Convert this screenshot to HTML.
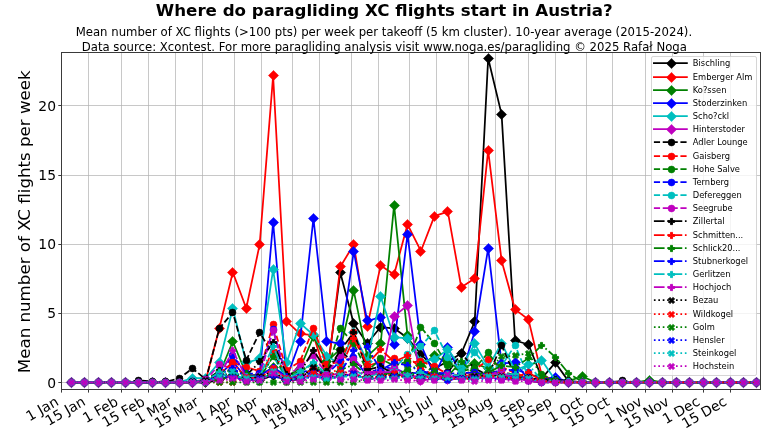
<!DOCTYPE html>
<html lang="en"><head><meta charset="utf-8"><title>Where do paragliding XC flights start in Austria?</title>
<style>html,body{margin:0;padding:0;background:#fff}body{width:768px;height:432px;overflow:hidden}</style>
</head><body>
<svg width="768" height="432" viewBox="0 0 768 432" style="display:block;will-change:transform;font-family:'DejaVu Sans','Liberation Sans',sans-serif">
<rect width="768" height="432" fill="#fff"/>
<clipPath id="axclip"><rect x="62" y="53" width="698" height="336"/></clipPath>
<path d="M88.5 53V389M121.5 53V389M148.5 53V389M175.5 53V389M202.5 53V389M234.5 53V389M261.5 53V389M292.5 53V389M319.5 53V389M351.5 53V389M378.5 53V389M409.5 53V389M436.5 53V389M468.5 53V389M495.5 53V389M528.5 53V389M555.5 53V389M586.5 53V389M612.5 53V389M645.5 53V389M672.5 53V389M703.5 53V389M730.5 53V389" stroke="#b0b0b0" stroke-opacity="0.7" stroke-width="1" fill="none"/>
<path d="M62 382.5H760M62 313.5H760M62 244.5H760M62 175.5H760M62 105.5H760" stroke="#b0b0b0" stroke-opacity="0.7" stroke-width="1" fill="none"/>
<g clip-path="url(#axclip)">
<g stroke="#000000" fill="#000000">
<polyline fill="none" stroke-width="1.75" stroke-linejoin="round" stroke-linecap="square" points="71.52,382.32 84.96,382.32 98.4,382.32 111.84,382.32 125.28,382.32 138.72,382.32 152.16,382.32 165.6,382.32 179.04,382.32 192.48,382.32 205.92,382.32 219.36,379.97 232.8,375.4 246.24,379.69 259.68,380.52 273.12,375.12 286.56,380.52 300,379.27 313.44,374.01 326.88,375.4 340.32,272.66 353.76,323.75 367.2,343.55 380.64,327.07 394.08,328.32 407.52,338.01 420.96,354.21 434.4,368.47 447.84,361.55 461.28,353.52 474.72,321.54 488.16,58.32 501.6,114.4 515.04,340.51 528.48,344.52 541.92,378.17 555.36,362.66 568.8,381.63 582.24,382.32 595.68,382.32 609.12,382.32 622.56,382.32 636,382.32 649.44,382.32 662.88,382.32 676.32,382.32 689.76,382.32 703.2,382.32 716.64,382.32 730.08,382.32 743.52,382.32 756.96,382.32"/>
<g stroke-width="0.56" stroke-linejoin="miter">
<path d="M71.5 377.41L76.59 382.5L71.5 387.59L66.41 382.5Z"/>
<path d="M84.5 377.41L89.59 382.5L84.5 387.59L79.41 382.5Z"/>
<path d="M98.5 377.41L103.59 382.5L98.5 387.59L93.41 382.5Z"/>
<path d="M111.5 377.41L116.59 382.5L111.5 387.59L106.41 382.5Z"/>
<path d="M125.5 377.41L130.59 382.5L125.5 387.59L120.41 382.5Z"/>
<path d="M138.5 377.41L143.59 382.5L138.5 387.59L133.41 382.5Z"/>
<path d="M152.5 377.41L157.59 382.5L152.5 387.59L147.41 382.5Z"/>
<path d="M165.5 377.41L170.59 382.5L165.5 387.59L160.41 382.5Z"/>
<path d="M179.5 377.41L184.59 382.5L179.5 387.59L174.41 382.5Z"/>
<path d="M192.5 377.41L197.59 382.5L192.5 387.59L187.41 382.5Z"/>
<path d="M205.5 377.41L210.59 382.5L205.5 387.59L200.41 382.5Z"/>
<path d="M219.5 374.41L224.59 379.5L219.5 384.59L214.41 379.5Z"/>
<path d="M232.5 370.41L237.59 375.5L232.5 380.59L227.41 375.5Z"/>
<path d="M246.5 374.41L251.59 379.5L246.5 384.59L241.41 379.5Z"/>
<path d="M259.5 375.41L264.59 380.5L259.5 385.59L254.41 380.5Z"/>
<path d="M273.5 370.41L278.59 375.5L273.5 380.59L268.41 375.5Z"/>
<path d="M286.5 375.41L291.59 380.5L286.5 385.59L281.41 380.5Z"/>
<path d="M300.5 374.41L305.59 379.5L300.5 384.59L295.41 379.5Z"/>
<path d="M313.5 369.41L318.59 374.5L313.5 379.59L308.41 374.5Z"/>
<path d="M326.5 370.41L331.59 375.5L326.5 380.59L321.41 375.5Z"/>
<path d="M340.5 267.41L345.59 272.5L340.5 277.59L335.41 272.5Z"/>
<path d="M353.5 318.41L358.59 323.5L353.5 328.59L348.41 323.5Z"/>
<path d="M367.5 338.41L372.59 343.5L367.5 348.59L362.41 343.5Z"/>
<path d="M380.5 322.41L385.59 327.5L380.5 332.59L375.41 327.5Z"/>
<path d="M394.5 323.41L399.59 328.5L394.5 333.59L389.41 328.5Z"/>
<path d="M407.5 333.41L412.59 338.5L407.5 343.59L402.41 338.5Z"/>
<path d="M420.5 349.41L425.59 354.5L420.5 359.59L415.41 354.5Z"/>
<path d="M434.5 363.41L439.59 368.5L434.5 373.59L429.41 368.5Z"/>
<path d="M447.5 356.41L452.59 361.5L447.5 366.59L442.41 361.5Z"/>
<path d="M461.5 348.41L466.59 353.5L461.5 358.59L456.41 353.5Z"/>
<path d="M474.5 316.41L479.59 321.5L474.5 326.59L469.41 321.5Z"/>
<path d="M488.5 53.41L493.59 58.5L488.5 63.59L483.41 58.5Z"/>
<path d="M501.5 109.41L506.59 114.5L501.5 119.59L496.41 114.5Z"/>
<path d="M515.5 335.41L520.59 340.5L515.5 345.59L510.41 340.5Z"/>
<path d="M528.5 339.41L533.59 344.5L528.5 349.59L523.41 344.5Z"/>
<path d="M541.5 373.41L546.59 378.5L541.5 383.59L536.41 378.5Z"/>
<path d="M555.5 357.41L560.59 362.5L555.5 367.59L550.41 362.5Z"/>
<path d="M568.5 376.41L573.59 381.5L568.5 386.59L563.41 381.5Z"/>
<path d="M582.5 377.41L587.59 382.5L582.5 387.59L577.41 382.5Z"/>
<path d="M595.5 377.41L600.59 382.5L595.5 387.59L590.41 382.5Z"/>
<path d="M609.5 377.41L614.59 382.5L609.5 387.59L604.41 382.5Z"/>
<path d="M622.5 377.41L627.59 382.5L622.5 387.59L617.41 382.5Z"/>
<path d="M636.5 377.41L641.59 382.5L636.5 387.59L631.41 382.5Z"/>
<path d="M649.5 377.41L654.59 382.5L649.5 387.59L644.41 382.5Z"/>
<path d="M662.5 377.41L667.59 382.5L662.5 387.59L657.41 382.5Z"/>
<path d="M676.5 377.41L681.59 382.5L676.5 387.59L671.41 382.5Z"/>
<path d="M689.5 377.41L694.59 382.5L689.5 387.59L684.41 382.5Z"/>
<path d="M703.5 377.41L708.59 382.5L703.5 387.59L698.41 382.5Z"/>
<path d="M716.5 377.41L721.59 382.5L716.5 387.59L711.41 382.5Z"/>
<path d="M730.5 377.41L735.59 382.5L730.5 387.59L725.41 382.5Z"/>
<path d="M743.5 377.41L748.59 382.5L743.5 387.59L738.41 382.5Z"/>
<path d="M756.5 377.41L761.59 382.5L756.5 387.59L751.41 382.5Z"/>
</g></g>
<g stroke="#ff0000" fill="#ff0000">
<polyline fill="none" stroke-width="1.75" stroke-linejoin="round" stroke-linecap="square" points="71.52,382.32 84.96,382.32 98.4,382.32 111.84,382.32 125.28,382.32 138.72,382.32 152.16,382.32 165.6,382.32 179.04,382.32 192.48,381.63 205.92,379.55 219.36,328.32 232.8,272.24 246.24,308.24 259.68,244.41 273.12,75.91 286.56,321.12 300,333.86 313.44,335.24 326.88,378.17 340.32,266.71 353.76,244.55 367.2,326.52 380.64,265.6 394.08,274.46 407.52,224.48 420.96,251.06 434.4,216.17 447.84,211.6 461.28,287.34 474.72,278.48 488.16,150.4 501.6,260.75 515.04,309.35 528.48,319.46 541.92,376.09 555.36,379.55 568.8,381.63 582.24,382.32 595.68,382.32 609.12,382.32 622.56,382.32 636,382.32 649.44,382.32 662.88,382.32 676.32,382.32 689.76,382.32 703.2,382.32 716.64,382.32 730.08,382.32 743.52,382.32 756.96,382.32"/>
<g stroke-width="0.56" stroke-linejoin="miter">
<path d="M71.5 377.41L76.59 382.5L71.5 387.59L66.41 382.5Z"/>
<path d="M84.5 377.41L89.59 382.5L84.5 387.59L79.41 382.5Z"/>
<path d="M98.5 377.41L103.59 382.5L98.5 387.59L93.41 382.5Z"/>
<path d="M111.5 377.41L116.59 382.5L111.5 387.59L106.41 382.5Z"/>
<path d="M125.5 377.41L130.59 382.5L125.5 387.59L120.41 382.5Z"/>
<path d="M138.5 377.41L143.59 382.5L138.5 387.59L133.41 382.5Z"/>
<path d="M152.5 377.41L157.59 382.5L152.5 387.59L147.41 382.5Z"/>
<path d="M165.5 377.41L170.59 382.5L165.5 387.59L160.41 382.5Z"/>
<path d="M179.5 377.41L184.59 382.5L179.5 387.59L174.41 382.5Z"/>
<path d="M192.5 376.41L197.59 381.5L192.5 386.59L187.41 381.5Z"/>
<path d="M205.5 374.41L210.59 379.5L205.5 384.59L200.41 379.5Z"/>
<path d="M219.5 323.41L224.59 328.5L219.5 333.59L214.41 328.5Z"/>
<path d="M232.5 267.41L237.59 272.5L232.5 277.59L227.41 272.5Z"/>
<path d="M246.5 303.41L251.59 308.5L246.5 313.59L241.41 308.5Z"/>
<path d="M259.5 239.41L264.59 244.5L259.5 249.59L254.41 244.5Z"/>
<path d="M273.5 70.41L278.59 75.5L273.5 80.59L268.41 75.5Z"/>
<path d="M286.5 316.41L291.59 321.5L286.5 326.59L281.41 321.5Z"/>
<path d="M300.5 328.41L305.59 333.5L300.5 338.59L295.41 333.5Z"/>
<path d="M313.5 330.41L318.59 335.5L313.5 340.59L308.41 335.5Z"/>
<path d="M326.5 373.41L331.59 378.5L326.5 383.59L321.41 378.5Z"/>
<path d="M340.5 261.41L345.59 266.5L340.5 271.59L335.41 266.5Z"/>
<path d="M353.5 239.41L358.59 244.5L353.5 249.59L348.41 244.5Z"/>
<path d="M367.5 321.41L372.59 326.5L367.5 331.59L362.41 326.5Z"/>
<path d="M380.5 260.41L385.59 265.5L380.5 270.59L375.41 265.5Z"/>
<path d="M394.5 269.41L399.59 274.5L394.5 279.59L389.41 274.5Z"/>
<path d="M407.5 219.41L412.59 224.5L407.5 229.59L402.41 224.5Z"/>
<path d="M420.5 246.41L425.59 251.5L420.5 256.59L415.41 251.5Z"/>
<path d="M434.5 211.41L439.59 216.5L434.5 221.59L429.41 216.5Z"/>
<path d="M447.5 206.41L452.59 211.5L447.5 216.59L442.41 211.5Z"/>
<path d="M461.5 282.41L466.59 287.5L461.5 292.59L456.41 287.5Z"/>
<path d="M474.5 273.41L479.59 278.5L474.5 283.59L469.41 278.5Z"/>
<path d="M488.5 145.41L493.59 150.5L488.5 155.59L483.41 150.5Z"/>
<path d="M501.5 255.41L506.59 260.5L501.5 265.59L496.41 260.5Z"/>
<path d="M515.5 304.41L520.59 309.5L515.5 314.59L510.41 309.5Z"/>
<path d="M528.5 314.41L533.59 319.5L528.5 324.59L523.41 319.5Z"/>
<path d="M541.5 371.41L546.59 376.5L541.5 381.59L536.41 376.5Z"/>
<path d="M555.5 374.41L560.59 379.5L555.5 384.59L550.41 379.5Z"/>
<path d="M568.5 376.41L573.59 381.5L568.5 386.59L563.41 381.5Z"/>
<path d="M582.5 377.41L587.59 382.5L582.5 387.59L577.41 382.5Z"/>
<path d="M595.5 377.41L600.59 382.5L595.5 387.59L590.41 382.5Z"/>
<path d="M609.5 377.41L614.59 382.5L609.5 387.59L604.41 382.5Z"/>
<path d="M622.5 377.41L627.59 382.5L622.5 387.59L617.41 382.5Z"/>
<path d="M636.5 377.41L641.59 382.5L636.5 387.59L631.41 382.5Z"/>
<path d="M649.5 377.41L654.59 382.5L649.5 387.59L644.41 382.5Z"/>
<path d="M662.5 377.41L667.59 382.5L662.5 387.59L657.41 382.5Z"/>
<path d="M676.5 377.41L681.59 382.5L676.5 387.59L671.41 382.5Z"/>
<path d="M689.5 377.41L694.59 382.5L689.5 387.59L684.41 382.5Z"/>
<path d="M703.5 377.41L708.59 382.5L703.5 387.59L698.41 382.5Z"/>
<path d="M716.5 377.41L721.59 382.5L716.5 387.59L711.41 382.5Z"/>
<path d="M730.5 377.41L735.59 382.5L730.5 387.59L725.41 382.5Z"/>
<path d="M743.5 377.41L748.59 382.5L743.5 387.59L738.41 382.5Z"/>
<path d="M756.5 377.41L761.59 382.5L756.5 387.59L751.41 382.5Z"/>
</g></g>
<g stroke="#008000" fill="#008000">
<polyline fill="none" stroke-width="1.75" stroke-linejoin="round" stroke-linecap="square" points="71.52,382.32 84.96,382.32 98.4,382.32 111.84,382.32 125.28,382.32 138.72,382.32 152.16,382.32 165.6,382.32 179.04,382.32 192.48,382.32 205.92,380.94 219.36,374.01 232.8,341.47 246.24,374.01 259.68,375.4 273.12,367.5 286.56,376.78 300,368.47 313.44,336.63 326.88,361.55 340.32,349.09 353.76,290.94 367.2,356.43 380.64,343.97 394.08,205.09 407.52,335.66 420.96,365.7 434.4,355.74 447.84,363.35 461.28,368.47 474.72,363.35 488.16,368.47 501.6,375.4 515.04,376.78 528.48,378.17 541.92,379.55 555.36,380.94 568.8,380.94 582.24,376.5 595.68,382.32 609.12,382.32 622.56,382.32 636,382.32 649.44,380.1 662.88,382.32 676.32,382.32 689.76,382.32 703.2,382.32 716.64,382.32 730.08,382.32 743.52,382.32 756.96,382.32"/>
<g stroke-width="0.56" stroke-linejoin="miter">
<path d="M71.5 377.41L76.59 382.5L71.5 387.59L66.41 382.5Z"/>
<path d="M84.5 377.41L89.59 382.5L84.5 387.59L79.41 382.5Z"/>
<path d="M98.5 377.41L103.59 382.5L98.5 387.59L93.41 382.5Z"/>
<path d="M111.5 377.41L116.59 382.5L111.5 387.59L106.41 382.5Z"/>
<path d="M125.5 377.41L130.59 382.5L125.5 387.59L120.41 382.5Z"/>
<path d="M138.5 377.41L143.59 382.5L138.5 387.59L133.41 382.5Z"/>
<path d="M152.5 377.41L157.59 382.5L152.5 387.59L147.41 382.5Z"/>
<path d="M165.5 377.41L170.59 382.5L165.5 387.59L160.41 382.5Z"/>
<path d="M179.5 377.41L184.59 382.5L179.5 387.59L174.41 382.5Z"/>
<path d="M192.5 377.41L197.59 382.5L192.5 387.59L187.41 382.5Z"/>
<path d="M205.5 375.41L210.59 380.5L205.5 385.59L200.41 380.5Z"/>
<path d="M219.5 369.41L224.59 374.5L219.5 379.59L214.41 374.5Z"/>
<path d="M232.5 336.41L237.59 341.5L232.5 346.59L227.41 341.5Z"/>
<path d="M246.5 369.41L251.59 374.5L246.5 379.59L241.41 374.5Z"/>
<path d="M259.5 370.41L264.59 375.5L259.5 380.59L254.41 375.5Z"/>
<path d="M273.5 362.41L278.59 367.5L273.5 372.59L268.41 367.5Z"/>
<path d="M286.5 371.41L291.59 376.5L286.5 381.59L281.41 376.5Z"/>
<path d="M300.5 363.41L305.59 368.5L300.5 373.59L295.41 368.5Z"/>
<path d="M313.5 331.41L318.59 336.5L313.5 341.59L308.41 336.5Z"/>
<path d="M326.5 356.41L331.59 361.5L326.5 366.59L321.41 361.5Z"/>
<path d="M340.5 344.41L345.59 349.5L340.5 354.59L335.41 349.5Z"/>
<path d="M353.5 285.41L358.59 290.5L353.5 295.59L348.41 290.5Z"/>
<path d="M367.5 351.41L372.59 356.5L367.5 361.59L362.41 356.5Z"/>
<path d="M380.5 338.41L385.59 343.5L380.5 348.59L375.41 343.5Z"/>
<path d="M394.5 200.41L399.59 205.5L394.5 210.59L389.41 205.5Z"/>
<path d="M407.5 330.41L412.59 335.5L407.5 340.59L402.41 335.5Z"/>
<path d="M420.5 360.41L425.59 365.5L420.5 370.59L415.41 365.5Z"/>
<path d="M434.5 350.41L439.59 355.5L434.5 360.59L429.41 355.5Z"/>
<path d="M447.5 358.41L452.59 363.5L447.5 368.59L442.41 363.5Z"/>
<path d="M461.5 363.41L466.59 368.5L461.5 373.59L456.41 368.5Z"/>
<path d="M474.5 358.41L479.59 363.5L474.5 368.59L469.41 363.5Z"/>
<path d="M488.5 363.41L493.59 368.5L488.5 373.59L483.41 368.5Z"/>
<path d="M501.5 370.41L506.59 375.5L501.5 380.59L496.41 375.5Z"/>
<path d="M515.5 371.41L520.59 376.5L515.5 381.59L510.41 376.5Z"/>
<path d="M528.5 373.41L533.59 378.5L528.5 383.59L523.41 378.5Z"/>
<path d="M541.5 374.41L546.59 379.5L541.5 384.59L536.41 379.5Z"/>
<path d="M555.5 375.41L560.59 380.5L555.5 385.59L550.41 380.5Z"/>
<path d="M568.5 375.41L573.59 380.5L568.5 385.59L563.41 380.5Z"/>
<path d="M582.5 371.41L587.59 376.5L582.5 381.59L577.41 376.5Z"/>
<path d="M595.5 377.41L600.59 382.5L595.5 387.59L590.41 382.5Z"/>
<path d="M609.5 377.41L614.59 382.5L609.5 387.59L604.41 382.5Z"/>
<path d="M622.5 377.41L627.59 382.5L622.5 387.59L617.41 382.5Z"/>
<path d="M636.5 377.41L641.59 382.5L636.5 387.59L631.41 382.5Z"/>
<path d="M649.5 375.41L654.59 380.5L649.5 385.59L644.41 380.5Z"/>
<path d="M662.5 377.41L667.59 382.5L662.5 387.59L657.41 382.5Z"/>
<path d="M676.5 377.41L681.59 382.5L676.5 387.59L671.41 382.5Z"/>
<path d="M689.5 377.41L694.59 382.5L689.5 387.59L684.41 382.5Z"/>
<path d="M703.5 377.41L708.59 382.5L703.5 387.59L698.41 382.5Z"/>
<path d="M716.5 377.41L721.59 382.5L716.5 387.59L711.41 382.5Z"/>
<path d="M730.5 377.41L735.59 382.5L730.5 387.59L725.41 382.5Z"/>
<path d="M743.5 377.41L748.59 382.5L743.5 387.59L738.41 382.5Z"/>
<path d="M756.5 377.41L761.59 382.5L756.5 387.59L751.41 382.5Z"/>
</g></g>
<g stroke="#0000ff" fill="#0000ff">
<polyline fill="none" stroke-width="1.75" stroke-linejoin="round" stroke-linecap="square" points="71.52,382.32 84.96,382.32 98.4,382.32 111.84,382.32 125.28,382.32 138.72,382.32 152.16,382.32 165.6,382.32 179.04,382.32 192.48,382.32 205.92,380.94 219.36,375.4 232.8,361.55 246.24,378.17 259.68,375.4 273.12,222.26 286.56,378.17 300,341.2 313.44,218.24 326.88,341.2 340.32,343.83 353.76,251.48 367.2,320.98 380.64,317.11 394.08,344.94 407.52,234.03 420.96,344.94 434.4,375.4 447.84,347.43 461.28,375.81 474.72,331.51 488.16,248.29 501.6,363.35 515.04,362.66 528.48,379.55 541.92,379.55 555.36,377.06 568.8,382.32 582.24,382.32 595.68,382.32 609.12,382.32 622.56,382.32 636,382.32 649.44,382.32 662.88,382.32 676.32,382.32 689.76,382.32 703.2,382.32 716.64,382.32 730.08,382.32 743.52,382.32 756.96,382.32"/>
<g stroke-width="0.56" stroke-linejoin="miter">
<path d="M71.5 377.41L76.59 382.5L71.5 387.59L66.41 382.5Z"/>
<path d="M84.5 377.41L89.59 382.5L84.5 387.59L79.41 382.5Z"/>
<path d="M98.5 377.41L103.59 382.5L98.5 387.59L93.41 382.5Z"/>
<path d="M111.5 377.41L116.59 382.5L111.5 387.59L106.41 382.5Z"/>
<path d="M125.5 377.41L130.59 382.5L125.5 387.59L120.41 382.5Z"/>
<path d="M138.5 377.41L143.59 382.5L138.5 387.59L133.41 382.5Z"/>
<path d="M152.5 377.41L157.59 382.5L152.5 387.59L147.41 382.5Z"/>
<path d="M165.5 377.41L170.59 382.5L165.5 387.59L160.41 382.5Z"/>
<path d="M179.5 377.41L184.59 382.5L179.5 387.59L174.41 382.5Z"/>
<path d="M192.5 377.41L197.59 382.5L192.5 387.59L187.41 382.5Z"/>
<path d="M205.5 375.41L210.59 380.5L205.5 385.59L200.41 380.5Z"/>
<path d="M219.5 370.41L224.59 375.5L219.5 380.59L214.41 375.5Z"/>
<path d="M232.5 356.41L237.59 361.5L232.5 366.59L227.41 361.5Z"/>
<path d="M246.5 373.41L251.59 378.5L246.5 383.59L241.41 378.5Z"/>
<path d="M259.5 370.41L264.59 375.5L259.5 380.59L254.41 375.5Z"/>
<path d="M273.5 217.41L278.59 222.5L273.5 227.59L268.41 222.5Z"/>
<path d="M286.5 373.41L291.59 378.5L286.5 383.59L281.41 378.5Z"/>
<path d="M300.5 336.41L305.59 341.5L300.5 346.59L295.41 341.5Z"/>
<path d="M313.5 213.41L318.59 218.5L313.5 223.59L308.41 218.5Z"/>
<path d="M326.5 336.41L331.59 341.5L326.5 346.59L321.41 341.5Z"/>
<path d="M340.5 338.41L345.59 343.5L340.5 348.59L335.41 343.5Z"/>
<path d="M353.5 246.41L358.59 251.5L353.5 256.59L348.41 251.5Z"/>
<path d="M367.5 315.41L372.59 320.5L367.5 325.59L362.41 320.5Z"/>
<path d="M380.5 312.41L385.59 317.5L380.5 322.59L375.41 317.5Z"/>
<path d="M394.5 339.41L399.59 344.5L394.5 349.59L389.41 344.5Z"/>
<path d="M407.5 229.41L412.59 234.5L407.5 239.59L402.41 234.5Z"/>
<path d="M420.5 339.41L425.59 344.5L420.5 349.59L415.41 344.5Z"/>
<path d="M434.5 370.41L439.59 375.5L434.5 380.59L429.41 375.5Z"/>
<path d="M447.5 342.41L452.59 347.5L447.5 352.59L442.41 347.5Z"/>
<path d="M461.5 370.41L466.59 375.5L461.5 380.59L456.41 375.5Z"/>
<path d="M474.5 326.41L479.59 331.5L474.5 336.59L469.41 331.5Z"/>
<path d="M488.5 243.41L493.59 248.5L488.5 253.59L483.41 248.5Z"/>
<path d="M501.5 358.41L506.59 363.5L501.5 368.59L496.41 363.5Z"/>
<path d="M515.5 357.41L520.59 362.5L515.5 367.59L510.41 362.5Z"/>
<path d="M528.5 374.41L533.59 379.5L528.5 384.59L523.41 379.5Z"/>
<path d="M541.5 374.41L546.59 379.5L541.5 384.59L536.41 379.5Z"/>
<path d="M555.5 372.41L560.59 377.5L555.5 382.59L550.41 377.5Z"/>
<path d="M568.5 377.41L573.59 382.5L568.5 387.59L563.41 382.5Z"/>
<path d="M582.5 377.41L587.59 382.5L582.5 387.59L577.41 382.5Z"/>
<path d="M595.5 377.41L600.59 382.5L595.5 387.59L590.41 382.5Z"/>
<path d="M609.5 377.41L614.59 382.5L609.5 387.59L604.41 382.5Z"/>
<path d="M622.5 377.41L627.59 382.5L622.5 387.59L617.41 382.5Z"/>
<path d="M636.5 377.41L641.59 382.5L636.5 387.59L631.41 382.5Z"/>
<path d="M649.5 377.41L654.59 382.5L649.5 387.59L644.41 382.5Z"/>
<path d="M662.5 377.41L667.59 382.5L662.5 387.59L657.41 382.5Z"/>
<path d="M676.5 377.41L681.59 382.5L676.5 387.59L671.41 382.5Z"/>
<path d="M689.5 377.41L694.59 382.5L689.5 387.59L684.41 382.5Z"/>
<path d="M703.5 377.41L708.59 382.5L703.5 387.59L698.41 382.5Z"/>
<path d="M716.5 377.41L721.59 382.5L716.5 387.59L711.41 382.5Z"/>
<path d="M730.5 377.41L735.59 382.5L730.5 387.59L725.41 382.5Z"/>
<path d="M743.5 377.41L748.59 382.5L743.5 387.59L738.41 382.5Z"/>
<path d="M756.5 377.41L761.59 382.5L756.5 387.59L751.41 382.5Z"/>
</g></g>
<g stroke="#00bfbf" fill="#00bfbf">
<polyline fill="none" stroke-width="1.75" stroke-linejoin="round" stroke-linecap="square" points="71.52,382.32 84.96,382.32 98.4,382.32 111.84,382.32 125.28,382.32 138.72,382.32 152.16,382.32 165.6,382.32 179.04,382.32 192.48,378.17 205.92,378.17 219.36,362.24 232.8,308.52 246.24,362.94 259.68,358.78 273.12,269.34 286.56,362.94 300,323.2 313.44,334.97 326.88,356.01 340.32,364.32 353.76,332.47 367.2,361.55 380.64,296.47 394.08,337.04 407.52,338.29 420.96,361.55 434.4,359.2 447.84,349.5 461.28,367.5 474.72,343.83 488.16,367.09 501.6,343.27 515.04,370.27 528.48,364.74 541.92,360.58 555.36,380.24 568.8,382.32 582.24,382.32 595.68,382.32 609.12,382.32 622.56,382.32 636,382.32 649.44,382.32 662.88,382.32 676.32,382.32 689.76,382.32 703.2,382.32 716.64,382.32 730.08,382.32 743.52,382.32 756.96,382.32"/>
<g stroke-width="0.56" stroke-linejoin="miter">
<path d="M71.5 377.41L76.59 382.5L71.5 387.59L66.41 382.5Z"/>
<path d="M84.5 377.41L89.59 382.5L84.5 387.59L79.41 382.5Z"/>
<path d="M98.5 377.41L103.59 382.5L98.5 387.59L93.41 382.5Z"/>
<path d="M111.5 377.41L116.59 382.5L111.5 387.59L106.41 382.5Z"/>
<path d="M125.5 377.41L130.59 382.5L125.5 387.59L120.41 382.5Z"/>
<path d="M138.5 377.41L143.59 382.5L138.5 387.59L133.41 382.5Z"/>
<path d="M152.5 377.41L157.59 382.5L152.5 387.59L147.41 382.5Z"/>
<path d="M165.5 377.41L170.59 382.5L165.5 387.59L160.41 382.5Z"/>
<path d="M179.5 377.41L184.59 382.5L179.5 387.59L174.41 382.5Z"/>
<path d="M192.5 373.41L197.59 378.5L192.5 383.59L187.41 378.5Z"/>
<path d="M205.5 373.41L210.59 378.5L205.5 383.59L200.41 378.5Z"/>
<path d="M219.5 357.41L224.59 362.5L219.5 367.59L214.41 362.5Z"/>
<path d="M232.5 303.41L237.59 308.5L232.5 313.59L227.41 308.5Z"/>
<path d="M246.5 357.41L251.59 362.5L246.5 367.59L241.41 362.5Z"/>
<path d="M259.5 353.41L264.59 358.5L259.5 363.59L254.41 358.5Z"/>
<path d="M273.5 264.41L278.59 269.5L273.5 274.59L268.41 269.5Z"/>
<path d="M286.5 357.41L291.59 362.5L286.5 367.59L281.41 362.5Z"/>
<path d="M300.5 318.41L305.59 323.5L300.5 328.59L295.41 323.5Z"/>
<path d="M313.5 329.41L318.59 334.5L313.5 339.59L308.41 334.5Z"/>
<path d="M326.5 351.41L331.59 356.5L326.5 361.59L321.41 356.5Z"/>
<path d="M340.5 359.41L345.59 364.5L340.5 369.59L335.41 364.5Z"/>
<path d="M353.5 327.41L358.59 332.5L353.5 337.59L348.41 332.5Z"/>
<path d="M367.5 356.41L372.59 361.5L367.5 366.59L362.41 361.5Z"/>
<path d="M380.5 291.41L385.59 296.5L380.5 301.59L375.41 296.5Z"/>
<path d="M394.5 332.41L399.59 337.5L394.5 342.59L389.41 337.5Z"/>
<path d="M407.5 333.41L412.59 338.5L407.5 343.59L402.41 338.5Z"/>
<path d="M420.5 356.41L425.59 361.5L420.5 366.59L415.41 361.5Z"/>
<path d="M434.5 354.41L439.59 359.5L434.5 364.59L429.41 359.5Z"/>
<path d="M447.5 344.41L452.59 349.5L447.5 354.59L442.41 349.5Z"/>
<path d="M461.5 362.41L466.59 367.5L461.5 372.59L456.41 367.5Z"/>
<path d="M474.5 338.41L479.59 343.5L474.5 348.59L469.41 343.5Z"/>
<path d="M488.5 362.41L493.59 367.5L488.5 372.59L483.41 367.5Z"/>
<path d="M501.5 338.41L506.59 343.5L501.5 348.59L496.41 343.5Z"/>
<path d="M515.5 365.41L520.59 370.5L515.5 375.59L510.41 370.5Z"/>
<path d="M528.5 359.41L533.59 364.5L528.5 369.59L523.41 364.5Z"/>
<path d="M541.5 355.41L546.59 360.5L541.5 365.59L536.41 360.5Z"/>
<path d="M555.5 375.41L560.59 380.5L555.5 385.59L550.41 380.5Z"/>
<path d="M568.5 377.41L573.59 382.5L568.5 387.59L563.41 382.5Z"/>
<path d="M582.5 377.41L587.59 382.5L582.5 387.59L577.41 382.5Z"/>
<path d="M595.5 377.41L600.59 382.5L595.5 387.59L590.41 382.5Z"/>
<path d="M609.5 377.41L614.59 382.5L609.5 387.59L604.41 382.5Z"/>
<path d="M622.5 377.41L627.59 382.5L622.5 387.59L617.41 382.5Z"/>
<path d="M636.5 377.41L641.59 382.5L636.5 387.59L631.41 382.5Z"/>
<path d="M649.5 377.41L654.59 382.5L649.5 387.59L644.41 382.5Z"/>
<path d="M662.5 377.41L667.59 382.5L662.5 387.59L657.41 382.5Z"/>
<path d="M676.5 377.41L681.59 382.5L676.5 387.59L671.41 382.5Z"/>
<path d="M689.5 377.41L694.59 382.5L689.5 387.59L684.41 382.5Z"/>
<path d="M703.5 377.41L708.59 382.5L703.5 387.59L698.41 382.5Z"/>
<path d="M716.5 377.41L721.59 382.5L716.5 387.59L711.41 382.5Z"/>
<path d="M730.5 377.41L735.59 382.5L730.5 387.59L725.41 382.5Z"/>
<path d="M743.5 377.41L748.59 382.5L743.5 387.59L738.41 382.5Z"/>
<path d="M756.5 377.41L761.59 382.5L756.5 387.59L751.41 382.5Z"/>
</g></g>
<g stroke="#bf00bf" fill="#bf00bf">
<polyline fill="none" stroke-width="1.75" stroke-linejoin="round" stroke-linecap="square" points="71.52,382.32 84.96,382.32 98.4,382.32 111.84,382.32 125.28,382.32 138.72,382.32 152.16,382.32 165.6,382.32 179.04,382.32 192.48,382.04 205.92,381.35 219.36,378.44 232.8,376.92 246.24,380.66 259.68,379.27 273.12,373.87 286.56,379.55 300,379.27 313.44,375.12 326.88,379.27 340.32,374.98 353.76,374.57 367.2,378.86 380.64,378.17 394.08,316.14 407.52,305.47 420.96,380.66 434.4,378.3 447.84,379.55 461.28,378.72 474.72,378.58 488.16,377.34 501.6,378.86 515.04,379.97 528.48,379 541.92,381.07 555.36,381.77 568.8,382.18 582.24,382.32 595.68,382.32 609.12,382.32 622.56,382.32 636,382.32 649.44,382.32 662.88,382.32 676.32,382.32 689.76,382.32 703.2,382.32 716.64,382.32 730.08,382.32 743.52,382.32 756.96,382.32"/>
<g stroke-width="0.56" stroke-linejoin="miter">
<path d="M71.5 377.41L76.59 382.5L71.5 387.59L66.41 382.5Z"/>
<path d="M84.5 377.41L89.59 382.5L84.5 387.59L79.41 382.5Z"/>
<path d="M98.5 377.41L103.59 382.5L98.5 387.59L93.41 382.5Z"/>
<path d="M111.5 377.41L116.59 382.5L111.5 387.59L106.41 382.5Z"/>
<path d="M125.5 377.41L130.59 382.5L125.5 387.59L120.41 382.5Z"/>
<path d="M138.5 377.41L143.59 382.5L138.5 387.59L133.41 382.5Z"/>
<path d="M152.5 377.41L157.59 382.5L152.5 387.59L147.41 382.5Z"/>
<path d="M165.5 377.41L170.59 382.5L165.5 387.59L160.41 382.5Z"/>
<path d="M179.5 377.41L184.59 382.5L179.5 387.59L174.41 382.5Z"/>
<path d="M192.5 377.41L197.59 382.5L192.5 387.59L187.41 382.5Z"/>
<path d="M205.5 376.41L210.59 381.5L205.5 386.59L200.41 381.5Z"/>
<path d="M219.5 373.41L224.59 378.5L219.5 383.59L214.41 378.5Z"/>
<path d="M232.5 371.41L237.59 376.5L232.5 381.59L227.41 376.5Z"/>
<path d="M246.5 375.41L251.59 380.5L246.5 385.59L241.41 380.5Z"/>
<path d="M259.5 374.41L264.59 379.5L259.5 384.59L254.41 379.5Z"/>
<path d="M273.5 368.41L278.59 373.5L273.5 378.59L268.41 373.5Z"/>
<path d="M286.5 374.41L291.59 379.5L286.5 384.59L281.41 379.5Z"/>
<path d="M300.5 374.41L305.59 379.5L300.5 384.59L295.41 379.5Z"/>
<path d="M313.5 370.41L318.59 375.5L313.5 380.59L308.41 375.5Z"/>
<path d="M326.5 374.41L331.59 379.5L326.5 384.59L321.41 379.5Z"/>
<path d="M340.5 369.41L345.59 374.5L340.5 379.59L335.41 374.5Z"/>
<path d="M353.5 369.41L358.59 374.5L353.5 379.59L348.41 374.5Z"/>
<path d="M367.5 373.41L372.59 378.5L367.5 383.59L362.41 378.5Z"/>
<path d="M380.5 373.41L385.59 378.5L380.5 383.59L375.41 378.5Z"/>
<path d="M394.5 311.41L399.59 316.5L394.5 321.59L389.41 316.5Z"/>
<path d="M407.5 300.41L412.59 305.5L407.5 310.59L402.41 305.5Z"/>
<path d="M420.5 375.41L425.59 380.5L420.5 385.59L415.41 380.5Z"/>
<path d="M434.5 373.41L439.59 378.5L434.5 383.59L429.41 378.5Z"/>
<path d="M447.5 374.41L452.59 379.5L447.5 384.59L442.41 379.5Z"/>
<path d="M461.5 373.41L466.59 378.5L461.5 383.59L456.41 378.5Z"/>
<path d="M474.5 373.41L479.59 378.5L474.5 383.59L469.41 378.5Z"/>
<path d="M488.5 372.41L493.59 377.5L488.5 382.59L483.41 377.5Z"/>
<path d="M501.5 373.41L506.59 378.5L501.5 383.59L496.41 378.5Z"/>
<path d="M515.5 374.41L520.59 379.5L515.5 384.59L510.41 379.5Z"/>
<path d="M528.5 373.41L533.59 378.5L528.5 383.59L523.41 378.5Z"/>
<path d="M541.5 376.41L546.59 381.5L541.5 386.59L536.41 381.5Z"/>
<path d="M555.5 376.41L560.59 381.5L555.5 386.59L550.41 381.5Z"/>
<path d="M568.5 377.41L573.59 382.5L568.5 387.59L563.41 382.5Z"/>
<path d="M582.5 377.41L587.59 382.5L582.5 387.59L577.41 382.5Z"/>
<path d="M595.5 377.41L600.59 382.5L595.5 387.59L590.41 382.5Z"/>
<path d="M609.5 377.41L614.59 382.5L609.5 387.59L604.41 382.5Z"/>
<path d="M622.5 377.41L627.59 382.5L622.5 387.59L617.41 382.5Z"/>
<path d="M636.5 377.41L641.59 382.5L636.5 387.59L631.41 382.5Z"/>
<path d="M649.5 377.41L654.59 382.5L649.5 387.59L644.41 382.5Z"/>
<path d="M662.5 377.41L667.59 382.5L662.5 387.59L657.41 382.5Z"/>
<path d="M676.5 377.41L681.59 382.5L676.5 387.59L671.41 382.5Z"/>
<path d="M689.5 377.41L694.59 382.5L689.5 387.59L684.41 382.5Z"/>
<path d="M703.5 377.41L708.59 382.5L703.5 387.59L698.41 382.5Z"/>
<path d="M716.5 377.41L721.59 382.5L716.5 387.59L711.41 382.5Z"/>
<path d="M730.5 377.41L735.59 382.5L730.5 387.59L725.41 382.5Z"/>
<path d="M743.5 377.41L748.59 382.5L743.5 387.59L738.41 382.5Z"/>
<path d="M756.5 377.41L761.59 382.5L756.5 387.59L751.41 382.5Z"/>
</g></g>
<g stroke="#000000" fill="#000000">
<polyline fill="none" stroke-width="1.75" stroke-linejoin="round" stroke-dasharray="6.17 2.67" points="71.52,382.32 84.96,382.32 98.4,382.32 111.84,382.32 125.28,382.32 138.72,380.24 152.16,381.63 165.6,381.63 179.04,378.72 192.48,368.34 205.92,379.55 219.36,328.32 232.8,312.54 246.24,360.17 259.68,332.47 273.12,354.63 286.56,375.4 300,378.17 313.44,368.47 326.88,375.4 340.32,350.47 353.76,362.94 367.2,368.47 380.64,374.01 394.08,375.4 407.52,374.01 420.96,371.24 434.4,375.4 447.84,372.63 461.28,353.52 474.72,368.47 488.16,375.4 501.6,345.35 515.04,375.81 528.48,380.94 541.92,382.32 555.36,382.32 568.8,382.32 582.24,382.32 595.68,382.32 609.12,382.32 622.56,380.94 636,382.32 649.44,382.32 662.88,382.32 676.32,382.32 689.76,382.32 703.2,382.32 716.64,382.32 730.08,382.32 743.52,382.32 756.96,382.32"/>
<g stroke-width="0.56" stroke-linejoin="miter">
<circle cx="71.5" cy="382.5" r="3.45"/>
<circle cx="84.5" cy="382.5" r="3.45"/>
<circle cx="98.5" cy="382.5" r="3.45"/>
<circle cx="111.5" cy="382.5" r="3.45"/>
<circle cx="125.5" cy="382.5" r="3.45"/>
<circle cx="138.5" cy="380.5" r="3.45"/>
<circle cx="152.5" cy="381.5" r="3.45"/>
<circle cx="165.5" cy="381.5" r="3.45"/>
<circle cx="179.5" cy="378.5" r="3.45"/>
<circle cx="192.5" cy="368.5" r="3.45"/>
<circle cx="205.5" cy="379.5" r="3.45"/>
<circle cx="219.5" cy="328.5" r="3.45"/>
<circle cx="232.5" cy="312.5" r="3.45"/>
<circle cx="246.5" cy="360.5" r="3.45"/>
<circle cx="259.5" cy="332.5" r="3.45"/>
<circle cx="273.5" cy="354.5" r="3.45"/>
<circle cx="286.5" cy="375.5" r="3.45"/>
<circle cx="300.5" cy="378.5" r="3.45"/>
<circle cx="313.5" cy="368.5" r="3.45"/>
<circle cx="326.5" cy="375.5" r="3.45"/>
<circle cx="340.5" cy="350.5" r="3.45"/>
<circle cx="353.5" cy="362.5" r="3.45"/>
<circle cx="367.5" cy="368.5" r="3.45"/>
<circle cx="380.5" cy="374.5" r="3.45"/>
<circle cx="394.5" cy="375.5" r="3.45"/>
<circle cx="407.5" cy="374.5" r="3.45"/>
<circle cx="420.5" cy="371.5" r="3.45"/>
<circle cx="434.5" cy="375.5" r="3.45"/>
<circle cx="447.5" cy="372.5" r="3.45"/>
<circle cx="461.5" cy="353.5" r="3.45"/>
<circle cx="474.5" cy="368.5" r="3.45"/>
<circle cx="488.5" cy="375.5" r="3.45"/>
<circle cx="501.5" cy="345.5" r="3.45"/>
<circle cx="515.5" cy="375.5" r="3.45"/>
<circle cx="528.5" cy="380.5" r="3.45"/>
<circle cx="541.5" cy="382.5" r="3.45"/>
<circle cx="555.5" cy="382.5" r="3.45"/>
<circle cx="568.5" cy="382.5" r="3.45"/>
<circle cx="582.5" cy="382.5" r="3.45"/>
<circle cx="595.5" cy="382.5" r="3.45"/>
<circle cx="609.5" cy="382.5" r="3.45"/>
<circle cx="622.5" cy="380.5" r="3.45"/>
<circle cx="636.5" cy="382.5" r="3.45"/>
<circle cx="649.5" cy="382.5" r="3.45"/>
<circle cx="662.5" cy="382.5" r="3.45"/>
<circle cx="676.5" cy="382.5" r="3.45"/>
<circle cx="689.5" cy="382.5" r="3.45"/>
<circle cx="703.5" cy="382.5" r="3.45"/>
<circle cx="716.5" cy="382.5" r="3.45"/>
<circle cx="730.5" cy="382.5" r="3.45"/>
<circle cx="743.5" cy="382.5" r="3.45"/>
<circle cx="756.5" cy="382.5" r="3.45"/>
</g></g>
<g stroke="#ff0000" fill="#ff0000">
<polyline fill="none" stroke-width="1.75" stroke-linejoin="round" stroke-dasharray="6.17 2.67" points="71.52,382.32 84.96,382.32 98.4,382.32 111.84,382.32 125.28,382.32 138.72,382.32 152.16,382.32 165.6,382.32 179.04,382.32 192.48,382.32 205.92,380.94 219.36,374.01 232.8,362.66 246.24,367.09 259.68,371.24 273.12,324.17 286.56,370.27 300,361.55 313.44,328.32 326.88,364.74 340.32,361.55 353.76,332.47 367.2,366.12 380.64,361.55 394.08,358.78 407.52,362.94 420.96,361.27 434.4,366.81 447.84,374.01 461.28,375.4 474.72,369.86 488.16,359.89 501.6,367.09 515.04,373.04 528.48,378.17 541.92,381.63 555.36,382.32 568.8,382.32 582.24,382.32 595.68,382.32 609.12,382.32 622.56,382.32 636,382.32 649.44,382.32 662.88,382.32 676.32,382.32 689.76,382.32 703.2,382.32 716.64,382.32 730.08,382.32 743.52,382.32 756.96,382.32"/>
<g stroke-width="0.56" stroke-linejoin="miter">
<circle cx="71.5" cy="382.5" r="3.45"/>
<circle cx="84.5" cy="382.5" r="3.45"/>
<circle cx="98.5" cy="382.5" r="3.45"/>
<circle cx="111.5" cy="382.5" r="3.45"/>
<circle cx="125.5" cy="382.5" r="3.45"/>
<circle cx="138.5" cy="382.5" r="3.45"/>
<circle cx="152.5" cy="382.5" r="3.45"/>
<circle cx="165.5" cy="382.5" r="3.45"/>
<circle cx="179.5" cy="382.5" r="3.45"/>
<circle cx="192.5" cy="382.5" r="3.45"/>
<circle cx="205.5" cy="380.5" r="3.45"/>
<circle cx="219.5" cy="374.5" r="3.45"/>
<circle cx="232.5" cy="362.5" r="3.45"/>
<circle cx="246.5" cy="367.5" r="3.45"/>
<circle cx="259.5" cy="371.5" r="3.45"/>
<circle cx="273.5" cy="324.5" r="3.45"/>
<circle cx="286.5" cy="370.5" r="3.45"/>
<circle cx="300.5" cy="361.5" r="3.45"/>
<circle cx="313.5" cy="328.5" r="3.45"/>
<circle cx="326.5" cy="364.5" r="3.45"/>
<circle cx="340.5" cy="361.5" r="3.45"/>
<circle cx="353.5" cy="332.5" r="3.45"/>
<circle cx="367.5" cy="366.5" r="3.45"/>
<circle cx="380.5" cy="361.5" r="3.45"/>
<circle cx="394.5" cy="358.5" r="3.45"/>
<circle cx="407.5" cy="362.5" r="3.45"/>
<circle cx="420.5" cy="361.5" r="3.45"/>
<circle cx="434.5" cy="366.5" r="3.45"/>
<circle cx="447.5" cy="374.5" r="3.45"/>
<circle cx="461.5" cy="375.5" r="3.45"/>
<circle cx="474.5" cy="369.5" r="3.45"/>
<circle cx="488.5" cy="359.5" r="3.45"/>
<circle cx="501.5" cy="367.5" r="3.45"/>
<circle cx="515.5" cy="373.5" r="3.45"/>
<circle cx="528.5" cy="378.5" r="3.45"/>
<circle cx="541.5" cy="381.5" r="3.45"/>
<circle cx="555.5" cy="382.5" r="3.45"/>
<circle cx="568.5" cy="382.5" r="3.45"/>
<circle cx="582.5" cy="382.5" r="3.45"/>
<circle cx="595.5" cy="382.5" r="3.45"/>
<circle cx="609.5" cy="382.5" r="3.45"/>
<circle cx="622.5" cy="382.5" r="3.45"/>
<circle cx="636.5" cy="382.5" r="3.45"/>
<circle cx="649.5" cy="382.5" r="3.45"/>
<circle cx="662.5" cy="382.5" r="3.45"/>
<circle cx="676.5" cy="382.5" r="3.45"/>
<circle cx="689.5" cy="382.5" r="3.45"/>
<circle cx="703.5" cy="382.5" r="3.45"/>
<circle cx="716.5" cy="382.5" r="3.45"/>
<circle cx="730.5" cy="382.5" r="3.45"/>
<circle cx="743.5" cy="382.5" r="3.45"/>
<circle cx="756.5" cy="382.5" r="3.45"/>
</g></g>
<g stroke="#008000" fill="#008000">
<polyline fill="none" stroke-width="1.75" stroke-linejoin="round" stroke-dasharray="6.17 2.67" points="71.52,382.32 84.96,382.32 98.4,382.32 111.84,382.32 125.28,382.32 138.72,382.32 152.16,382.32 165.6,382.32 179.04,382.32 192.48,382.32 205.92,382.32 219.36,379.55 232.8,375.4 246.24,379.55 259.68,378.17 273.12,374.01 286.56,378.17 300,375.4 313.44,368.47 326.88,371.24 340.32,328.32 353.76,343.55 367.2,371.24 380.64,358.78 394.08,365.7 407.52,361.55 420.96,327.21 434.4,343.83 447.84,365.7 461.28,371.24 474.72,368.47 488.16,352.69 501.6,371.24 515.04,375.4 528.48,376.78 541.92,374.43 555.36,380.94 568.8,382.32 582.24,382.32 595.68,382.32 609.12,382.32 622.56,382.32 636,382.32 649.44,382.32 662.88,382.32 676.32,382.32 689.76,382.32 703.2,382.32 716.64,382.32 730.08,382.32 743.52,382.32 756.96,382.32"/>
<g stroke-width="0.56" stroke-linejoin="miter">
<circle cx="71.5" cy="382.5" r="3.45"/>
<circle cx="84.5" cy="382.5" r="3.45"/>
<circle cx="98.5" cy="382.5" r="3.45"/>
<circle cx="111.5" cy="382.5" r="3.45"/>
<circle cx="125.5" cy="382.5" r="3.45"/>
<circle cx="138.5" cy="382.5" r="3.45"/>
<circle cx="152.5" cy="382.5" r="3.45"/>
<circle cx="165.5" cy="382.5" r="3.45"/>
<circle cx="179.5" cy="382.5" r="3.45"/>
<circle cx="192.5" cy="382.5" r="3.45"/>
<circle cx="205.5" cy="382.5" r="3.45"/>
<circle cx="219.5" cy="379.5" r="3.45"/>
<circle cx="232.5" cy="375.5" r="3.45"/>
<circle cx="246.5" cy="379.5" r="3.45"/>
<circle cx="259.5" cy="378.5" r="3.45"/>
<circle cx="273.5" cy="374.5" r="3.45"/>
<circle cx="286.5" cy="378.5" r="3.45"/>
<circle cx="300.5" cy="375.5" r="3.45"/>
<circle cx="313.5" cy="368.5" r="3.45"/>
<circle cx="326.5" cy="371.5" r="3.45"/>
<circle cx="340.5" cy="328.5" r="3.45"/>
<circle cx="353.5" cy="343.5" r="3.45"/>
<circle cx="367.5" cy="371.5" r="3.45"/>
<circle cx="380.5" cy="358.5" r="3.45"/>
<circle cx="394.5" cy="365.5" r="3.45"/>
<circle cx="407.5" cy="361.5" r="3.45"/>
<circle cx="420.5" cy="327.5" r="3.45"/>
<circle cx="434.5" cy="343.5" r="3.45"/>
<circle cx="447.5" cy="365.5" r="3.45"/>
<circle cx="461.5" cy="371.5" r="3.45"/>
<circle cx="474.5" cy="368.5" r="3.45"/>
<circle cx="488.5" cy="352.5" r="3.45"/>
<circle cx="501.5" cy="371.5" r="3.45"/>
<circle cx="515.5" cy="375.5" r="3.45"/>
<circle cx="528.5" cy="376.5" r="3.45"/>
<circle cx="541.5" cy="374.5" r="3.45"/>
<circle cx="555.5" cy="380.5" r="3.45"/>
<circle cx="568.5" cy="382.5" r="3.45"/>
<circle cx="582.5" cy="382.5" r="3.45"/>
<circle cx="595.5" cy="382.5" r="3.45"/>
<circle cx="609.5" cy="382.5" r="3.45"/>
<circle cx="622.5" cy="382.5" r="3.45"/>
<circle cx="636.5" cy="382.5" r="3.45"/>
<circle cx="649.5" cy="382.5" r="3.45"/>
<circle cx="662.5" cy="382.5" r="3.45"/>
<circle cx="676.5" cy="382.5" r="3.45"/>
<circle cx="689.5" cy="382.5" r="3.45"/>
<circle cx="703.5" cy="382.5" r="3.45"/>
<circle cx="716.5" cy="382.5" r="3.45"/>
<circle cx="730.5" cy="382.5" r="3.45"/>
<circle cx="743.5" cy="382.5" r="3.45"/>
<circle cx="756.5" cy="382.5" r="3.45"/>
</g></g>
<g stroke="#0000ff" fill="#0000ff">
<polyline fill="none" stroke-width="1.75" stroke-linejoin="round" stroke-dasharray="6.17 2.67" points="71.52,382.32 84.96,382.32 98.4,382.32 111.84,382.32 125.28,382.32 138.72,382.32 152.16,382.32 165.6,382.32 179.04,382.32 192.48,381.63 205.92,380.38 219.36,371.1 232.8,355.46 246.24,373.6 259.68,373.46 273.12,329.71 286.56,377.75 300,373.32 313.44,368.47 326.88,374.43 340.32,361 353.76,357.95 367.2,375.95 380.64,366.54 394.08,369.03 407.52,372.63 420.96,373.46 434.4,372.35 447.84,373.74 461.28,373.18 474.72,372.35 488.16,374.7 501.6,369.58 515.04,370.27 528.48,372.77 541.92,379.41 555.36,381.35 568.8,382.04 582.24,382.32 595.68,382.32 609.12,382.32 622.56,382.32 636,382.32 649.44,382.32 662.88,382.32 676.32,382.32 689.76,382.32 703.2,382.32 716.64,382.32 730.08,382.32 743.52,382.32 756.96,382.32"/>
<g stroke-width="0.56" stroke-linejoin="miter">
<circle cx="71.5" cy="382.5" r="3.45"/>
<circle cx="84.5" cy="382.5" r="3.45"/>
<circle cx="98.5" cy="382.5" r="3.45"/>
<circle cx="111.5" cy="382.5" r="3.45"/>
<circle cx="125.5" cy="382.5" r="3.45"/>
<circle cx="138.5" cy="382.5" r="3.45"/>
<circle cx="152.5" cy="382.5" r="3.45"/>
<circle cx="165.5" cy="382.5" r="3.45"/>
<circle cx="179.5" cy="382.5" r="3.45"/>
<circle cx="192.5" cy="381.5" r="3.45"/>
<circle cx="205.5" cy="380.5" r="3.45"/>
<circle cx="219.5" cy="371.5" r="3.45"/>
<circle cx="232.5" cy="355.5" r="3.45"/>
<circle cx="246.5" cy="373.5" r="3.45"/>
<circle cx="259.5" cy="373.5" r="3.45"/>
<circle cx="273.5" cy="329.5" r="3.45"/>
<circle cx="286.5" cy="377.5" r="3.45"/>
<circle cx="300.5" cy="373.5" r="3.45"/>
<circle cx="313.5" cy="368.5" r="3.45"/>
<circle cx="326.5" cy="374.5" r="3.45"/>
<circle cx="340.5" cy="360.5" r="3.45"/>
<circle cx="353.5" cy="357.5" r="3.45"/>
<circle cx="367.5" cy="375.5" r="3.45"/>
<circle cx="380.5" cy="366.5" r="3.45"/>
<circle cx="394.5" cy="369.5" r="3.45"/>
<circle cx="407.5" cy="372.5" r="3.45"/>
<circle cx="420.5" cy="373.5" r="3.45"/>
<circle cx="434.5" cy="372.5" r="3.45"/>
<circle cx="447.5" cy="373.5" r="3.45"/>
<circle cx="461.5" cy="373.5" r="3.45"/>
<circle cx="474.5" cy="372.5" r="3.45"/>
<circle cx="488.5" cy="374.5" r="3.45"/>
<circle cx="501.5" cy="369.5" r="3.45"/>
<circle cx="515.5" cy="370.5" r="3.45"/>
<circle cx="528.5" cy="372.5" r="3.45"/>
<circle cx="541.5" cy="379.5" r="3.45"/>
<circle cx="555.5" cy="381.5" r="3.45"/>
<circle cx="568.5" cy="382.5" r="3.45"/>
<circle cx="582.5" cy="382.5" r="3.45"/>
<circle cx="595.5" cy="382.5" r="3.45"/>
<circle cx="609.5" cy="382.5" r="3.45"/>
<circle cx="622.5" cy="382.5" r="3.45"/>
<circle cx="636.5" cy="382.5" r="3.45"/>
<circle cx="649.5" cy="382.5" r="3.45"/>
<circle cx="662.5" cy="382.5" r="3.45"/>
<circle cx="676.5" cy="382.5" r="3.45"/>
<circle cx="689.5" cy="382.5" r="3.45"/>
<circle cx="703.5" cy="382.5" r="3.45"/>
<circle cx="716.5" cy="382.5" r="3.45"/>
<circle cx="730.5" cy="382.5" r="3.45"/>
<circle cx="743.5" cy="382.5" r="3.45"/>
<circle cx="756.5" cy="382.5" r="3.45"/>
</g></g>
<g stroke="#00bfbf" fill="#00bfbf">
<polyline fill="none" stroke-width="1.75" stroke-linejoin="round" stroke-dasharray="6.17 2.67" points="71.52,382.32 84.96,382.32 98.4,382.32 111.84,382.32 125.28,382.32 138.72,382.32 152.16,382.32 165.6,382.32 179.04,382.32 192.48,382.04 205.92,381.35 219.36,376.23 232.8,374.84 246.24,379.27 259.68,379 273.12,355.74 286.56,379.55 300,378.03 313.44,373.87 326.88,379.41 340.32,376.37 353.76,377.06 367.2,377.06 380.64,376.09 394.08,368.47 407.52,354.63 420.96,346.32 434.4,330.81 447.84,357.12 461.28,371.24 474.72,352.27 488.16,368.47 501.6,365.7 515.04,345.35 528.48,376.78 541.92,381.63 555.36,381.77 568.8,382.04 582.24,382.32 595.68,382.32 609.12,382.32 622.56,382.32 636,382.32 649.44,382.32 662.88,382.32 676.32,382.32 689.76,382.32 703.2,382.32 716.64,382.32 730.08,382.32 743.52,382.32 756.96,382.32"/>
<g stroke-width="0.56" stroke-linejoin="miter">
<circle cx="71.5" cy="382.5" r="3.45"/>
<circle cx="84.5" cy="382.5" r="3.45"/>
<circle cx="98.5" cy="382.5" r="3.45"/>
<circle cx="111.5" cy="382.5" r="3.45"/>
<circle cx="125.5" cy="382.5" r="3.45"/>
<circle cx="138.5" cy="382.5" r="3.45"/>
<circle cx="152.5" cy="382.5" r="3.45"/>
<circle cx="165.5" cy="382.5" r="3.45"/>
<circle cx="179.5" cy="382.5" r="3.45"/>
<circle cx="192.5" cy="382.5" r="3.45"/>
<circle cx="205.5" cy="381.5" r="3.45"/>
<circle cx="219.5" cy="376.5" r="3.45"/>
<circle cx="232.5" cy="374.5" r="3.45"/>
<circle cx="246.5" cy="379.5" r="3.45"/>
<circle cx="259.5" cy="378.5" r="3.45"/>
<circle cx="273.5" cy="355.5" r="3.45"/>
<circle cx="286.5" cy="379.5" r="3.45"/>
<circle cx="300.5" cy="378.5" r="3.45"/>
<circle cx="313.5" cy="373.5" r="3.45"/>
<circle cx="326.5" cy="379.5" r="3.45"/>
<circle cx="340.5" cy="376.5" r="3.45"/>
<circle cx="353.5" cy="377.5" r="3.45"/>
<circle cx="367.5" cy="377.5" r="3.45"/>
<circle cx="380.5" cy="376.5" r="3.45"/>
<circle cx="394.5" cy="368.5" r="3.45"/>
<circle cx="407.5" cy="354.5" r="3.45"/>
<circle cx="420.5" cy="346.5" r="3.45"/>
<circle cx="434.5" cy="330.5" r="3.45"/>
<circle cx="447.5" cy="357.5" r="3.45"/>
<circle cx="461.5" cy="371.5" r="3.45"/>
<circle cx="474.5" cy="352.5" r="3.45"/>
<circle cx="488.5" cy="368.5" r="3.45"/>
<circle cx="501.5" cy="365.5" r="3.45"/>
<circle cx="515.5" cy="345.5" r="3.45"/>
<circle cx="528.5" cy="376.5" r="3.45"/>
<circle cx="541.5" cy="381.5" r="3.45"/>
<circle cx="555.5" cy="381.5" r="3.45"/>
<circle cx="568.5" cy="382.5" r="3.45"/>
<circle cx="582.5" cy="382.5" r="3.45"/>
<circle cx="595.5" cy="382.5" r="3.45"/>
<circle cx="609.5" cy="382.5" r="3.45"/>
<circle cx="622.5" cy="382.5" r="3.45"/>
<circle cx="636.5" cy="382.5" r="3.45"/>
<circle cx="649.5" cy="382.5" r="3.45"/>
<circle cx="662.5" cy="382.5" r="3.45"/>
<circle cx="676.5" cy="382.5" r="3.45"/>
<circle cx="689.5" cy="382.5" r="3.45"/>
<circle cx="703.5" cy="382.5" r="3.45"/>
<circle cx="716.5" cy="382.5" r="3.45"/>
<circle cx="730.5" cy="382.5" r="3.45"/>
<circle cx="743.5" cy="382.5" r="3.45"/>
<circle cx="756.5" cy="382.5" r="3.45"/>
</g></g>
<g stroke="#bf00bf" fill="#bf00bf">
<polyline fill="none" stroke-width="1.75" stroke-linejoin="round" stroke-dasharray="6.17 2.67" points="71.52,382.32 84.96,382.32 98.4,382.32 111.84,382.32 125.28,382.32 138.72,382.32 152.16,382.32 165.6,382.32 179.04,382.32 192.48,382.32 205.92,379.55 219.36,364.74 232.8,368.47 246.24,375.4 259.68,375.4 273.12,330.67 286.56,376.78 300,366.12 313.44,355.74 326.88,374.01 340.32,355.74 353.76,359.89 367.2,371.24 380.64,372.63 394.08,367.5 407.52,375.4 420.96,376.78 434.4,378.17 447.84,376.78 461.28,378.17 474.72,376.78 488.16,375.4 501.6,370.27 515.04,378.17 528.48,380.94 541.92,382.32 555.36,382.32 568.8,382.32 582.24,382.32 595.68,382.32 609.12,382.32 622.56,382.32 636,382.32 649.44,382.32 662.88,382.32 676.32,382.32 689.76,382.32 703.2,382.32 716.64,382.32 730.08,382.32 743.52,382.32 756.96,382.32"/>
<g stroke-width="0.56" stroke-linejoin="miter">
<circle cx="71.5" cy="382.5" r="3.45"/>
<circle cx="84.5" cy="382.5" r="3.45"/>
<circle cx="98.5" cy="382.5" r="3.45"/>
<circle cx="111.5" cy="382.5" r="3.45"/>
<circle cx="125.5" cy="382.5" r="3.45"/>
<circle cx="138.5" cy="382.5" r="3.45"/>
<circle cx="152.5" cy="382.5" r="3.45"/>
<circle cx="165.5" cy="382.5" r="3.45"/>
<circle cx="179.5" cy="382.5" r="3.45"/>
<circle cx="192.5" cy="382.5" r="3.45"/>
<circle cx="205.5" cy="379.5" r="3.45"/>
<circle cx="219.5" cy="364.5" r="3.45"/>
<circle cx="232.5" cy="368.5" r="3.45"/>
<circle cx="246.5" cy="375.5" r="3.45"/>
<circle cx="259.5" cy="375.5" r="3.45"/>
<circle cx="273.5" cy="330.5" r="3.45"/>
<circle cx="286.5" cy="376.5" r="3.45"/>
<circle cx="300.5" cy="366.5" r="3.45"/>
<circle cx="313.5" cy="355.5" r="3.45"/>
<circle cx="326.5" cy="374.5" r="3.45"/>
<circle cx="340.5" cy="355.5" r="3.45"/>
<circle cx="353.5" cy="359.5" r="3.45"/>
<circle cx="367.5" cy="371.5" r="3.45"/>
<circle cx="380.5" cy="372.5" r="3.45"/>
<circle cx="394.5" cy="367.5" r="3.45"/>
<circle cx="407.5" cy="375.5" r="3.45"/>
<circle cx="420.5" cy="376.5" r="3.45"/>
<circle cx="434.5" cy="378.5" r="3.45"/>
<circle cx="447.5" cy="376.5" r="3.45"/>
<circle cx="461.5" cy="378.5" r="3.45"/>
<circle cx="474.5" cy="376.5" r="3.45"/>
<circle cx="488.5" cy="375.5" r="3.45"/>
<circle cx="501.5" cy="370.5" r="3.45"/>
<circle cx="515.5" cy="378.5" r="3.45"/>
<circle cx="528.5" cy="380.5" r="3.45"/>
<circle cx="541.5" cy="382.5" r="3.45"/>
<circle cx="555.5" cy="382.5" r="3.45"/>
<circle cx="568.5" cy="382.5" r="3.45"/>
<circle cx="582.5" cy="382.5" r="3.45"/>
<circle cx="595.5" cy="382.5" r="3.45"/>
<circle cx="609.5" cy="382.5" r="3.45"/>
<circle cx="622.5" cy="382.5" r="3.45"/>
<circle cx="636.5" cy="382.5" r="3.45"/>
<circle cx="649.5" cy="382.5" r="3.45"/>
<circle cx="662.5" cy="382.5" r="3.45"/>
<circle cx="676.5" cy="382.5" r="3.45"/>
<circle cx="689.5" cy="382.5" r="3.45"/>
<circle cx="703.5" cy="382.5" r="3.45"/>
<circle cx="716.5" cy="382.5" r="3.45"/>
<circle cx="730.5" cy="382.5" r="3.45"/>
<circle cx="743.5" cy="382.5" r="3.45"/>
<circle cx="756.5" cy="382.5" r="3.45"/>
</g></g>
<g stroke="#000000" fill="#000000">
<polyline fill="none" stroke-width="1.75" stroke-linejoin="round" stroke-dasharray="10.67 2.67 1.67 2.67" points="71.52,382.32 84.96,382.32 98.4,382.32 111.84,382.32 125.28,382.32 138.72,382.32 152.16,382.32 165.6,382.32 179.04,382.32 192.48,382.32 205.92,380.24 219.36,370.97 232.8,369.86 246.24,375.4 259.68,361.97 273.12,342.17 286.56,374.01 300,372.63 313.44,350.2 326.88,371.24 340.32,350.47 353.76,332.47 367.2,369.86 380.64,366.4 394.08,374.01 407.52,375.4 420.96,374.01 434.4,376.78 447.84,378.17 461.28,375.4 474.72,374.01 488.16,373.32 501.6,376.78 515.04,378.17 528.48,378.17 541.92,379.55 555.36,379.55 568.8,380.94 582.24,382.32 595.68,382.32 609.12,382.32 622.56,382.32 636,382.32 649.44,382.32 662.88,382.32 676.32,382.32 689.76,382.32 703.2,382.32 716.64,382.32 730.08,382.32 743.52,382.32 756.96,382.32"/>
<g stroke-width="0.9" stroke-linejoin="miter">
<path d="M70.47 379.4L72.53 379.4L72.53 381.47L74.6 381.47L74.6 383.53L72.53 383.53L72.53 385.6L70.47 385.6L70.47 383.53L68.4 383.53L68.4 381.47L70.47 381.47Z"/>
<path d="M83.47 379.4L85.53 379.4L85.53 381.47L87.6 381.47L87.6 383.53L85.53 383.53L85.53 385.6L83.47 385.6L83.47 383.53L81.4 383.53L81.4 381.47L83.47 381.47Z"/>
<path d="M97.47 379.4L99.53 379.4L99.53 381.47L101.6 381.47L101.6 383.53L99.53 383.53L99.53 385.6L97.47 385.6L97.47 383.53L95.4 383.53L95.4 381.47L97.47 381.47Z"/>
<path d="M110.47 379.4L112.53 379.4L112.53 381.47L114.6 381.47L114.6 383.53L112.53 383.53L112.53 385.6L110.47 385.6L110.47 383.53L108.4 383.53L108.4 381.47L110.47 381.47Z"/>
<path d="M124.47 379.4L126.53 379.4L126.53 381.47L128.6 381.47L128.6 383.53L126.53 383.53L126.53 385.6L124.47 385.6L124.47 383.53L122.4 383.53L122.4 381.47L124.47 381.47Z"/>
<path d="M137.47 379.4L139.53 379.4L139.53 381.47L141.6 381.47L141.6 383.53L139.53 383.53L139.53 385.6L137.47 385.6L137.47 383.53L135.4 383.53L135.4 381.47L137.47 381.47Z"/>
<path d="M151.47 379.4L153.53 379.4L153.53 381.47L155.6 381.47L155.6 383.53L153.53 383.53L153.53 385.6L151.47 385.6L151.47 383.53L149.4 383.53L149.4 381.47L151.47 381.47Z"/>
<path d="M164.47 379.4L166.53 379.4L166.53 381.47L168.6 381.47L168.6 383.53L166.53 383.53L166.53 385.6L164.47 385.6L164.47 383.53L162.4 383.53L162.4 381.47L164.47 381.47Z"/>
<path d="M178.47 379.4L180.53 379.4L180.53 381.47L182.6 381.47L182.6 383.53L180.53 383.53L180.53 385.6L178.47 385.6L178.47 383.53L176.4 383.53L176.4 381.47L178.47 381.47Z"/>
<path d="M191.47 379.4L193.53 379.4L193.53 381.47L195.6 381.47L195.6 383.53L193.53 383.53L193.53 385.6L191.47 385.6L191.47 383.53L189.4 383.53L189.4 381.47L191.47 381.47Z"/>
<path d="M204.47 377.4L206.53 377.4L206.53 379.47L208.6 379.47L208.6 381.53L206.53 381.53L206.53 383.6L204.47 383.6L204.47 381.53L202.4 381.53L202.4 379.47L204.47 379.47Z"/>
<path d="M218.47 367.4L220.53 367.4L220.53 369.47L222.6 369.47L222.6 371.53L220.53 371.53L220.53 373.6L218.47 373.6L218.47 371.53L216.4 371.53L216.4 369.47L218.47 369.47Z"/>
<path d="M231.47 366.4L233.53 366.4L233.53 368.47L235.6 368.47L235.6 370.53L233.53 370.53L233.53 372.6L231.47 372.6L231.47 370.53L229.4 370.53L229.4 368.47L231.47 368.47Z"/>
<path d="M245.47 372.4L247.53 372.4L247.53 374.47L249.6 374.47L249.6 376.53L247.53 376.53L247.53 378.6L245.47 378.6L245.47 376.53L243.4 376.53L243.4 374.47L245.47 374.47Z"/>
<path d="M258.47 358.4L260.53 358.4L260.53 360.47L262.6 360.47L262.6 362.53L260.53 362.53L260.53 364.6L258.47 364.6L258.47 362.53L256.4 362.53L256.4 360.47L258.47 360.47Z"/>
<path d="M272.47 339.4L274.53 339.4L274.53 341.47L276.6 341.47L276.6 343.53L274.53 343.53L274.53 345.6L272.47 345.6L272.47 343.53L270.4 343.53L270.4 341.47L272.47 341.47Z"/>
<path d="M285.47 371.4L287.53 371.4L287.53 373.47L289.6 373.47L289.6 375.53L287.53 375.53L287.53 377.6L285.47 377.6L285.47 375.53L283.4 375.53L283.4 373.47L285.47 373.47Z"/>
<path d="M299.47 369.4L301.53 369.4L301.53 371.47L303.6 371.47L303.6 373.53L301.53 373.53L301.53 375.6L299.47 375.6L299.47 373.53L297.4 373.53L297.4 371.47L299.47 371.47Z"/>
<path d="M312.47 347.4L314.53 347.4L314.53 349.47L316.6 349.47L316.6 351.53L314.53 351.53L314.53 353.6L312.47 353.6L312.47 351.53L310.4 351.53L310.4 349.47L312.47 349.47Z"/>
<path d="M325.47 368.4L327.53 368.4L327.53 370.47L329.6 370.47L329.6 372.53L327.53 372.53L327.53 374.6L325.47 374.6L325.47 372.53L323.4 372.53L323.4 370.47L325.47 370.47Z"/>
<path d="M339.47 347.4L341.53 347.4L341.53 349.47L343.6 349.47L343.6 351.53L341.53 351.53L341.53 353.6L339.47 353.6L339.47 351.53L337.4 351.53L337.4 349.47L339.47 349.47Z"/>
<path d="M352.47 329.4L354.53 329.4L354.53 331.47L356.6 331.47L356.6 333.53L354.53 333.53L354.53 335.6L352.47 335.6L352.47 333.53L350.4 333.53L350.4 331.47L352.47 331.47Z"/>
<path d="M366.47 366.4L368.53 366.4L368.53 368.47L370.6 368.47L370.6 370.53L368.53 370.53L368.53 372.6L366.47 372.6L366.47 370.53L364.4 370.53L364.4 368.47L366.47 368.47Z"/>
<path d="M379.47 363.4L381.53 363.4L381.53 365.47L383.6 365.47L383.6 367.53L381.53 367.53L381.53 369.6L379.47 369.6L379.47 367.53L377.4 367.53L377.4 365.47L379.47 365.47Z"/>
<path d="M393.47 371.4L395.53 371.4L395.53 373.47L397.6 373.47L397.6 375.53L395.53 375.53L395.53 377.6L393.47 377.6L393.47 375.53L391.4 375.53L391.4 373.47L393.47 373.47Z"/>
<path d="M406.47 372.4L408.53 372.4L408.53 374.47L410.6 374.47L410.6 376.53L408.53 376.53L408.53 378.6L406.47 378.6L406.47 376.53L404.4 376.53L404.4 374.47L406.47 374.47Z"/>
<path d="M419.47 371.4L421.53 371.4L421.53 373.47L423.6 373.47L423.6 375.53L421.53 375.53L421.53 377.6L419.47 377.6L419.47 375.53L417.4 375.53L417.4 373.47L419.47 373.47Z"/>
<path d="M433.47 373.4L435.53 373.4L435.53 375.47L437.6 375.47L437.6 377.53L435.53 377.53L435.53 379.6L433.47 379.6L433.47 377.53L431.4 377.53L431.4 375.47L433.47 375.47Z"/>
<path d="M446.47 375.4L448.53 375.4L448.53 377.47L450.6 377.47L450.6 379.53L448.53 379.53L448.53 381.6L446.47 381.6L446.47 379.53L444.4 379.53L444.4 377.47L446.47 377.47Z"/>
<path d="M460.47 372.4L462.53 372.4L462.53 374.47L464.6 374.47L464.6 376.53L462.53 376.53L462.53 378.6L460.47 378.6L460.47 376.53L458.4 376.53L458.4 374.47L460.47 374.47Z"/>
<path d="M473.47 371.4L475.53 371.4L475.53 373.47L477.6 373.47L477.6 375.53L475.53 375.53L475.53 377.6L473.47 377.6L473.47 375.53L471.4 375.53L471.4 373.47L473.47 373.47Z"/>
<path d="M487.47 370.4L489.53 370.4L489.53 372.47L491.6 372.47L491.6 374.53L489.53 374.53L489.53 376.6L487.47 376.6L487.47 374.53L485.4 374.53L485.4 372.47L487.47 372.47Z"/>
<path d="M500.47 373.4L502.53 373.4L502.53 375.47L504.6 375.47L504.6 377.53L502.53 377.53L502.53 379.6L500.47 379.6L500.47 377.53L498.4 377.53L498.4 375.47L500.47 375.47Z"/>
<path d="M514.47 375.4L516.53 375.4L516.53 377.47L518.6 377.47L518.6 379.53L516.53 379.53L516.53 381.6L514.47 381.6L514.47 379.53L512.4 379.53L512.4 377.47L514.47 377.47Z"/>
<path d="M527.47 375.4L529.53 375.4L529.53 377.47L531.6 377.47L531.6 379.53L529.53 379.53L529.53 381.6L527.47 381.6L527.47 379.53L525.4 379.53L525.4 377.47L527.47 377.47Z"/>
<path d="M540.47 376.4L542.53 376.4L542.53 378.47L544.6 378.47L544.6 380.53L542.53 380.53L542.53 382.6L540.47 382.6L540.47 380.53L538.4 380.53L538.4 378.47L540.47 378.47Z"/>
<path d="M554.47 376.4L556.53 376.4L556.53 378.47L558.6 378.47L558.6 380.53L556.53 380.53L556.53 382.6L554.47 382.6L554.47 380.53L552.4 380.53L552.4 378.47L554.47 378.47Z"/>
<path d="M567.47 377.4L569.53 377.4L569.53 379.47L571.6 379.47L571.6 381.53L569.53 381.53L569.53 383.6L567.47 383.6L567.47 381.53L565.4 381.53L565.4 379.47L567.47 379.47Z"/>
<path d="M581.47 379.4L583.53 379.4L583.53 381.47L585.6 381.47L585.6 383.53L583.53 383.53L583.53 385.6L581.47 385.6L581.47 383.53L579.4 383.53L579.4 381.47L581.47 381.47Z"/>
<path d="M594.47 379.4L596.53 379.4L596.53 381.47L598.6 381.47L598.6 383.53L596.53 383.53L596.53 385.6L594.47 385.6L594.47 383.53L592.4 383.53L592.4 381.47L594.47 381.47Z"/>
<path d="M608.47 379.4L610.53 379.4L610.53 381.47L612.6 381.47L612.6 383.53L610.53 383.53L610.53 385.6L608.47 385.6L608.47 383.53L606.4 383.53L606.4 381.47L608.47 381.47Z"/>
<path d="M621.47 379.4L623.53 379.4L623.53 381.47L625.6 381.47L625.6 383.53L623.53 383.53L623.53 385.6L621.47 385.6L621.47 383.53L619.4 383.53L619.4 381.47L621.47 381.47Z"/>
<path d="M635.47 379.4L637.53 379.4L637.53 381.47L639.6 381.47L639.6 383.53L637.53 383.53L637.53 385.6L635.47 385.6L635.47 383.53L633.4 383.53L633.4 381.47L635.47 381.47Z"/>
<path d="M648.47 379.4L650.53 379.4L650.53 381.47L652.6 381.47L652.6 383.53L650.53 383.53L650.53 385.6L648.47 385.6L648.47 383.53L646.4 383.53L646.4 381.47L648.47 381.47Z"/>
<path d="M661.47 379.4L663.53 379.4L663.53 381.47L665.6 381.47L665.6 383.53L663.53 383.53L663.53 385.6L661.47 385.6L661.47 383.53L659.4 383.53L659.4 381.47L661.47 381.47Z"/>
<path d="M675.47 379.4L677.53 379.4L677.53 381.47L679.6 381.47L679.6 383.53L677.53 383.53L677.53 385.6L675.47 385.6L675.47 383.53L673.4 383.53L673.4 381.47L675.47 381.47Z"/>
<path d="M688.47 379.4L690.53 379.4L690.53 381.47L692.6 381.47L692.6 383.53L690.53 383.53L690.53 385.6L688.47 385.6L688.47 383.53L686.4 383.53L686.4 381.47L688.47 381.47Z"/>
<path d="M702.47 379.4L704.53 379.4L704.53 381.47L706.6 381.47L706.6 383.53L704.53 383.53L704.53 385.6L702.47 385.6L702.47 383.53L700.4 383.53L700.4 381.47L702.47 381.47Z"/>
<path d="M715.47 379.4L717.53 379.4L717.53 381.47L719.6 381.47L719.6 383.53L717.53 383.53L717.53 385.6L715.47 385.6L715.47 383.53L713.4 383.53L713.4 381.47L715.47 381.47Z"/>
<path d="M729.47 379.4L731.53 379.4L731.53 381.47L733.6 381.47L733.6 383.53L731.53 383.53L731.53 385.6L729.47 385.6L729.47 383.53L727.4 383.53L727.4 381.47L729.47 381.47Z"/>
<path d="M742.47 379.4L744.53 379.4L744.53 381.47L746.6 381.47L746.6 383.53L744.53 383.53L744.53 385.6L742.47 385.6L742.47 383.53L740.4 383.53L740.4 381.47L742.47 381.47Z"/>
<path d="M755.47 379.4L757.53 379.4L757.53 381.47L759.6 381.47L759.6 383.53L757.53 383.53L757.53 385.6L755.47 385.6L755.47 383.53L753.4 383.53L753.4 381.47L755.47 381.47Z"/>
</g></g>
<g stroke="#ff0000" fill="#ff0000">
<polyline fill="none" stroke-width="1.75" stroke-linejoin="round" stroke-dasharray="10.67 2.67 1.67 2.67" points="71.52,382.32 84.96,382.32 98.4,382.32 111.84,382.32 125.28,382.32 138.72,382.32 152.16,382.32 165.6,382.32 179.04,382.32 192.48,381.9 205.92,380.52 219.36,373.46 232.8,362.94 246.24,377.89 259.68,378.03 273.12,350.06 286.56,377.06 300,376.64 313.44,368.75 326.88,375.54 340.32,367.92 353.76,338.98 367.2,364.32 380.64,349.5 394.08,361.55 407.52,355.74 420.96,368.47 434.4,374.98 447.84,377.47 461.28,376.09 474.72,374.84 488.16,376.37 501.6,373.46 515.04,377.61 528.48,372.35 541.92,380.94 555.36,381.49 568.8,381.77 582.24,382.32 595.68,382.32 609.12,382.32 622.56,382.32 636,382.32 649.44,382.32 662.88,382.32 676.32,382.32 689.76,382.32 703.2,382.32 716.64,382.32 730.08,382.32 743.52,382.32 756.96,382.32"/>
<g stroke-width="0.9" stroke-linejoin="miter">
<path d="M70.47 379.4L72.53 379.4L72.53 381.47L74.6 381.47L74.6 383.53L72.53 383.53L72.53 385.6L70.47 385.6L70.47 383.53L68.4 383.53L68.4 381.47L70.47 381.47Z"/>
<path d="M83.47 379.4L85.53 379.4L85.53 381.47L87.6 381.47L87.6 383.53L85.53 383.53L85.53 385.6L83.47 385.6L83.47 383.53L81.4 383.53L81.4 381.47L83.47 381.47Z"/>
<path d="M97.47 379.4L99.53 379.4L99.53 381.47L101.6 381.47L101.6 383.53L99.53 383.53L99.53 385.6L97.47 385.6L97.47 383.53L95.4 383.53L95.4 381.47L97.47 381.47Z"/>
<path d="M110.47 379.4L112.53 379.4L112.53 381.47L114.6 381.47L114.6 383.53L112.53 383.53L112.53 385.6L110.47 385.6L110.47 383.53L108.4 383.53L108.4 381.47L110.47 381.47Z"/>
<path d="M124.47 379.4L126.53 379.4L126.53 381.47L128.6 381.47L128.6 383.53L126.53 383.53L126.53 385.6L124.47 385.6L124.47 383.53L122.4 383.53L122.4 381.47L124.47 381.47Z"/>
<path d="M137.47 379.4L139.53 379.4L139.53 381.47L141.6 381.47L141.6 383.53L139.53 383.53L139.53 385.6L137.47 385.6L137.47 383.53L135.4 383.53L135.4 381.47L137.47 381.47Z"/>
<path d="M151.47 379.4L153.53 379.4L153.53 381.47L155.6 381.47L155.6 383.53L153.53 383.53L153.53 385.6L151.47 385.6L151.47 383.53L149.4 383.53L149.4 381.47L151.47 381.47Z"/>
<path d="M164.47 379.4L166.53 379.4L166.53 381.47L168.6 381.47L168.6 383.53L166.53 383.53L166.53 385.6L164.47 385.6L164.47 383.53L162.4 383.53L162.4 381.47L164.47 381.47Z"/>
<path d="M178.47 379.4L180.53 379.4L180.53 381.47L182.6 381.47L182.6 383.53L180.53 383.53L180.53 385.6L178.47 385.6L178.47 383.53L176.4 383.53L176.4 381.47L178.47 381.47Z"/>
<path d="M191.47 378.4L193.53 378.4L193.53 380.47L195.6 380.47L195.6 382.53L193.53 382.53L193.53 384.6L191.47 384.6L191.47 382.53L189.4 382.53L189.4 380.47L191.47 380.47Z"/>
<path d="M204.47 377.4L206.53 377.4L206.53 379.47L208.6 379.47L208.6 381.53L206.53 381.53L206.53 383.6L204.47 383.6L204.47 381.53L202.4 381.53L202.4 379.47L204.47 379.47Z"/>
<path d="M218.47 370.4L220.53 370.4L220.53 372.47L222.6 372.47L222.6 374.53L220.53 374.53L220.53 376.6L218.47 376.6L218.47 374.53L216.4 374.53L216.4 372.47L218.47 372.47Z"/>
<path d="M231.47 359.4L233.53 359.4L233.53 361.47L235.6 361.47L235.6 363.53L233.53 363.53L233.53 365.6L231.47 365.6L231.47 363.53L229.4 363.53L229.4 361.47L231.47 361.47Z"/>
<path d="M245.47 374.4L247.53 374.4L247.53 376.47L249.6 376.47L249.6 378.53L247.53 378.53L247.53 380.6L245.47 380.6L245.47 378.53L243.4 378.53L243.4 376.47L245.47 376.47Z"/>
<path d="M258.47 375.4L260.53 375.4L260.53 377.47L262.6 377.47L262.6 379.53L260.53 379.53L260.53 381.6L258.47 381.6L258.47 379.53L256.4 379.53L256.4 377.47L258.47 377.47Z"/>
<path d="M272.47 347.4L274.53 347.4L274.53 349.47L276.6 349.47L276.6 351.53L274.53 351.53L274.53 353.6L272.47 353.6L272.47 351.53L270.4 351.53L270.4 349.47L272.47 349.47Z"/>
<path d="M285.47 374.4L287.53 374.4L287.53 376.47L289.6 376.47L289.6 378.53L287.53 378.53L287.53 380.6L285.47 380.6L285.47 378.53L283.4 378.53L283.4 376.47L285.47 376.47Z"/>
<path d="M299.47 373.4L301.53 373.4L301.53 375.47L303.6 375.47L303.6 377.53L301.53 377.53L301.53 379.6L299.47 379.6L299.47 377.53L297.4 377.53L297.4 375.47L299.47 375.47Z"/>
<path d="M312.47 365.4L314.53 365.4L314.53 367.47L316.6 367.47L316.6 369.53L314.53 369.53L314.53 371.6L312.47 371.6L312.47 369.53L310.4 369.53L310.4 367.47L312.47 367.47Z"/>
<path d="M325.47 372.4L327.53 372.4L327.53 374.47L329.6 374.47L329.6 376.53L327.53 376.53L327.53 378.6L325.47 378.6L325.47 376.53L323.4 376.53L323.4 374.47L325.47 374.47Z"/>
<path d="M339.47 364.4L341.53 364.4L341.53 366.47L343.6 366.47L343.6 368.53L341.53 368.53L341.53 370.6L339.47 370.6L339.47 368.53L337.4 368.53L337.4 366.47L339.47 366.47Z"/>
<path d="M352.47 335.4L354.53 335.4L354.53 337.47L356.6 337.47L356.6 339.53L354.53 339.53L354.53 341.6L352.47 341.6L352.47 339.53L350.4 339.53L350.4 337.47L352.47 337.47Z"/>
<path d="M366.47 361.4L368.53 361.4L368.53 363.47L370.6 363.47L370.6 365.53L368.53 365.53L368.53 367.6L366.47 367.6L366.47 365.53L364.4 365.53L364.4 363.47L366.47 363.47Z"/>
<path d="M379.47 346.4L381.53 346.4L381.53 348.47L383.6 348.47L383.6 350.53L381.53 350.53L381.53 352.6L379.47 352.6L379.47 350.53L377.4 350.53L377.4 348.47L379.47 348.47Z"/>
<path d="M393.47 358.4L395.53 358.4L395.53 360.47L397.6 360.47L397.6 362.53L395.53 362.53L395.53 364.6L393.47 364.6L393.47 362.53L391.4 362.53L391.4 360.47L393.47 360.47Z"/>
<path d="M406.47 352.4L408.53 352.4L408.53 354.47L410.6 354.47L410.6 356.53L408.53 356.53L408.53 358.6L406.47 358.6L406.47 356.53L404.4 356.53L404.4 354.47L406.47 354.47Z"/>
<path d="M419.47 365.4L421.53 365.4L421.53 367.47L423.6 367.47L423.6 369.53L421.53 369.53L421.53 371.6L419.47 371.6L419.47 369.53L417.4 369.53L417.4 367.47L419.47 367.47Z"/>
<path d="M433.47 371.4L435.53 371.4L435.53 373.47L437.6 373.47L437.6 375.53L435.53 375.53L435.53 377.6L433.47 377.6L433.47 375.53L431.4 375.53L431.4 373.47L433.47 373.47Z"/>
<path d="M446.47 374.4L448.53 374.4L448.53 376.47L450.6 376.47L450.6 378.53L448.53 378.53L448.53 380.6L446.47 380.6L446.47 378.53L444.4 378.53L444.4 376.47L446.47 376.47Z"/>
<path d="M460.47 373.4L462.53 373.4L462.53 375.47L464.6 375.47L464.6 377.53L462.53 377.53L462.53 379.6L460.47 379.6L460.47 377.53L458.4 377.53L458.4 375.47L460.47 375.47Z"/>
<path d="M473.47 371.4L475.53 371.4L475.53 373.47L477.6 373.47L477.6 375.53L475.53 375.53L475.53 377.6L473.47 377.6L473.47 375.53L471.4 375.53L471.4 373.47L473.47 373.47Z"/>
<path d="M487.47 373.4L489.53 373.4L489.53 375.47L491.6 375.47L491.6 377.53L489.53 377.53L489.53 379.6L487.47 379.6L487.47 377.53L485.4 377.53L485.4 375.47L487.47 375.47Z"/>
<path d="M500.47 370.4L502.53 370.4L502.53 372.47L504.6 372.47L504.6 374.53L502.53 374.53L502.53 376.6L500.47 376.6L500.47 374.53L498.4 374.53L498.4 372.47L500.47 372.47Z"/>
<path d="M514.47 374.4L516.53 374.4L516.53 376.47L518.6 376.47L518.6 378.53L516.53 378.53L516.53 380.6L514.47 380.6L514.47 378.53L512.4 378.53L512.4 376.47L514.47 376.47Z"/>
<path d="M527.47 369.4L529.53 369.4L529.53 371.47L531.6 371.47L531.6 373.53L529.53 373.53L529.53 375.6L527.47 375.6L527.47 373.53L525.4 373.53L525.4 371.47L527.47 371.47Z"/>
<path d="M540.47 377.4L542.53 377.4L542.53 379.47L544.6 379.47L544.6 381.53L542.53 381.53L542.53 383.6L540.47 383.6L540.47 381.53L538.4 381.53L538.4 379.47L540.47 379.47Z"/>
<path d="M554.47 378.4L556.53 378.4L556.53 380.47L558.6 380.47L558.6 382.53L556.53 382.53L556.53 384.6L554.47 384.6L554.47 382.53L552.4 382.53L552.4 380.47L554.47 380.47Z"/>
<path d="M567.47 378.4L569.53 378.4L569.53 380.47L571.6 380.47L571.6 382.53L569.53 382.53L569.53 384.6L567.47 384.6L567.47 382.53L565.4 382.53L565.4 380.47L567.47 380.47Z"/>
<path d="M581.47 379.4L583.53 379.4L583.53 381.47L585.6 381.47L585.6 383.53L583.53 383.53L583.53 385.6L581.47 385.6L581.47 383.53L579.4 383.53L579.4 381.47L581.47 381.47Z"/>
<path d="M594.47 379.4L596.53 379.4L596.53 381.47L598.6 381.47L598.6 383.53L596.53 383.53L596.53 385.6L594.47 385.6L594.47 383.53L592.4 383.53L592.4 381.47L594.47 381.47Z"/>
<path d="M608.47 379.4L610.53 379.4L610.53 381.47L612.6 381.47L612.6 383.53L610.53 383.53L610.53 385.6L608.47 385.6L608.47 383.53L606.4 383.53L606.4 381.47L608.47 381.47Z"/>
<path d="M621.47 379.4L623.53 379.4L623.53 381.47L625.6 381.47L625.6 383.53L623.53 383.53L623.53 385.6L621.47 385.6L621.47 383.53L619.4 383.53L619.4 381.47L621.47 381.47Z"/>
<path d="M635.47 379.4L637.53 379.4L637.53 381.47L639.6 381.47L639.6 383.53L637.53 383.53L637.53 385.6L635.47 385.6L635.47 383.53L633.4 383.53L633.4 381.47L635.47 381.47Z"/>
<path d="M648.47 379.4L650.53 379.4L650.53 381.47L652.6 381.47L652.6 383.53L650.53 383.53L650.53 385.6L648.47 385.6L648.47 383.53L646.4 383.53L646.4 381.47L648.47 381.47Z"/>
<path d="M661.47 379.4L663.53 379.4L663.53 381.47L665.6 381.47L665.6 383.53L663.53 383.53L663.53 385.6L661.47 385.6L661.47 383.53L659.4 383.53L659.4 381.47L661.47 381.47Z"/>
<path d="M675.47 379.4L677.53 379.4L677.53 381.47L679.6 381.47L679.6 383.53L677.53 383.53L677.53 385.6L675.47 385.6L675.47 383.53L673.4 383.53L673.4 381.47L675.47 381.47Z"/>
<path d="M688.47 379.4L690.53 379.4L690.53 381.47L692.6 381.47L692.6 383.53L690.53 383.53L690.53 385.6L688.47 385.6L688.47 383.53L686.4 383.53L686.4 381.47L688.47 381.47Z"/>
<path d="M702.47 379.4L704.53 379.4L704.53 381.47L706.6 381.47L706.6 383.53L704.53 383.53L704.53 385.6L702.47 385.6L702.47 383.53L700.4 383.53L700.4 381.47L702.47 381.47Z"/>
<path d="M715.47 379.4L717.53 379.4L717.53 381.47L719.6 381.47L719.6 383.53L717.53 383.53L717.53 385.6L715.47 385.6L715.47 383.53L713.4 383.53L713.4 381.47L715.47 381.47Z"/>
<path d="M729.47 379.4L731.53 379.4L731.53 381.47L733.6 381.47L733.6 383.53L731.53 383.53L731.53 385.6L729.47 385.6L729.47 383.53L727.4 383.53L727.4 381.47L729.47 381.47Z"/>
<path d="M742.47 379.4L744.53 379.4L744.53 381.47L746.6 381.47L746.6 383.53L744.53 383.53L744.53 385.6L742.47 385.6L742.47 383.53L740.4 383.53L740.4 381.47L742.47 381.47Z"/>
<path d="M755.47 379.4L757.53 379.4L757.53 381.47L759.6 381.47L759.6 383.53L757.53 383.53L757.53 385.6L755.47 385.6L755.47 383.53L753.4 383.53L753.4 381.47L755.47 381.47Z"/>
</g></g>
<g stroke="#008000" fill="#008000">
<polyline fill="none" stroke-width="1.75" stroke-linejoin="round" stroke-dasharray="10.67 2.67 1.67 2.67" points="71.52,382.32 84.96,382.32 98.4,382.32 111.84,382.32 125.28,382.32 138.72,382.32 152.16,382.32 165.6,382.32 179.04,382.32 192.48,381.49 205.92,381.21 219.36,371.38 232.8,370.83 246.24,373.87 259.68,378.44 273.12,356.43 286.56,376.23 300,372.49 313.44,363.07 326.88,375.54 340.32,370.14 353.76,364.46 367.2,375.26 380.64,373.46 394.08,373.74 407.52,370.55 420.96,364.04 434.4,372.9 447.84,376.23 461.28,361.27 474.72,374.57 488.16,372.63 501.6,365.7 515.04,367.09 528.48,358.23 541.92,345.21 555.36,357.12 568.8,373.74 582.24,381.63 595.68,382.32 609.12,382.32 622.56,382.32 636,382.32 649.44,382.32 662.88,382.32 676.32,382.32 689.76,382.32 703.2,382.32 716.64,382.32 730.08,382.32 743.52,382.32 756.96,382.32"/>
<g stroke-width="0.9" stroke-linejoin="miter">
<path d="M70.47 379.4L72.53 379.4L72.53 381.47L74.6 381.47L74.6 383.53L72.53 383.53L72.53 385.6L70.47 385.6L70.47 383.53L68.4 383.53L68.4 381.47L70.47 381.47Z"/>
<path d="M83.47 379.4L85.53 379.4L85.53 381.47L87.6 381.47L87.6 383.53L85.53 383.53L85.53 385.6L83.47 385.6L83.47 383.53L81.4 383.53L81.4 381.47L83.47 381.47Z"/>
<path d="M97.47 379.4L99.53 379.4L99.53 381.47L101.6 381.47L101.6 383.53L99.53 383.53L99.53 385.6L97.47 385.6L97.47 383.53L95.4 383.53L95.4 381.47L97.47 381.47Z"/>
<path d="M110.47 379.4L112.53 379.4L112.53 381.47L114.6 381.47L114.6 383.53L112.53 383.53L112.53 385.6L110.47 385.6L110.47 383.53L108.4 383.53L108.4 381.47L110.47 381.47Z"/>
<path d="M124.47 379.4L126.53 379.4L126.53 381.47L128.6 381.47L128.6 383.53L126.53 383.53L126.53 385.6L124.47 385.6L124.47 383.53L122.4 383.53L122.4 381.47L124.47 381.47Z"/>
<path d="M137.47 379.4L139.53 379.4L139.53 381.47L141.6 381.47L141.6 383.53L139.53 383.53L139.53 385.6L137.47 385.6L137.47 383.53L135.4 383.53L135.4 381.47L137.47 381.47Z"/>
<path d="M151.47 379.4L153.53 379.4L153.53 381.47L155.6 381.47L155.6 383.53L153.53 383.53L153.53 385.6L151.47 385.6L151.47 383.53L149.4 383.53L149.4 381.47L151.47 381.47Z"/>
<path d="M164.47 379.4L166.53 379.4L166.53 381.47L168.6 381.47L168.6 383.53L166.53 383.53L166.53 385.6L164.47 385.6L164.47 383.53L162.4 383.53L162.4 381.47L164.47 381.47Z"/>
<path d="M178.47 379.4L180.53 379.4L180.53 381.47L182.6 381.47L182.6 383.53L180.53 383.53L180.53 385.6L178.47 385.6L178.47 383.53L176.4 383.53L176.4 381.47L178.47 381.47Z"/>
<path d="M191.47 378.4L193.53 378.4L193.53 380.47L195.6 380.47L195.6 382.53L193.53 382.53L193.53 384.6L191.47 384.6L191.47 382.53L189.4 382.53L189.4 380.47L191.47 380.47Z"/>
<path d="M204.47 378.4L206.53 378.4L206.53 380.47L208.6 380.47L208.6 382.53L206.53 382.53L206.53 384.6L204.47 384.6L204.47 382.53L202.4 382.53L202.4 380.47L204.47 380.47Z"/>
<path d="M218.47 368.4L220.53 368.4L220.53 370.47L222.6 370.47L222.6 372.53L220.53 372.53L220.53 374.6L218.47 374.6L218.47 372.53L216.4 372.53L216.4 370.47L218.47 370.47Z"/>
<path d="M231.47 367.4L233.53 367.4L233.53 369.47L235.6 369.47L235.6 371.53L233.53 371.53L233.53 373.6L231.47 373.6L231.47 371.53L229.4 371.53L229.4 369.47L231.47 369.47Z"/>
<path d="M245.47 370.4L247.53 370.4L247.53 372.47L249.6 372.47L249.6 374.53L247.53 374.53L247.53 376.6L245.47 376.6L245.47 374.53L243.4 374.53L243.4 372.47L245.47 372.47Z"/>
<path d="M258.47 375.4L260.53 375.4L260.53 377.47L262.6 377.47L262.6 379.53L260.53 379.53L260.53 381.6L258.47 381.6L258.47 379.53L256.4 379.53L256.4 377.47L258.47 377.47Z"/>
<path d="M272.47 353.4L274.53 353.4L274.53 355.47L276.6 355.47L276.6 357.53L274.53 357.53L274.53 359.6L272.47 359.6L272.47 357.53L270.4 357.53L270.4 355.47L272.47 355.47Z"/>
<path d="M285.47 373.4L287.53 373.4L287.53 375.47L289.6 375.47L289.6 377.53L287.53 377.53L287.53 379.6L285.47 379.6L285.47 377.53L283.4 377.53L283.4 375.47L285.47 375.47Z"/>
<path d="M299.47 369.4L301.53 369.4L301.53 371.47L303.6 371.47L303.6 373.53L301.53 373.53L301.53 375.6L299.47 375.6L299.47 373.53L297.4 373.53L297.4 371.47L299.47 371.47Z"/>
<path d="M312.47 360.4L314.53 360.4L314.53 362.47L316.6 362.47L316.6 364.53L314.53 364.53L314.53 366.6L312.47 366.6L312.47 364.53L310.4 364.53L310.4 362.47L312.47 362.47Z"/>
<path d="M325.47 372.4L327.53 372.4L327.53 374.47L329.6 374.47L329.6 376.53L327.53 376.53L327.53 378.6L325.47 378.6L325.47 376.53L323.4 376.53L323.4 374.47L325.47 374.47Z"/>
<path d="M339.47 367.4L341.53 367.4L341.53 369.47L343.6 369.47L343.6 371.53L341.53 371.53L341.53 373.6L339.47 373.6L339.47 371.53L337.4 371.53L337.4 369.47L339.47 369.47Z"/>
<path d="M352.47 361.4L354.53 361.4L354.53 363.47L356.6 363.47L356.6 365.53L354.53 365.53L354.53 367.6L352.47 367.6L352.47 365.53L350.4 365.53L350.4 363.47L352.47 363.47Z"/>
<path d="M366.47 372.4L368.53 372.4L368.53 374.47L370.6 374.47L370.6 376.53L368.53 376.53L368.53 378.6L366.47 378.6L366.47 376.53L364.4 376.53L364.4 374.47L366.47 374.47Z"/>
<path d="M379.47 370.4L381.53 370.4L381.53 372.47L383.6 372.47L383.6 374.53L381.53 374.53L381.53 376.6L379.47 376.6L379.47 374.53L377.4 374.53L377.4 372.47L379.47 372.47Z"/>
<path d="M393.47 370.4L395.53 370.4L395.53 372.47L397.6 372.47L397.6 374.53L395.53 374.53L395.53 376.6L393.47 376.6L393.47 374.53L391.4 374.53L391.4 372.47L393.47 372.47Z"/>
<path d="M406.47 367.4L408.53 367.4L408.53 369.47L410.6 369.47L410.6 371.53L408.53 371.53L408.53 373.6L406.47 373.6L406.47 371.53L404.4 371.53L404.4 369.47L406.47 369.47Z"/>
<path d="M419.47 361.4L421.53 361.4L421.53 363.47L423.6 363.47L423.6 365.53L421.53 365.53L421.53 367.6L419.47 367.6L419.47 365.53L417.4 365.53L417.4 363.47L419.47 363.47Z"/>
<path d="M433.47 369.4L435.53 369.4L435.53 371.47L437.6 371.47L437.6 373.53L435.53 373.53L435.53 375.6L433.47 375.6L433.47 373.53L431.4 373.53L431.4 371.47L433.47 371.47Z"/>
<path d="M446.47 373.4L448.53 373.4L448.53 375.47L450.6 375.47L450.6 377.53L448.53 377.53L448.53 379.6L446.47 379.6L446.47 377.53L444.4 377.53L444.4 375.47L446.47 375.47Z"/>
<path d="M460.47 358.4L462.53 358.4L462.53 360.47L464.6 360.47L464.6 362.53L462.53 362.53L462.53 364.6L460.47 364.6L460.47 362.53L458.4 362.53L458.4 360.47L460.47 360.47Z"/>
<path d="M473.47 371.4L475.53 371.4L475.53 373.47L477.6 373.47L477.6 375.53L475.53 375.53L475.53 377.6L473.47 377.6L473.47 375.53L471.4 375.53L471.4 373.47L473.47 373.47Z"/>
<path d="M487.47 369.4L489.53 369.4L489.53 371.47L491.6 371.47L491.6 373.53L489.53 373.53L489.53 375.6L487.47 375.6L487.47 373.53L485.4 373.53L485.4 371.47L487.47 371.47Z"/>
<path d="M500.47 362.4L502.53 362.4L502.53 364.47L504.6 364.47L504.6 366.53L502.53 366.53L502.53 368.6L500.47 368.6L500.47 366.53L498.4 366.53L498.4 364.47L500.47 364.47Z"/>
<path d="M514.47 364.4L516.53 364.4L516.53 366.47L518.6 366.47L518.6 368.53L516.53 368.53L516.53 370.6L514.47 370.6L514.47 368.53L512.4 368.53L512.4 366.47L514.47 366.47Z"/>
<path d="M527.47 355.4L529.53 355.4L529.53 357.47L531.6 357.47L531.6 359.53L529.53 359.53L529.53 361.6L527.47 361.6L527.47 359.53L525.4 359.53L525.4 357.47L527.47 357.47Z"/>
<path d="M540.47 342.4L542.53 342.4L542.53 344.47L544.6 344.47L544.6 346.53L542.53 346.53L542.53 348.6L540.47 348.6L540.47 346.53L538.4 346.53L538.4 344.47L540.47 344.47Z"/>
<path d="M554.47 354.4L556.53 354.4L556.53 356.47L558.6 356.47L558.6 358.53L556.53 358.53L556.53 360.6L554.47 360.6L554.47 358.53L552.4 358.53L552.4 356.47L554.47 356.47Z"/>
<path d="M567.47 370.4L569.53 370.4L569.53 372.47L571.6 372.47L571.6 374.53L569.53 374.53L569.53 376.6L567.47 376.6L567.47 374.53L565.4 374.53L565.4 372.47L567.47 372.47Z"/>
<path d="M581.47 378.4L583.53 378.4L583.53 380.47L585.6 380.47L585.6 382.53L583.53 382.53L583.53 384.6L581.47 384.6L581.47 382.53L579.4 382.53L579.4 380.47L581.47 380.47Z"/>
<path d="M594.47 379.4L596.53 379.4L596.53 381.47L598.6 381.47L598.6 383.53L596.53 383.53L596.53 385.6L594.47 385.6L594.47 383.53L592.4 383.53L592.4 381.47L594.47 381.47Z"/>
<path d="M608.47 379.4L610.53 379.4L610.53 381.47L612.6 381.47L612.6 383.53L610.53 383.53L610.53 385.6L608.47 385.6L608.47 383.53L606.4 383.53L606.4 381.47L608.47 381.47Z"/>
<path d="M621.47 379.4L623.53 379.4L623.53 381.47L625.6 381.47L625.6 383.53L623.53 383.53L623.53 385.6L621.47 385.6L621.47 383.53L619.4 383.53L619.4 381.47L621.47 381.47Z"/>
<path d="M635.47 379.4L637.53 379.4L637.53 381.47L639.6 381.47L639.6 383.53L637.53 383.53L637.53 385.6L635.47 385.6L635.47 383.53L633.4 383.53L633.4 381.47L635.47 381.47Z"/>
<path d="M648.47 379.4L650.53 379.4L650.53 381.47L652.6 381.47L652.6 383.53L650.53 383.53L650.53 385.6L648.47 385.6L648.47 383.53L646.4 383.53L646.4 381.47L648.47 381.47Z"/>
<path d="M661.47 379.4L663.53 379.4L663.53 381.47L665.6 381.47L665.6 383.53L663.53 383.53L663.53 385.6L661.47 385.6L661.47 383.53L659.4 383.53L659.4 381.47L661.47 381.47Z"/>
<path d="M675.47 379.4L677.53 379.4L677.53 381.47L679.6 381.47L679.6 383.53L677.53 383.53L677.53 385.6L675.47 385.6L675.47 383.53L673.4 383.53L673.4 381.47L675.47 381.47Z"/>
<path d="M688.47 379.4L690.53 379.4L690.53 381.47L692.6 381.47L692.6 383.53L690.53 383.53L690.53 385.6L688.47 385.6L688.47 383.53L686.4 383.53L686.4 381.47L688.47 381.47Z"/>
<path d="M702.47 379.4L704.53 379.4L704.53 381.47L706.6 381.47L706.6 383.53L704.53 383.53L704.53 385.6L702.47 385.6L702.47 383.53L700.4 383.53L700.4 381.47L702.47 381.47Z"/>
<path d="M715.47 379.4L717.53 379.4L717.53 381.47L719.6 381.47L719.6 383.53L717.53 383.53L717.53 385.6L715.47 385.6L715.47 383.53L713.4 383.53L713.4 381.47L715.47 381.47Z"/>
<path d="M729.47 379.4L731.53 379.4L731.53 381.47L733.6 381.47L733.6 383.53L731.53 383.53L731.53 385.6L729.47 385.6L729.47 383.53L727.4 383.53L727.4 381.47L729.47 381.47Z"/>
<path d="M742.47 379.4L744.53 379.4L744.53 381.47L746.6 381.47L746.6 383.53L744.53 383.53L744.53 385.6L742.47 385.6L742.47 383.53L740.4 383.53L740.4 381.47L742.47 381.47Z"/>
<path d="M755.47 379.4L757.53 379.4L757.53 381.47L759.6 381.47L759.6 383.53L757.53 383.53L757.53 385.6L755.47 385.6L755.47 383.53L753.4 383.53L753.4 381.47L755.47 381.47Z"/>
</g></g>
<g stroke="#0000ff" fill="#0000ff">
<polyline fill="none" stroke-width="1.75" stroke-linejoin="round" stroke-dasharray="10.67 2.67 1.67 2.67" points="71.52,382.32 84.96,382.32 98.4,382.32 111.84,382.32 125.28,382.32 138.72,382.32 152.16,382.32 165.6,382.32 179.04,382.32 192.48,381.77 205.92,380.66 219.36,374.29 232.8,368.61 246.24,376.92 259.68,375.95 273.12,367.09 286.56,376.78 300,377.75 313.44,371.38 326.88,375.4 340.32,372.9 353.76,350.89 367.2,346.74 380.64,370.14 394.08,362.66 407.52,365.43 420.96,371.1 434.4,373.46 447.84,374.29 461.28,378.17 474.72,375.4 488.16,372.9 501.6,374.98 515.04,376.64 528.48,377.47 541.92,380.52 555.36,380.94 568.8,381.9 582.24,382.32 595.68,382.32 609.12,382.32 622.56,382.32 636,382.32 649.44,382.32 662.88,382.32 676.32,382.32 689.76,382.32 703.2,382.32 716.64,382.32 730.08,382.32 743.52,382.32 756.96,382.32"/>
<g stroke-width="0.9" stroke-linejoin="miter">
<path d="M70.47 379.4L72.53 379.4L72.53 381.47L74.6 381.47L74.6 383.53L72.53 383.53L72.53 385.6L70.47 385.6L70.47 383.53L68.4 383.53L68.4 381.47L70.47 381.47Z"/>
<path d="M83.47 379.4L85.53 379.4L85.53 381.47L87.6 381.47L87.6 383.53L85.53 383.53L85.53 385.6L83.47 385.6L83.47 383.53L81.4 383.53L81.4 381.47L83.47 381.47Z"/>
<path d="M97.47 379.4L99.53 379.4L99.53 381.47L101.6 381.47L101.6 383.53L99.53 383.53L99.53 385.6L97.47 385.6L97.47 383.53L95.4 383.53L95.4 381.47L97.47 381.47Z"/>
<path d="M110.47 379.4L112.53 379.4L112.53 381.47L114.6 381.47L114.6 383.53L112.53 383.53L112.53 385.6L110.47 385.6L110.47 383.53L108.4 383.53L108.4 381.47L110.47 381.47Z"/>
<path d="M124.47 379.4L126.53 379.4L126.53 381.47L128.6 381.47L128.6 383.53L126.53 383.53L126.53 385.6L124.47 385.6L124.47 383.53L122.4 383.53L122.4 381.47L124.47 381.47Z"/>
<path d="M137.47 379.4L139.53 379.4L139.53 381.47L141.6 381.47L141.6 383.53L139.53 383.53L139.53 385.6L137.47 385.6L137.47 383.53L135.4 383.53L135.4 381.47L137.47 381.47Z"/>
<path d="M151.47 379.4L153.53 379.4L153.53 381.47L155.6 381.47L155.6 383.53L153.53 383.53L153.53 385.6L151.47 385.6L151.47 383.53L149.4 383.53L149.4 381.47L151.47 381.47Z"/>
<path d="M164.47 379.4L166.53 379.4L166.53 381.47L168.6 381.47L168.6 383.53L166.53 383.53L166.53 385.6L164.47 385.6L164.47 383.53L162.4 383.53L162.4 381.47L164.47 381.47Z"/>
<path d="M178.47 379.4L180.53 379.4L180.53 381.47L182.6 381.47L182.6 383.53L180.53 383.53L180.53 385.6L178.47 385.6L178.47 383.53L176.4 383.53L176.4 381.47L178.47 381.47Z"/>
<path d="M191.47 378.4L193.53 378.4L193.53 380.47L195.6 380.47L195.6 382.53L193.53 382.53L193.53 384.6L191.47 384.6L191.47 382.53L189.4 382.53L189.4 380.47L191.47 380.47Z"/>
<path d="M204.47 377.4L206.53 377.4L206.53 379.47L208.6 379.47L208.6 381.53L206.53 381.53L206.53 383.6L204.47 383.6L204.47 381.53L202.4 381.53L202.4 379.47L204.47 379.47Z"/>
<path d="M218.47 371.4L220.53 371.4L220.53 373.47L222.6 373.47L222.6 375.53L220.53 375.53L220.53 377.6L218.47 377.6L218.47 375.53L216.4 375.53L216.4 373.47L218.47 373.47Z"/>
<path d="M231.47 365.4L233.53 365.4L233.53 367.47L235.6 367.47L235.6 369.53L233.53 369.53L233.53 371.6L231.47 371.6L231.47 369.53L229.4 369.53L229.4 367.47L231.47 367.47Z"/>
<path d="M245.47 373.4L247.53 373.4L247.53 375.47L249.6 375.47L249.6 377.53L247.53 377.53L247.53 379.6L245.47 379.6L245.47 377.53L243.4 377.53L243.4 375.47L245.47 375.47Z"/>
<path d="M258.47 372.4L260.53 372.4L260.53 374.47L262.6 374.47L262.6 376.53L260.53 376.53L260.53 378.6L258.47 378.6L258.47 376.53L256.4 376.53L256.4 374.47L258.47 374.47Z"/>
<path d="M272.47 364.4L274.53 364.4L274.53 366.47L276.6 366.47L276.6 368.53L274.53 368.53L274.53 370.6L272.47 370.6L272.47 368.53L270.4 368.53L270.4 366.47L272.47 366.47Z"/>
<path d="M285.47 373.4L287.53 373.4L287.53 375.47L289.6 375.47L289.6 377.53L287.53 377.53L287.53 379.6L285.47 379.6L285.47 377.53L283.4 377.53L283.4 375.47L285.47 375.47Z"/>
<path d="M299.47 374.4L301.53 374.4L301.53 376.47L303.6 376.47L303.6 378.53L301.53 378.53L301.53 380.6L299.47 380.6L299.47 378.53L297.4 378.53L297.4 376.47L299.47 376.47Z"/>
<path d="M312.47 368.4L314.53 368.4L314.53 370.47L316.6 370.47L316.6 372.53L314.53 372.53L314.53 374.6L312.47 374.6L312.47 372.53L310.4 372.53L310.4 370.47L312.47 370.47Z"/>
<path d="M325.47 372.4L327.53 372.4L327.53 374.47L329.6 374.47L329.6 376.53L327.53 376.53L327.53 378.6L325.47 378.6L325.47 376.53L323.4 376.53L323.4 374.47L325.47 374.47Z"/>
<path d="M339.47 369.4L341.53 369.4L341.53 371.47L343.6 371.47L343.6 373.53L341.53 373.53L341.53 375.6L339.47 375.6L339.47 373.53L337.4 373.53L337.4 371.47L339.47 371.47Z"/>
<path d="M352.47 347.4L354.53 347.4L354.53 349.47L356.6 349.47L356.6 351.53L354.53 351.53L354.53 353.6L352.47 353.6L352.47 351.53L350.4 351.53L350.4 349.47L352.47 349.47Z"/>
<path d="M366.47 343.4L368.53 343.4L368.53 345.47L370.6 345.47L370.6 347.53L368.53 347.53L368.53 349.6L366.47 349.6L366.47 347.53L364.4 347.53L364.4 345.47L366.47 345.47Z"/>
<path d="M379.47 367.4L381.53 367.4L381.53 369.47L383.6 369.47L383.6 371.53L381.53 371.53L381.53 373.6L379.47 373.6L379.47 371.53L377.4 371.53L377.4 369.47L379.47 369.47Z"/>
<path d="M393.47 359.4L395.53 359.4L395.53 361.47L397.6 361.47L397.6 363.53L395.53 363.53L395.53 365.6L393.47 365.6L393.47 363.53L391.4 363.53L391.4 361.47L393.47 361.47Z"/>
<path d="M406.47 362.4L408.53 362.4L408.53 364.47L410.6 364.47L410.6 366.53L408.53 366.53L408.53 368.6L406.47 368.6L406.47 366.53L404.4 366.53L404.4 364.47L406.47 364.47Z"/>
<path d="M419.47 368.4L421.53 368.4L421.53 370.47L423.6 370.47L423.6 372.53L421.53 372.53L421.53 374.6L419.47 374.6L419.47 372.53L417.4 372.53L417.4 370.47L419.47 370.47Z"/>
<path d="M433.47 370.4L435.53 370.4L435.53 372.47L437.6 372.47L437.6 374.53L435.53 374.53L435.53 376.6L433.47 376.6L433.47 374.53L431.4 374.53L431.4 372.47L433.47 372.47Z"/>
<path d="M446.47 371.4L448.53 371.4L448.53 373.47L450.6 373.47L450.6 375.53L448.53 375.53L448.53 377.6L446.47 377.6L446.47 375.53L444.4 375.53L444.4 373.47L446.47 373.47Z"/>
<path d="M460.47 375.4L462.53 375.4L462.53 377.47L464.6 377.47L464.6 379.53L462.53 379.53L462.53 381.6L460.47 381.6L460.47 379.53L458.4 379.53L458.4 377.47L460.47 377.47Z"/>
<path d="M473.47 372.4L475.53 372.4L475.53 374.47L477.6 374.47L477.6 376.53L475.53 376.53L475.53 378.6L473.47 378.6L473.47 376.53L471.4 376.53L471.4 374.47L473.47 374.47Z"/>
<path d="M487.47 369.4L489.53 369.4L489.53 371.47L491.6 371.47L491.6 373.53L489.53 373.53L489.53 375.6L487.47 375.6L487.47 373.53L485.4 373.53L485.4 371.47L487.47 371.47Z"/>
<path d="M500.47 371.4L502.53 371.4L502.53 373.47L504.6 373.47L504.6 375.53L502.53 375.53L502.53 377.6L500.47 377.6L500.47 375.53L498.4 375.53L498.4 373.47L500.47 373.47Z"/>
<path d="M514.47 373.4L516.53 373.4L516.53 375.47L518.6 375.47L518.6 377.53L516.53 377.53L516.53 379.6L514.47 379.6L514.47 377.53L512.4 377.53L512.4 375.47L514.47 375.47Z"/>
<path d="M527.47 374.4L529.53 374.4L529.53 376.47L531.6 376.47L531.6 378.53L529.53 378.53L529.53 380.6L527.47 380.6L527.47 378.53L525.4 378.53L525.4 376.47L527.47 376.47Z"/>
<path d="M540.47 377.4L542.53 377.4L542.53 379.47L544.6 379.47L544.6 381.53L542.53 381.53L542.53 383.6L540.47 383.6L540.47 381.53L538.4 381.53L538.4 379.47L540.47 379.47Z"/>
<path d="M554.47 377.4L556.53 377.4L556.53 379.47L558.6 379.47L558.6 381.53L556.53 381.53L556.53 383.6L554.47 383.6L554.47 381.53L552.4 381.53L552.4 379.47L554.47 379.47Z"/>
<path d="M567.47 378.4L569.53 378.4L569.53 380.47L571.6 380.47L571.6 382.53L569.53 382.53L569.53 384.6L567.47 384.6L567.47 382.53L565.4 382.53L565.4 380.47L567.47 380.47Z"/>
<path d="M581.47 379.4L583.53 379.4L583.53 381.47L585.6 381.47L585.6 383.53L583.53 383.53L583.53 385.6L581.47 385.6L581.47 383.53L579.4 383.53L579.4 381.47L581.47 381.47Z"/>
<path d="M594.47 379.4L596.53 379.4L596.53 381.47L598.6 381.47L598.6 383.53L596.53 383.53L596.53 385.6L594.47 385.6L594.47 383.53L592.4 383.53L592.4 381.47L594.47 381.47Z"/>
<path d="M608.47 379.4L610.53 379.4L610.53 381.47L612.6 381.47L612.6 383.53L610.53 383.53L610.53 385.6L608.47 385.6L608.47 383.53L606.4 383.53L606.4 381.47L608.47 381.47Z"/>
<path d="M621.47 379.4L623.53 379.4L623.53 381.47L625.6 381.47L625.6 383.53L623.53 383.53L623.53 385.6L621.47 385.6L621.47 383.53L619.4 383.53L619.4 381.47L621.47 381.47Z"/>
<path d="M635.47 379.4L637.53 379.4L637.53 381.47L639.6 381.47L639.6 383.53L637.53 383.53L637.53 385.6L635.47 385.6L635.47 383.53L633.4 383.53L633.4 381.47L635.47 381.47Z"/>
<path d="M648.47 379.4L650.53 379.4L650.53 381.47L652.6 381.47L652.6 383.53L650.53 383.53L650.53 385.6L648.47 385.6L648.47 383.53L646.4 383.53L646.4 381.47L648.47 381.47Z"/>
<path d="M661.47 379.4L663.53 379.4L663.53 381.47L665.6 381.47L665.6 383.53L663.53 383.53L663.53 385.6L661.47 385.6L661.47 383.53L659.4 383.53L659.4 381.47L661.47 381.47Z"/>
<path d="M675.47 379.4L677.53 379.4L677.53 381.47L679.6 381.47L679.6 383.53L677.53 383.53L677.53 385.6L675.47 385.6L675.47 383.53L673.4 383.53L673.4 381.47L675.47 381.47Z"/>
<path d="M688.47 379.4L690.53 379.4L690.53 381.47L692.6 381.47L692.6 383.53L690.53 383.53L690.53 385.6L688.47 385.6L688.47 383.53L686.4 383.53L686.4 381.47L688.47 381.47Z"/>
<path d="M702.47 379.4L704.53 379.4L704.53 381.47L706.6 381.47L706.6 383.53L704.53 383.53L704.53 385.6L702.47 385.6L702.47 383.53L700.4 383.53L700.4 381.47L702.47 381.47Z"/>
<path d="M715.47 379.4L717.53 379.4L717.53 381.47L719.6 381.47L719.6 383.53L717.53 383.53L717.53 385.6L715.47 385.6L715.47 383.53L713.4 383.53L713.4 381.47L715.47 381.47Z"/>
<path d="M729.47 379.4L731.53 379.4L731.53 381.47L733.6 381.47L733.6 383.53L731.53 383.53L731.53 385.6L729.47 385.6L729.47 383.53L727.4 383.53L727.4 381.47L729.47 381.47Z"/>
<path d="M742.47 379.4L744.53 379.4L744.53 381.47L746.6 381.47L746.6 383.53L744.53 383.53L744.53 385.6L742.47 385.6L742.47 383.53L740.4 383.53L740.4 381.47L742.47 381.47Z"/>
<path d="M755.47 379.4L757.53 379.4L757.53 381.47L759.6 381.47L759.6 383.53L757.53 383.53L757.53 385.6L755.47 385.6L755.47 383.53L753.4 383.53L753.4 381.47L755.47 381.47Z"/>
</g></g>
<g stroke="#00bfbf" fill="#00bfbf">
<polyline fill="none" stroke-width="1.75" stroke-linejoin="round" stroke-dasharray="10.67 2.67 1.67 2.67" points="71.52,382.32 84.96,382.32 98.4,382.32 111.84,382.32 125.28,382.32 138.72,382.32 152.16,382.32 165.6,382.32 179.04,382.32 192.48,381.77 205.92,380.52 219.36,372.49 232.8,372.07 246.24,376.5 259.68,376.64 273.12,346.04 286.56,379.27 300,371.66 313.44,362.66 326.88,374.43 340.32,373.46 353.76,370.14 367.2,376.5 380.64,373.04 394.08,370.97 407.52,375.54 420.96,372.21 434.4,378.3 447.84,374.84 461.28,375.26 474.72,377.89 488.16,373.87 501.6,374.7 515.04,374.15 528.48,364.74 541.92,380.38 555.36,381.07 568.8,381.9 582.24,382.32 595.68,382.32 609.12,382.32 622.56,382.32 636,382.32 649.44,382.32 662.88,382.32 676.32,382.32 689.76,382.32 703.2,382.32 716.64,382.32 730.08,382.32 743.52,382.32 756.96,382.32"/>
<g stroke-width="0.9" stroke-linejoin="miter">
<path d="M70.47 379.4L72.53 379.4L72.53 381.47L74.6 381.47L74.6 383.53L72.53 383.53L72.53 385.6L70.47 385.6L70.47 383.53L68.4 383.53L68.4 381.47L70.47 381.47Z"/>
<path d="M83.47 379.4L85.53 379.4L85.53 381.47L87.6 381.47L87.6 383.53L85.53 383.53L85.53 385.6L83.47 385.6L83.47 383.53L81.4 383.53L81.4 381.47L83.47 381.47Z"/>
<path d="M97.47 379.4L99.53 379.4L99.53 381.47L101.6 381.47L101.6 383.53L99.53 383.53L99.53 385.6L97.47 385.6L97.47 383.53L95.4 383.53L95.4 381.47L97.47 381.47Z"/>
<path d="M110.47 379.4L112.53 379.4L112.53 381.47L114.6 381.47L114.6 383.53L112.53 383.53L112.53 385.6L110.47 385.6L110.47 383.53L108.4 383.53L108.4 381.47L110.47 381.47Z"/>
<path d="M124.47 379.4L126.53 379.4L126.53 381.47L128.6 381.47L128.6 383.53L126.53 383.53L126.53 385.6L124.47 385.6L124.47 383.53L122.4 383.53L122.4 381.47L124.47 381.47Z"/>
<path d="M137.47 379.4L139.53 379.4L139.53 381.47L141.6 381.47L141.6 383.53L139.53 383.53L139.53 385.6L137.47 385.6L137.47 383.53L135.4 383.53L135.4 381.47L137.47 381.47Z"/>
<path d="M151.47 379.4L153.53 379.4L153.53 381.47L155.6 381.47L155.6 383.53L153.53 383.53L153.53 385.6L151.47 385.6L151.47 383.53L149.4 383.53L149.4 381.47L151.47 381.47Z"/>
<path d="M164.47 379.4L166.53 379.4L166.53 381.47L168.6 381.47L168.6 383.53L166.53 383.53L166.53 385.6L164.47 385.6L164.47 383.53L162.4 383.53L162.4 381.47L164.47 381.47Z"/>
<path d="M178.47 379.4L180.53 379.4L180.53 381.47L182.6 381.47L182.6 383.53L180.53 383.53L180.53 385.6L178.47 385.6L178.47 383.53L176.4 383.53L176.4 381.47L178.47 381.47Z"/>
<path d="M191.47 378.4L193.53 378.4L193.53 380.47L195.6 380.47L195.6 382.53L193.53 382.53L193.53 384.6L191.47 384.6L191.47 382.53L189.4 382.53L189.4 380.47L191.47 380.47Z"/>
<path d="M204.47 377.4L206.53 377.4L206.53 379.47L208.6 379.47L208.6 381.53L206.53 381.53L206.53 383.6L204.47 383.6L204.47 381.53L202.4 381.53L202.4 379.47L204.47 379.47Z"/>
<path d="M218.47 369.4L220.53 369.4L220.53 371.47L222.6 371.47L222.6 373.53L220.53 373.53L220.53 375.6L218.47 375.6L218.47 373.53L216.4 373.53L216.4 371.47L218.47 371.47Z"/>
<path d="M231.47 369.4L233.53 369.4L233.53 371.47L235.6 371.47L235.6 373.53L233.53 373.53L233.53 375.6L231.47 375.6L231.47 373.53L229.4 373.53L229.4 371.47L231.47 371.47Z"/>
<path d="M245.47 373.4L247.53 373.4L247.53 375.47L249.6 375.47L249.6 377.53L247.53 377.53L247.53 379.6L245.47 379.6L245.47 377.53L243.4 377.53L243.4 375.47L245.47 375.47Z"/>
<path d="M258.47 373.4L260.53 373.4L260.53 375.47L262.6 375.47L262.6 377.53L260.53 377.53L260.53 379.6L258.47 379.6L258.47 377.53L256.4 377.53L256.4 375.47L258.47 375.47Z"/>
<path d="M272.47 343.4L274.53 343.4L274.53 345.47L276.6 345.47L276.6 347.53L274.53 347.53L274.53 349.6L272.47 349.6L272.47 347.53L270.4 347.53L270.4 345.47L272.47 345.47Z"/>
<path d="M285.47 376.4L287.53 376.4L287.53 378.47L289.6 378.47L289.6 380.53L287.53 380.53L287.53 382.6L285.47 382.6L285.47 380.53L283.4 380.53L283.4 378.47L285.47 378.47Z"/>
<path d="M299.47 368.4L301.53 368.4L301.53 370.47L303.6 370.47L303.6 372.53L301.53 372.53L301.53 374.6L299.47 374.6L299.47 372.53L297.4 372.53L297.4 370.47L299.47 370.47Z"/>
<path d="M312.47 359.4L314.53 359.4L314.53 361.47L316.6 361.47L316.6 363.53L314.53 363.53L314.53 365.6L312.47 365.6L312.47 363.53L310.4 363.53L310.4 361.47L312.47 361.47Z"/>
<path d="M325.47 371.4L327.53 371.4L327.53 373.47L329.6 373.47L329.6 375.53L327.53 375.53L327.53 377.6L325.47 377.6L325.47 375.53L323.4 375.53L323.4 373.47L325.47 373.47Z"/>
<path d="M339.47 370.4L341.53 370.4L341.53 372.47L343.6 372.47L343.6 374.53L341.53 374.53L341.53 376.6L339.47 376.6L339.47 374.53L337.4 374.53L337.4 372.47L339.47 372.47Z"/>
<path d="M352.47 367.4L354.53 367.4L354.53 369.47L356.6 369.47L356.6 371.53L354.53 371.53L354.53 373.6L352.47 373.6L352.47 371.53L350.4 371.53L350.4 369.47L352.47 369.47Z"/>
<path d="M366.47 373.4L368.53 373.4L368.53 375.47L370.6 375.47L370.6 377.53L368.53 377.53L368.53 379.6L366.47 379.6L366.47 377.53L364.4 377.53L364.4 375.47L366.47 375.47Z"/>
<path d="M379.47 370.4L381.53 370.4L381.53 372.47L383.6 372.47L383.6 374.53L381.53 374.53L381.53 376.6L379.47 376.6L379.47 374.53L377.4 374.53L377.4 372.47L379.47 372.47Z"/>
<path d="M393.47 367.4L395.53 367.4L395.53 369.47L397.6 369.47L397.6 371.53L395.53 371.53L395.53 373.6L393.47 373.6L393.47 371.53L391.4 371.53L391.4 369.47L393.47 369.47Z"/>
<path d="M406.47 372.4L408.53 372.4L408.53 374.47L410.6 374.47L410.6 376.53L408.53 376.53L408.53 378.6L406.47 378.6L406.47 376.53L404.4 376.53L404.4 374.47L406.47 374.47Z"/>
<path d="M419.47 369.4L421.53 369.4L421.53 371.47L423.6 371.47L423.6 373.53L421.53 373.53L421.53 375.6L419.47 375.6L419.47 373.53L417.4 373.53L417.4 371.47L419.47 371.47Z"/>
<path d="M433.47 375.4L435.53 375.4L435.53 377.47L437.6 377.47L437.6 379.53L435.53 379.53L435.53 381.6L433.47 381.6L433.47 379.53L431.4 379.53L431.4 377.47L433.47 377.47Z"/>
<path d="M446.47 371.4L448.53 371.4L448.53 373.47L450.6 373.47L450.6 375.53L448.53 375.53L448.53 377.6L446.47 377.6L446.47 375.53L444.4 375.53L444.4 373.47L446.47 373.47Z"/>
<path d="M460.47 372.4L462.53 372.4L462.53 374.47L464.6 374.47L464.6 376.53L462.53 376.53L462.53 378.6L460.47 378.6L460.47 376.53L458.4 376.53L458.4 374.47L460.47 374.47Z"/>
<path d="M473.47 374.4L475.53 374.4L475.53 376.47L477.6 376.47L477.6 378.53L475.53 378.53L475.53 380.6L473.47 380.6L473.47 378.53L471.4 378.53L471.4 376.47L473.47 376.47Z"/>
<path d="M487.47 370.4L489.53 370.4L489.53 372.47L491.6 372.47L491.6 374.53L489.53 374.53L489.53 376.6L487.47 376.6L487.47 374.53L485.4 374.53L485.4 372.47L487.47 372.47Z"/>
<path d="M500.47 371.4L502.53 371.4L502.53 373.47L504.6 373.47L504.6 375.53L502.53 375.53L502.53 377.6L500.47 377.6L500.47 375.53L498.4 375.53L498.4 373.47L500.47 373.47Z"/>
<path d="M514.47 371.4L516.53 371.4L516.53 373.47L518.6 373.47L518.6 375.53L516.53 375.53L516.53 377.6L514.47 377.6L514.47 375.53L512.4 375.53L512.4 373.47L514.47 373.47Z"/>
<path d="M527.47 361.4L529.53 361.4L529.53 363.47L531.6 363.47L531.6 365.53L529.53 365.53L529.53 367.6L527.47 367.6L527.47 365.53L525.4 365.53L525.4 363.47L527.47 363.47Z"/>
<path d="M540.47 377.4L542.53 377.4L542.53 379.47L544.6 379.47L544.6 381.53L542.53 381.53L542.53 383.6L540.47 383.6L540.47 381.53L538.4 381.53L538.4 379.47L540.47 379.47Z"/>
<path d="M554.47 378.4L556.53 378.4L556.53 380.47L558.6 380.47L558.6 382.53L556.53 382.53L556.53 384.6L554.47 384.6L554.47 382.53L552.4 382.53L552.4 380.47L554.47 380.47Z"/>
<path d="M567.47 378.4L569.53 378.4L569.53 380.47L571.6 380.47L571.6 382.53L569.53 382.53L569.53 384.6L567.47 384.6L567.47 382.53L565.4 382.53L565.4 380.47L567.47 380.47Z"/>
<path d="M581.47 379.4L583.53 379.4L583.53 381.47L585.6 381.47L585.6 383.53L583.53 383.53L583.53 385.6L581.47 385.6L581.47 383.53L579.4 383.53L579.4 381.47L581.47 381.47Z"/>
<path d="M594.47 379.4L596.53 379.4L596.53 381.47L598.6 381.47L598.6 383.53L596.53 383.53L596.53 385.6L594.47 385.6L594.47 383.53L592.4 383.53L592.4 381.47L594.47 381.47Z"/>
<path d="M608.47 379.4L610.53 379.4L610.53 381.47L612.6 381.47L612.6 383.53L610.53 383.53L610.53 385.6L608.47 385.6L608.47 383.53L606.4 383.53L606.4 381.47L608.47 381.47Z"/>
<path d="M621.47 379.4L623.53 379.4L623.53 381.47L625.6 381.47L625.6 383.53L623.53 383.53L623.53 385.6L621.47 385.6L621.47 383.53L619.4 383.53L619.4 381.47L621.47 381.47Z"/>
<path d="M635.47 379.4L637.53 379.4L637.53 381.47L639.6 381.47L639.6 383.53L637.53 383.53L637.53 385.6L635.47 385.6L635.47 383.53L633.4 383.53L633.4 381.47L635.47 381.47Z"/>
<path d="M648.47 379.4L650.53 379.4L650.53 381.47L652.6 381.47L652.6 383.53L650.53 383.53L650.53 385.6L648.47 385.6L648.47 383.53L646.4 383.53L646.4 381.47L648.47 381.47Z"/>
<path d="M661.47 379.4L663.53 379.4L663.53 381.47L665.6 381.47L665.6 383.53L663.53 383.53L663.53 385.6L661.47 385.6L661.47 383.53L659.4 383.53L659.4 381.47L661.47 381.47Z"/>
<path d="M675.47 379.4L677.53 379.4L677.53 381.47L679.6 381.47L679.6 383.53L677.53 383.53L677.53 385.6L675.47 385.6L675.47 383.53L673.4 383.53L673.4 381.47L675.47 381.47Z"/>
<path d="M688.47 379.4L690.53 379.4L690.53 381.47L692.6 381.47L692.6 383.53L690.53 383.53L690.53 385.6L688.47 385.6L688.47 383.53L686.4 383.53L686.4 381.47L688.47 381.47Z"/>
<path d="M702.47 379.4L704.53 379.4L704.53 381.47L706.6 381.47L706.6 383.53L704.53 383.53L704.53 385.6L702.47 385.6L702.47 383.53L700.4 383.53L700.4 381.47L702.47 381.47Z"/>
<path d="M715.47 379.4L717.53 379.4L717.53 381.47L719.6 381.47L719.6 383.53L717.53 383.53L717.53 385.6L715.47 385.6L715.47 383.53L713.4 383.53L713.4 381.47L715.47 381.47Z"/>
<path d="M729.47 379.4L731.53 379.4L731.53 381.47L733.6 381.47L733.6 383.53L731.53 383.53L731.53 385.6L729.47 385.6L729.47 383.53L727.4 383.53L727.4 381.47L729.47 381.47Z"/>
<path d="M742.47 379.4L744.53 379.4L744.53 381.47L746.6 381.47L746.6 383.53L744.53 383.53L744.53 385.6L742.47 385.6L742.47 383.53L740.4 383.53L740.4 381.47L742.47 381.47Z"/>
<path d="M755.47 379.4L757.53 379.4L757.53 381.47L759.6 381.47L759.6 383.53L757.53 383.53L757.53 385.6L755.47 385.6L755.47 383.53L753.4 383.53L753.4 381.47L755.47 381.47Z"/>
</g></g>
<g stroke="#bf00bf" fill="#bf00bf">
<polyline fill="none" stroke-width="1.75" stroke-linejoin="round" stroke-dasharray="10.67 2.67 1.67 2.67" points="71.52,382.32 84.96,382.32 98.4,382.32 111.84,382.32 125.28,382.32 138.72,382.32 152.16,382.32 165.6,382.32 179.04,382.32 192.48,382.04 205.92,380.8 219.36,376.5 232.8,350.47 246.24,377.89 259.68,377.89 273.12,368.2 286.56,378.58 300,377.75 313.44,374.29 326.88,375.4 340.32,373.74 353.76,369.86 367.2,374.98 380.64,372.49 394.08,371.94 407.52,377.06 420.96,377.06 434.4,375.81 447.84,376.5 461.28,378.44 474.72,376.09 488.16,373.87 501.6,374.01 515.04,378.03 528.48,378.58 541.92,381.35 555.36,381.07 568.8,382.04 582.24,382.32 595.68,382.32 609.12,382.32 622.56,382.32 636,382.32 649.44,382.32 662.88,382.32 676.32,382.32 689.76,382.32 703.2,382.32 716.64,382.32 730.08,382.32 743.52,382.32 756.96,382.32"/>
<g stroke-width="0.9" stroke-linejoin="miter">
<path d="M70.47 379.4L72.53 379.4L72.53 381.47L74.6 381.47L74.6 383.53L72.53 383.53L72.53 385.6L70.47 385.6L70.47 383.53L68.4 383.53L68.4 381.47L70.47 381.47Z"/>
<path d="M83.47 379.4L85.53 379.4L85.53 381.47L87.6 381.47L87.6 383.53L85.53 383.53L85.53 385.6L83.47 385.6L83.47 383.53L81.4 383.53L81.4 381.47L83.47 381.47Z"/>
<path d="M97.47 379.4L99.53 379.4L99.53 381.47L101.6 381.47L101.6 383.53L99.53 383.53L99.53 385.6L97.47 385.6L97.47 383.53L95.4 383.53L95.4 381.47L97.47 381.47Z"/>
<path d="M110.47 379.4L112.53 379.4L112.53 381.47L114.6 381.47L114.6 383.53L112.53 383.53L112.53 385.6L110.47 385.6L110.47 383.53L108.4 383.53L108.4 381.47L110.47 381.47Z"/>
<path d="M124.47 379.4L126.53 379.4L126.53 381.47L128.6 381.47L128.6 383.53L126.53 383.53L126.53 385.6L124.47 385.6L124.47 383.53L122.4 383.53L122.4 381.47L124.47 381.47Z"/>
<path d="M137.47 379.4L139.53 379.4L139.53 381.47L141.6 381.47L141.6 383.53L139.53 383.53L139.53 385.6L137.47 385.6L137.47 383.53L135.4 383.53L135.4 381.47L137.47 381.47Z"/>
<path d="M151.47 379.4L153.53 379.4L153.53 381.47L155.6 381.47L155.6 383.53L153.53 383.53L153.53 385.6L151.47 385.6L151.47 383.53L149.4 383.53L149.4 381.47L151.47 381.47Z"/>
<path d="M164.47 379.4L166.53 379.4L166.53 381.47L168.6 381.47L168.6 383.53L166.53 383.53L166.53 385.6L164.47 385.6L164.47 383.53L162.4 383.53L162.4 381.47L164.47 381.47Z"/>
<path d="M178.47 379.4L180.53 379.4L180.53 381.47L182.6 381.47L182.6 383.53L180.53 383.53L180.53 385.6L178.47 385.6L178.47 383.53L176.4 383.53L176.4 381.47L178.47 381.47Z"/>
<path d="M191.47 379.4L193.53 379.4L193.53 381.47L195.6 381.47L195.6 383.53L193.53 383.53L193.53 385.6L191.47 385.6L191.47 383.53L189.4 383.53L189.4 381.47L191.47 381.47Z"/>
<path d="M204.47 377.4L206.53 377.4L206.53 379.47L208.6 379.47L208.6 381.53L206.53 381.53L206.53 383.6L204.47 383.6L204.47 381.53L202.4 381.53L202.4 379.47L204.47 379.47Z"/>
<path d="M218.47 373.4L220.53 373.4L220.53 375.47L222.6 375.47L222.6 377.53L220.53 377.53L220.53 379.6L218.47 379.6L218.47 377.53L216.4 377.53L216.4 375.47L218.47 375.47Z"/>
<path d="M231.47 347.4L233.53 347.4L233.53 349.47L235.6 349.47L235.6 351.53L233.53 351.53L233.53 353.6L231.47 353.6L231.47 351.53L229.4 351.53L229.4 349.47L231.47 349.47Z"/>
<path d="M245.47 374.4L247.53 374.4L247.53 376.47L249.6 376.47L249.6 378.53L247.53 378.53L247.53 380.6L245.47 380.6L245.47 378.53L243.4 378.53L243.4 376.47L245.47 376.47Z"/>
<path d="M258.47 374.4L260.53 374.4L260.53 376.47L262.6 376.47L262.6 378.53L260.53 378.53L260.53 380.6L258.47 380.6L258.47 378.53L256.4 378.53L256.4 376.47L258.47 376.47Z"/>
<path d="M272.47 365.4L274.53 365.4L274.53 367.47L276.6 367.47L276.6 369.53L274.53 369.53L274.53 371.6L272.47 371.6L272.47 369.53L270.4 369.53L270.4 367.47L272.47 367.47Z"/>
<path d="M285.47 375.4L287.53 375.4L287.53 377.47L289.6 377.47L289.6 379.53L287.53 379.53L287.53 381.6L285.47 381.6L285.47 379.53L283.4 379.53L283.4 377.47L285.47 377.47Z"/>
<path d="M299.47 374.4L301.53 374.4L301.53 376.47L303.6 376.47L303.6 378.53L301.53 378.53L301.53 380.6L299.47 380.6L299.47 378.53L297.4 378.53L297.4 376.47L299.47 376.47Z"/>
<path d="M312.47 371.4L314.53 371.4L314.53 373.47L316.6 373.47L316.6 375.53L314.53 375.53L314.53 377.6L312.47 377.6L312.47 375.53L310.4 375.53L310.4 373.47L312.47 373.47Z"/>
<path d="M325.47 372.4L327.53 372.4L327.53 374.47L329.6 374.47L329.6 376.53L327.53 376.53L327.53 378.6L325.47 378.6L325.47 376.53L323.4 376.53L323.4 374.47L325.47 374.47Z"/>
<path d="M339.47 370.4L341.53 370.4L341.53 372.47L343.6 372.47L343.6 374.53L341.53 374.53L341.53 376.6L339.47 376.6L339.47 374.53L337.4 374.53L337.4 372.47L339.47 372.47Z"/>
<path d="M352.47 366.4L354.53 366.4L354.53 368.47L356.6 368.47L356.6 370.53L354.53 370.53L354.53 372.6L352.47 372.6L352.47 370.53L350.4 370.53L350.4 368.47L352.47 368.47Z"/>
<path d="M366.47 371.4L368.53 371.4L368.53 373.47L370.6 373.47L370.6 375.53L368.53 375.53L368.53 377.6L366.47 377.6L366.47 375.53L364.4 375.53L364.4 373.47L366.47 373.47Z"/>
<path d="M379.47 369.4L381.53 369.4L381.53 371.47L383.6 371.47L383.6 373.53L381.53 373.53L381.53 375.6L379.47 375.6L379.47 373.53L377.4 373.53L377.4 371.47L379.47 371.47Z"/>
<path d="M393.47 368.4L395.53 368.4L395.53 370.47L397.6 370.47L397.6 372.53L395.53 372.53L395.53 374.6L393.47 374.6L393.47 372.53L391.4 372.53L391.4 370.47L393.47 370.47Z"/>
<path d="M406.47 374.4L408.53 374.4L408.53 376.47L410.6 376.47L410.6 378.53L408.53 378.53L408.53 380.6L406.47 380.6L406.47 378.53L404.4 378.53L404.4 376.47L406.47 376.47Z"/>
<path d="M419.47 374.4L421.53 374.4L421.53 376.47L423.6 376.47L423.6 378.53L421.53 378.53L421.53 380.6L419.47 380.6L419.47 378.53L417.4 378.53L417.4 376.47L419.47 376.47Z"/>
<path d="M433.47 372.4L435.53 372.4L435.53 374.47L437.6 374.47L437.6 376.53L435.53 376.53L435.53 378.6L433.47 378.6L433.47 376.53L431.4 376.53L431.4 374.47L433.47 374.47Z"/>
<path d="M446.47 373.4L448.53 373.4L448.53 375.47L450.6 375.47L450.6 377.53L448.53 377.53L448.53 379.6L446.47 379.6L446.47 377.53L444.4 377.53L444.4 375.47L446.47 375.47Z"/>
<path d="M460.47 375.4L462.53 375.4L462.53 377.47L464.6 377.47L464.6 379.53L462.53 379.53L462.53 381.6L460.47 381.6L460.47 379.53L458.4 379.53L458.4 377.47L460.47 377.47Z"/>
<path d="M473.47 373.4L475.53 373.4L475.53 375.47L477.6 375.47L477.6 377.53L475.53 377.53L475.53 379.6L473.47 379.6L473.47 377.53L471.4 377.53L471.4 375.47L473.47 375.47Z"/>
<path d="M487.47 370.4L489.53 370.4L489.53 372.47L491.6 372.47L491.6 374.53L489.53 374.53L489.53 376.6L487.47 376.6L487.47 374.53L485.4 374.53L485.4 372.47L487.47 372.47Z"/>
<path d="M500.47 371.4L502.53 371.4L502.53 373.47L504.6 373.47L504.6 375.53L502.53 375.53L502.53 377.6L500.47 377.6L500.47 375.53L498.4 375.53L498.4 373.47L500.47 373.47Z"/>
<path d="M514.47 375.4L516.53 375.4L516.53 377.47L518.6 377.47L518.6 379.53L516.53 379.53L516.53 381.6L514.47 381.6L514.47 379.53L512.4 379.53L512.4 377.47L514.47 377.47Z"/>
<path d="M527.47 375.4L529.53 375.4L529.53 377.47L531.6 377.47L531.6 379.53L529.53 379.53L529.53 381.6L527.47 381.6L527.47 379.53L525.4 379.53L525.4 377.47L527.47 377.47Z"/>
<path d="M540.47 378.4L542.53 378.4L542.53 380.47L544.6 380.47L544.6 382.53L542.53 382.53L542.53 384.6L540.47 384.6L540.47 382.53L538.4 382.53L538.4 380.47L540.47 380.47Z"/>
<path d="M554.47 378.4L556.53 378.4L556.53 380.47L558.6 380.47L558.6 382.53L556.53 382.53L556.53 384.6L554.47 384.6L554.47 382.53L552.4 382.53L552.4 380.47L554.47 380.47Z"/>
<path d="M567.47 379.4L569.53 379.4L569.53 381.47L571.6 381.47L571.6 383.53L569.53 383.53L569.53 385.6L567.47 385.6L567.47 383.53L565.4 383.53L565.4 381.47L567.47 381.47Z"/>
<path d="M581.47 379.4L583.53 379.4L583.53 381.47L585.6 381.47L585.6 383.53L583.53 383.53L583.53 385.6L581.47 385.6L581.47 383.53L579.4 383.53L579.4 381.47L581.47 381.47Z"/>
<path d="M594.47 379.4L596.53 379.4L596.53 381.47L598.6 381.47L598.6 383.53L596.53 383.53L596.53 385.6L594.47 385.6L594.47 383.53L592.4 383.53L592.4 381.47L594.47 381.47Z"/>
<path d="M608.47 379.4L610.53 379.4L610.53 381.47L612.6 381.47L612.6 383.53L610.53 383.53L610.53 385.6L608.47 385.6L608.47 383.53L606.4 383.53L606.4 381.47L608.47 381.47Z"/>
<path d="M621.47 379.4L623.53 379.4L623.53 381.47L625.6 381.47L625.6 383.53L623.53 383.53L623.53 385.6L621.47 385.6L621.47 383.53L619.4 383.53L619.4 381.47L621.47 381.47Z"/>
<path d="M635.47 379.4L637.53 379.4L637.53 381.47L639.6 381.47L639.6 383.53L637.53 383.53L637.53 385.6L635.47 385.6L635.47 383.53L633.4 383.53L633.4 381.47L635.47 381.47Z"/>
<path d="M648.47 379.4L650.53 379.4L650.53 381.47L652.6 381.47L652.6 383.53L650.53 383.53L650.53 385.6L648.47 385.6L648.47 383.53L646.4 383.53L646.4 381.47L648.47 381.47Z"/>
<path d="M661.47 379.4L663.53 379.4L663.53 381.47L665.6 381.47L665.6 383.53L663.53 383.53L663.53 385.6L661.47 385.6L661.47 383.53L659.4 383.53L659.4 381.47L661.47 381.47Z"/>
<path d="M675.47 379.4L677.53 379.4L677.53 381.47L679.6 381.47L679.6 383.53L677.53 383.53L677.53 385.6L675.47 385.6L675.47 383.53L673.4 383.53L673.4 381.47L675.47 381.47Z"/>
<path d="M688.47 379.4L690.53 379.4L690.53 381.47L692.6 381.47L692.6 383.53L690.53 383.53L690.53 385.6L688.47 385.6L688.47 383.53L686.4 383.53L686.4 381.47L688.47 381.47Z"/>
<path d="M702.47 379.4L704.53 379.4L704.53 381.47L706.6 381.47L706.6 383.53L704.53 383.53L704.53 385.6L702.47 385.6L702.47 383.53L700.4 383.53L700.4 381.47L702.47 381.47Z"/>
<path d="M715.47 379.4L717.53 379.4L717.53 381.47L719.6 381.47L719.6 383.53L717.53 383.53L717.53 385.6L715.47 385.6L715.47 383.53L713.4 383.53L713.4 381.47L715.47 381.47Z"/>
<path d="M729.47 379.4L731.53 379.4L731.53 381.47L733.6 381.47L733.6 383.53L731.53 383.53L731.53 385.6L729.47 385.6L729.47 383.53L727.4 383.53L727.4 381.47L729.47 381.47Z"/>
<path d="M742.47 379.4L744.53 379.4L744.53 381.47L746.6 381.47L746.6 383.53L744.53 383.53L744.53 385.6L742.47 385.6L742.47 383.53L740.4 383.53L740.4 381.47L742.47 381.47Z"/>
<path d="M755.47 379.4L757.53 379.4L757.53 381.47L759.6 381.47L759.6 383.53L757.53 383.53L757.53 385.6L755.47 385.6L755.47 383.53L753.4 383.53L753.4 381.47L755.47 381.47Z"/>
</g></g>
<g stroke="#000000" fill="#000000">
<polyline fill="none" stroke-width="1.75" stroke-linejoin="round" stroke-dasharray="1.67 2.75" points="71.52,382.32 84.96,382.32 98.4,382.32 111.84,382.32 125.28,382.32 138.72,382.32 152.16,382.32 165.6,382.32 179.04,382.32 192.48,381.9 205.92,380.94 219.36,376.23 232.8,372.35 246.24,378.72 259.68,376.78 273.12,371.52 286.56,379.83 300,378.3 313.44,367.5 326.88,377.61 340.32,374.98 353.76,375.4 367.2,377.61 380.64,376.37 394.08,374.98 407.52,377.75 420.96,378.3 434.4,378.44 447.84,377.2 461.28,378.17 474.72,376.5 488.16,374.98 501.6,376.78 515.04,378.86 528.48,377.61 541.92,380.52 555.36,381.63 568.8,382.04 582.24,382.32 595.68,382.32 609.12,382.32 622.56,382.32 636,382.32 649.44,382.32 662.88,382.32 676.32,382.32 689.76,382.32 703.2,382.32 716.64,382.32 730.08,382.32 743.52,382.32 756.96,382.32"/>
<g stroke-width="0.9" stroke-linejoin="miter">
<path d="M69.95 379.4L71.5 380.95L73.05 379.4L74.6 380.95L73.05 382.5L74.6 384.05L73.05 385.6L71.5 384.05L69.95 385.6L68.4 384.05L69.95 382.5L68.4 380.95Z"/>
<path d="M82.95 379.4L84.5 380.95L86.05 379.4L87.6 380.95L86.05 382.5L87.6 384.05L86.05 385.6L84.5 384.05L82.95 385.6L81.4 384.05L82.95 382.5L81.4 380.95Z"/>
<path d="M96.95 379.4L98.5 380.95L100.05 379.4L101.6 380.95L100.05 382.5L101.6 384.05L100.05 385.6L98.5 384.05L96.95 385.6L95.4 384.05L96.95 382.5L95.4 380.95Z"/>
<path d="M109.95 379.4L111.5 380.95L113.05 379.4L114.6 380.95L113.05 382.5L114.6 384.05L113.05 385.6L111.5 384.05L109.95 385.6L108.4 384.05L109.95 382.5L108.4 380.95Z"/>
<path d="M123.95 379.4L125.5 380.95L127.05 379.4L128.6 380.95L127.05 382.5L128.6 384.05L127.05 385.6L125.5 384.05L123.95 385.6L122.4 384.05L123.95 382.5L122.4 380.95Z"/>
<path d="M136.95 379.4L138.5 380.95L140.05 379.4L141.6 380.95L140.05 382.5L141.6 384.05L140.05 385.6L138.5 384.05L136.95 385.6L135.4 384.05L136.95 382.5L135.4 380.95Z"/>
<path d="M150.95 379.4L152.5 380.95L154.05 379.4L155.6 380.95L154.05 382.5L155.6 384.05L154.05 385.6L152.5 384.05L150.95 385.6L149.4 384.05L150.95 382.5L149.4 380.95Z"/>
<path d="M163.95 379.4L165.5 380.95L167.05 379.4L168.6 380.95L167.05 382.5L168.6 384.05L167.05 385.6L165.5 384.05L163.95 385.6L162.4 384.05L163.95 382.5L162.4 380.95Z"/>
<path d="M177.95 379.4L179.5 380.95L181.05 379.4L182.6 380.95L181.05 382.5L182.6 384.05L181.05 385.6L179.5 384.05L177.95 385.6L176.4 384.05L177.95 382.5L176.4 380.95Z"/>
<path d="M190.95 378.4L192.5 379.95L194.05 378.4L195.6 379.95L194.05 381.5L195.6 383.05L194.05 384.6L192.5 383.05L190.95 384.6L189.4 383.05L190.95 381.5L189.4 379.95Z"/>
<path d="M203.95 377.4L205.5 378.95L207.05 377.4L208.6 378.95L207.05 380.5L208.6 382.05L207.05 383.6L205.5 382.05L203.95 383.6L202.4 382.05L203.95 380.5L202.4 378.95Z"/>
<path d="M217.95 373.4L219.5 374.95L221.05 373.4L222.6 374.95L221.05 376.5L222.6 378.05L221.05 379.6L219.5 378.05L217.95 379.6L216.4 378.05L217.95 376.5L216.4 374.95Z"/>
<path d="M230.95 369.4L232.5 370.95L234.05 369.4L235.6 370.95L234.05 372.5L235.6 374.05L234.05 375.6L232.5 374.05L230.95 375.6L229.4 374.05L230.95 372.5L229.4 370.95Z"/>
<path d="M244.95 375.4L246.5 376.95L248.05 375.4L249.6 376.95L248.05 378.5L249.6 380.05L248.05 381.6L246.5 380.05L244.95 381.6L243.4 380.05L244.95 378.5L243.4 376.95Z"/>
<path d="M257.95 373.4L259.5 374.95L261.05 373.4L262.6 374.95L261.05 376.5L262.6 378.05L261.05 379.6L259.5 378.05L257.95 379.6L256.4 378.05L257.95 376.5L256.4 374.95Z"/>
<path d="M271.95 368.4L273.5 369.95L275.05 368.4L276.6 369.95L275.05 371.5L276.6 373.05L275.05 374.6L273.5 373.05L271.95 374.6L270.4 373.05L271.95 371.5L270.4 369.95Z"/>
<path d="M284.95 376.4L286.5 377.95L288.05 376.4L289.6 377.95L288.05 379.5L289.6 381.05L288.05 382.6L286.5 381.05L284.95 382.6L283.4 381.05L284.95 379.5L283.4 377.95Z"/>
<path d="M298.95 375.4L300.5 376.95L302.05 375.4L303.6 376.95L302.05 378.5L303.6 380.05L302.05 381.6L300.5 380.05L298.95 381.6L297.4 380.05L298.95 378.5L297.4 376.95Z"/>
<path d="M311.95 364.4L313.5 365.95L315.05 364.4L316.6 365.95L315.05 367.5L316.6 369.05L315.05 370.6L313.5 369.05L311.95 370.6L310.4 369.05L311.95 367.5L310.4 365.95Z"/>
<path d="M324.95 374.4L326.5 375.95L328.05 374.4L329.6 375.95L328.05 377.5L329.6 379.05L328.05 380.6L326.5 379.05L324.95 380.6L323.4 379.05L324.95 377.5L323.4 375.95Z"/>
<path d="M338.95 371.4L340.5 372.95L342.05 371.4L343.6 372.95L342.05 374.5L343.6 376.05L342.05 377.6L340.5 376.05L338.95 377.6L337.4 376.05L338.95 374.5L337.4 372.95Z"/>
<path d="M351.95 372.4L353.5 373.95L355.05 372.4L356.6 373.95L355.05 375.5L356.6 377.05L355.05 378.6L353.5 377.05L351.95 378.6L350.4 377.05L351.95 375.5L350.4 373.95Z"/>
<path d="M365.95 374.4L367.5 375.95L369.05 374.4L370.6 375.95L369.05 377.5L370.6 379.05L369.05 380.6L367.5 379.05L365.95 380.6L364.4 379.05L365.95 377.5L364.4 375.95Z"/>
<path d="M378.95 373.4L380.5 374.95L382.05 373.4L383.6 374.95L382.05 376.5L383.6 378.05L382.05 379.6L380.5 378.05L378.95 379.6L377.4 378.05L378.95 376.5L377.4 374.95Z"/>
<path d="M392.95 371.4L394.5 372.95L396.05 371.4L397.6 372.95L396.05 374.5L397.6 376.05L396.05 377.6L394.5 376.05L392.95 377.6L391.4 376.05L392.95 374.5L391.4 372.95Z"/>
<path d="M405.95 374.4L407.5 375.95L409.05 374.4L410.6 375.95L409.05 377.5L410.6 379.05L409.05 380.6L407.5 379.05L405.95 380.6L404.4 379.05L405.95 377.5L404.4 375.95Z"/>
<path d="M418.95 375.4L420.5 376.95L422.05 375.4L423.6 376.95L422.05 378.5L423.6 380.05L422.05 381.6L420.5 380.05L418.95 381.6L417.4 380.05L418.95 378.5L417.4 376.95Z"/>
<path d="M432.95 375.4L434.5 376.95L436.05 375.4L437.6 376.95L436.05 378.5L437.6 380.05L436.05 381.6L434.5 380.05L432.95 381.6L431.4 380.05L432.95 378.5L431.4 376.95Z"/>
<path d="M445.95 374.4L447.5 375.95L449.05 374.4L450.6 375.95L449.05 377.5L450.6 379.05L449.05 380.6L447.5 379.05L445.95 380.6L444.4 379.05L445.95 377.5L444.4 375.95Z"/>
<path d="M459.95 375.4L461.5 376.95L463.05 375.4L464.6 376.95L463.05 378.5L464.6 380.05L463.05 381.6L461.5 380.05L459.95 381.6L458.4 380.05L459.95 378.5L458.4 376.95Z"/>
<path d="M472.95 373.4L474.5 374.95L476.05 373.4L477.6 374.95L476.05 376.5L477.6 378.05L476.05 379.6L474.5 378.05L472.95 379.6L471.4 378.05L472.95 376.5L471.4 374.95Z"/>
<path d="M486.95 371.4L488.5 372.95L490.05 371.4L491.6 372.95L490.05 374.5L491.6 376.05L490.05 377.6L488.5 376.05L486.95 377.6L485.4 376.05L486.95 374.5L485.4 372.95Z"/>
<path d="M499.95 373.4L501.5 374.95L503.05 373.4L504.6 374.95L503.05 376.5L504.6 378.05L503.05 379.6L501.5 378.05L499.95 379.6L498.4 378.05L499.95 376.5L498.4 374.95Z"/>
<path d="M513.95 375.4L515.5 376.95L517.05 375.4L518.6 376.95L517.05 378.5L518.6 380.05L517.05 381.6L515.5 380.05L513.95 381.6L512.4 380.05L513.95 378.5L512.4 376.95Z"/>
<path d="M526.95 374.4L528.5 375.95L530.05 374.4L531.6 375.95L530.05 377.5L531.6 379.05L530.05 380.6L528.5 379.05L526.95 380.6L525.4 379.05L526.95 377.5L525.4 375.95Z"/>
<path d="M539.95 377.4L541.5 378.95L543.05 377.4L544.6 378.95L543.05 380.5L544.6 382.05L543.05 383.6L541.5 382.05L539.95 383.6L538.4 382.05L539.95 380.5L538.4 378.95Z"/>
<path d="M553.95 378.4L555.5 379.95L557.05 378.4L558.6 379.95L557.05 381.5L558.6 383.05L557.05 384.6L555.5 383.05L553.95 384.6L552.4 383.05L553.95 381.5L552.4 379.95Z"/>
<path d="M566.95 379.4L568.5 380.95L570.05 379.4L571.6 380.95L570.05 382.5L571.6 384.05L570.05 385.6L568.5 384.05L566.95 385.6L565.4 384.05L566.95 382.5L565.4 380.95Z"/>
<path d="M580.95 379.4L582.5 380.95L584.05 379.4L585.6 380.95L584.05 382.5L585.6 384.05L584.05 385.6L582.5 384.05L580.95 385.6L579.4 384.05L580.95 382.5L579.4 380.95Z"/>
<path d="M593.95 379.4L595.5 380.95L597.05 379.4L598.6 380.95L597.05 382.5L598.6 384.05L597.05 385.6L595.5 384.05L593.95 385.6L592.4 384.05L593.95 382.5L592.4 380.95Z"/>
<path d="M607.95 379.4L609.5 380.95L611.05 379.4L612.6 380.95L611.05 382.5L612.6 384.05L611.05 385.6L609.5 384.05L607.95 385.6L606.4 384.05L607.95 382.5L606.4 380.95Z"/>
<path d="M620.95 379.4L622.5 380.95L624.05 379.4L625.6 380.95L624.05 382.5L625.6 384.05L624.05 385.6L622.5 384.05L620.95 385.6L619.4 384.05L620.95 382.5L619.4 380.95Z"/>
<path d="M634.95 379.4L636.5 380.95L638.05 379.4L639.6 380.95L638.05 382.5L639.6 384.05L638.05 385.6L636.5 384.05L634.95 385.6L633.4 384.05L634.95 382.5L633.4 380.95Z"/>
<path d="M647.95 379.4L649.5 380.95L651.05 379.4L652.6 380.95L651.05 382.5L652.6 384.05L651.05 385.6L649.5 384.05L647.95 385.6L646.4 384.05L647.95 382.5L646.4 380.95Z"/>
<path d="M660.95 379.4L662.5 380.95L664.05 379.4L665.6 380.95L664.05 382.5L665.6 384.05L664.05 385.6L662.5 384.05L660.95 385.6L659.4 384.05L660.95 382.5L659.4 380.95Z"/>
<path d="M674.95 379.4L676.5 380.95L678.05 379.4L679.6 380.95L678.05 382.5L679.6 384.05L678.05 385.6L676.5 384.05L674.95 385.6L673.4 384.05L674.95 382.5L673.4 380.95Z"/>
<path d="M687.95 379.4L689.5 380.95L691.05 379.4L692.6 380.95L691.05 382.5L692.6 384.05L691.05 385.6L689.5 384.05L687.95 385.6L686.4 384.05L687.95 382.5L686.4 380.95Z"/>
<path d="M701.95 379.4L703.5 380.95L705.05 379.4L706.6 380.95L705.05 382.5L706.6 384.05L705.05 385.6L703.5 384.05L701.95 385.6L700.4 384.05L701.95 382.5L700.4 380.95Z"/>
<path d="M714.95 379.4L716.5 380.95L718.05 379.4L719.6 380.95L718.05 382.5L719.6 384.05L718.05 385.6L716.5 384.05L714.95 385.6L713.4 384.05L714.95 382.5L713.4 380.95Z"/>
<path d="M728.95 379.4L730.5 380.95L732.05 379.4L733.6 380.95L732.05 382.5L733.6 384.05L732.05 385.6L730.5 384.05L728.95 385.6L727.4 384.05L728.95 382.5L727.4 380.95Z"/>
<path d="M741.95 379.4L743.5 380.95L745.05 379.4L746.6 380.95L745.05 382.5L746.6 384.05L745.05 385.6L743.5 384.05L741.95 385.6L740.4 384.05L741.95 382.5L740.4 380.95Z"/>
<path d="M754.95 379.4L756.5 380.95L758.05 379.4L759.6 380.95L758.05 382.5L759.6 384.05L758.05 385.6L756.5 384.05L754.95 385.6L753.4 384.05L754.95 382.5L753.4 380.95Z"/>
</g></g>
<g stroke="#ff0000" fill="#ff0000">
<polyline fill="none" stroke-width="1.75" stroke-linejoin="round" stroke-dasharray="1.67 2.75" points="71.52,382.32 84.96,382.32 98.4,382.32 111.84,382.32 125.28,382.32 138.72,382.32 152.16,382.32 165.6,382.32 179.04,382.32 192.48,382.32 205.92,382.32 219.36,382.32 232.8,382.32 246.24,377.75 259.68,378.3 273.12,368.47 286.56,378.3 300,378.72 313.44,373.6 326.88,375.95 340.32,372.07 353.76,373.04 367.2,378.72 380.64,376.5 394.08,373.87 407.52,378.58 420.96,377.75 434.4,376.37 447.84,378.03 461.28,379.27 474.72,378.58 488.16,375.4 501.6,377.61 515.04,378.17 528.48,378.44 541.92,380.66 555.36,382.32 568.8,382.32 582.24,382.32 595.68,382.32 609.12,382.32 622.56,382.32 636,382.32 649.44,382.32 662.88,382.32 676.32,382.32 689.76,382.32 703.2,382.32 716.64,382.32 730.08,382.32 743.52,382.32 756.96,382.32"/>
<g stroke-width="0.9" stroke-linejoin="miter">
<path d="M69.95 379.4L71.5 380.95L73.05 379.4L74.6 380.95L73.05 382.5L74.6 384.05L73.05 385.6L71.5 384.05L69.95 385.6L68.4 384.05L69.95 382.5L68.4 380.95Z"/>
<path d="M82.95 379.4L84.5 380.95L86.05 379.4L87.6 380.95L86.05 382.5L87.6 384.05L86.05 385.6L84.5 384.05L82.95 385.6L81.4 384.05L82.95 382.5L81.4 380.95Z"/>
<path d="M96.95 379.4L98.5 380.95L100.05 379.4L101.6 380.95L100.05 382.5L101.6 384.05L100.05 385.6L98.5 384.05L96.95 385.6L95.4 384.05L96.95 382.5L95.4 380.95Z"/>
<path d="M109.95 379.4L111.5 380.95L113.05 379.4L114.6 380.95L113.05 382.5L114.6 384.05L113.05 385.6L111.5 384.05L109.95 385.6L108.4 384.05L109.95 382.5L108.4 380.95Z"/>
<path d="M123.95 379.4L125.5 380.95L127.05 379.4L128.6 380.95L127.05 382.5L128.6 384.05L127.05 385.6L125.5 384.05L123.95 385.6L122.4 384.05L123.95 382.5L122.4 380.95Z"/>
<path d="M136.95 379.4L138.5 380.95L140.05 379.4L141.6 380.95L140.05 382.5L141.6 384.05L140.05 385.6L138.5 384.05L136.95 385.6L135.4 384.05L136.95 382.5L135.4 380.95Z"/>
<path d="M150.95 379.4L152.5 380.95L154.05 379.4L155.6 380.95L154.05 382.5L155.6 384.05L154.05 385.6L152.5 384.05L150.95 385.6L149.4 384.05L150.95 382.5L149.4 380.95Z"/>
<path d="M163.95 379.4L165.5 380.95L167.05 379.4L168.6 380.95L167.05 382.5L168.6 384.05L167.05 385.6L165.5 384.05L163.95 385.6L162.4 384.05L163.95 382.5L162.4 380.95Z"/>
<path d="M177.95 379.4L179.5 380.95L181.05 379.4L182.6 380.95L181.05 382.5L182.6 384.05L181.05 385.6L179.5 384.05L177.95 385.6L176.4 384.05L177.95 382.5L176.4 380.95Z"/>
<path d="M190.95 379.4L192.5 380.95L194.05 379.4L195.6 380.95L194.05 382.5L195.6 384.05L194.05 385.6L192.5 384.05L190.95 385.6L189.4 384.05L190.95 382.5L189.4 380.95Z"/>
<path d="M203.95 379.4L205.5 380.95L207.05 379.4L208.6 380.95L207.05 382.5L208.6 384.05L207.05 385.6L205.5 384.05L203.95 385.6L202.4 384.05L203.95 382.5L202.4 380.95Z"/>
<path d="M217.95 379.4L219.5 380.95L221.05 379.4L222.6 380.95L221.05 382.5L222.6 384.05L221.05 385.6L219.5 384.05L217.95 385.6L216.4 384.05L217.95 382.5L216.4 380.95Z"/>
<path d="M230.95 379.4L232.5 380.95L234.05 379.4L235.6 380.95L234.05 382.5L235.6 384.05L234.05 385.6L232.5 384.05L230.95 385.6L229.4 384.05L230.95 382.5L229.4 380.95Z"/>
<path d="M244.95 374.4L246.5 375.95L248.05 374.4L249.6 375.95L248.05 377.5L249.6 379.05L248.05 380.6L246.5 379.05L244.95 380.6L243.4 379.05L244.95 377.5L243.4 375.95Z"/>
<path d="M257.95 375.4L259.5 376.95L261.05 375.4L262.6 376.95L261.05 378.5L262.6 380.05L261.05 381.6L259.5 380.05L257.95 381.6L256.4 380.05L257.95 378.5L256.4 376.95Z"/>
<path d="M271.95 365.4L273.5 366.95L275.05 365.4L276.6 366.95L275.05 368.5L276.6 370.05L275.05 371.6L273.5 370.05L271.95 371.6L270.4 370.05L271.95 368.5L270.4 366.95Z"/>
<path d="M284.95 375.4L286.5 376.95L288.05 375.4L289.6 376.95L288.05 378.5L289.6 380.05L288.05 381.6L286.5 380.05L284.95 381.6L283.4 380.05L284.95 378.5L283.4 376.95Z"/>
<path d="M298.95 375.4L300.5 376.95L302.05 375.4L303.6 376.95L302.05 378.5L303.6 380.05L302.05 381.6L300.5 380.05L298.95 381.6L297.4 380.05L298.95 378.5L297.4 376.95Z"/>
<path d="M311.95 370.4L313.5 371.95L315.05 370.4L316.6 371.95L315.05 373.5L316.6 375.05L315.05 376.6L313.5 375.05L311.95 376.6L310.4 375.05L311.95 373.5L310.4 371.95Z"/>
<path d="M324.95 372.4L326.5 373.95L328.05 372.4L329.6 373.95L328.05 375.5L329.6 377.05L328.05 378.6L326.5 377.05L324.95 378.6L323.4 377.05L324.95 375.5L323.4 373.95Z"/>
<path d="M338.95 369.4L340.5 370.95L342.05 369.4L343.6 370.95L342.05 372.5L343.6 374.05L342.05 375.6L340.5 374.05L338.95 375.6L337.4 374.05L338.95 372.5L337.4 370.95Z"/>
<path d="M351.95 370.4L353.5 371.95L355.05 370.4L356.6 371.95L355.05 373.5L356.6 375.05L355.05 376.6L353.5 375.05L351.95 376.6L350.4 375.05L351.95 373.5L350.4 371.95Z"/>
<path d="M365.95 375.4L367.5 376.95L369.05 375.4L370.6 376.95L369.05 378.5L370.6 380.05L369.05 381.6L367.5 380.05L365.95 381.6L364.4 380.05L365.95 378.5L364.4 376.95Z"/>
<path d="M378.95 373.4L380.5 374.95L382.05 373.4L383.6 374.95L382.05 376.5L383.6 378.05L382.05 379.6L380.5 378.05L378.95 379.6L377.4 378.05L378.95 376.5L377.4 374.95Z"/>
<path d="M392.95 370.4L394.5 371.95L396.05 370.4L397.6 371.95L396.05 373.5L397.6 375.05L396.05 376.6L394.5 375.05L392.95 376.6L391.4 375.05L392.95 373.5L391.4 371.95Z"/>
<path d="M405.95 375.4L407.5 376.95L409.05 375.4L410.6 376.95L409.05 378.5L410.6 380.05L409.05 381.6L407.5 380.05L405.95 381.6L404.4 380.05L405.95 378.5L404.4 376.95Z"/>
<path d="M418.95 374.4L420.5 375.95L422.05 374.4L423.6 375.95L422.05 377.5L423.6 379.05L422.05 380.6L420.5 379.05L418.95 380.6L417.4 379.05L418.95 377.5L417.4 375.95Z"/>
<path d="M432.95 373.4L434.5 374.95L436.05 373.4L437.6 374.95L436.05 376.5L437.6 378.05L436.05 379.6L434.5 378.05L432.95 379.6L431.4 378.05L432.95 376.5L431.4 374.95Z"/>
<path d="M445.95 375.4L447.5 376.95L449.05 375.4L450.6 376.95L449.05 378.5L450.6 380.05L449.05 381.6L447.5 380.05L445.95 381.6L444.4 380.05L445.95 378.5L444.4 376.95Z"/>
<path d="M459.95 376.4L461.5 377.95L463.05 376.4L464.6 377.95L463.05 379.5L464.6 381.05L463.05 382.6L461.5 381.05L459.95 382.6L458.4 381.05L459.95 379.5L458.4 377.95Z"/>
<path d="M472.95 375.4L474.5 376.95L476.05 375.4L477.6 376.95L476.05 378.5L477.6 380.05L476.05 381.6L474.5 380.05L472.95 381.6L471.4 380.05L472.95 378.5L471.4 376.95Z"/>
<path d="M486.95 372.4L488.5 373.95L490.05 372.4L491.6 373.95L490.05 375.5L491.6 377.05L490.05 378.6L488.5 377.05L486.95 378.6L485.4 377.05L486.95 375.5L485.4 373.95Z"/>
<path d="M499.95 374.4L501.5 375.95L503.05 374.4L504.6 375.95L503.05 377.5L504.6 379.05L503.05 380.6L501.5 379.05L499.95 380.6L498.4 379.05L499.95 377.5L498.4 375.95Z"/>
<path d="M513.95 375.4L515.5 376.95L517.05 375.4L518.6 376.95L517.05 378.5L518.6 380.05L517.05 381.6L515.5 380.05L513.95 381.6L512.4 380.05L513.95 378.5L512.4 376.95Z"/>
<path d="M526.95 375.4L528.5 376.95L530.05 375.4L531.6 376.95L530.05 378.5L531.6 380.05L530.05 381.6L528.5 380.05L526.95 381.6L525.4 380.05L526.95 378.5L525.4 376.95Z"/>
<path d="M539.95 377.4L541.5 378.95L543.05 377.4L544.6 378.95L543.05 380.5L544.6 382.05L543.05 383.6L541.5 382.05L539.95 383.6L538.4 382.05L539.95 380.5L538.4 378.95Z"/>
<path d="M553.95 379.4L555.5 380.95L557.05 379.4L558.6 380.95L557.05 382.5L558.6 384.05L557.05 385.6L555.5 384.05L553.95 385.6L552.4 384.05L553.95 382.5L552.4 380.95Z"/>
<path d="M566.95 379.4L568.5 380.95L570.05 379.4L571.6 380.95L570.05 382.5L571.6 384.05L570.05 385.6L568.5 384.05L566.95 385.6L565.4 384.05L566.95 382.5L565.4 380.95Z"/>
<path d="M580.95 379.4L582.5 380.95L584.05 379.4L585.6 380.95L584.05 382.5L585.6 384.05L584.05 385.6L582.5 384.05L580.95 385.6L579.4 384.05L580.95 382.5L579.4 380.95Z"/>
<path d="M593.95 379.4L595.5 380.95L597.05 379.4L598.6 380.95L597.05 382.5L598.6 384.05L597.05 385.6L595.5 384.05L593.95 385.6L592.4 384.05L593.95 382.5L592.4 380.95Z"/>
<path d="M607.95 379.4L609.5 380.95L611.05 379.4L612.6 380.95L611.05 382.5L612.6 384.05L611.05 385.6L609.5 384.05L607.95 385.6L606.4 384.05L607.95 382.5L606.4 380.95Z"/>
<path d="M620.95 379.4L622.5 380.95L624.05 379.4L625.6 380.95L624.05 382.5L625.6 384.05L624.05 385.6L622.5 384.05L620.95 385.6L619.4 384.05L620.95 382.5L619.4 380.95Z"/>
<path d="M634.95 379.4L636.5 380.95L638.05 379.4L639.6 380.95L638.05 382.5L639.6 384.05L638.05 385.6L636.5 384.05L634.95 385.6L633.4 384.05L634.95 382.5L633.4 380.95Z"/>
<path d="M647.95 379.4L649.5 380.95L651.05 379.4L652.6 380.95L651.05 382.5L652.6 384.05L651.05 385.6L649.5 384.05L647.95 385.6L646.4 384.05L647.95 382.5L646.4 380.95Z"/>
<path d="M660.95 379.4L662.5 380.95L664.05 379.4L665.6 380.95L664.05 382.5L665.6 384.05L664.05 385.6L662.5 384.05L660.95 385.6L659.4 384.05L660.95 382.5L659.4 380.95Z"/>
<path d="M674.95 379.4L676.5 380.95L678.05 379.4L679.6 380.95L678.05 382.5L679.6 384.05L678.05 385.6L676.5 384.05L674.95 385.6L673.4 384.05L674.95 382.5L673.4 380.95Z"/>
<path d="M687.95 379.4L689.5 380.95L691.05 379.4L692.6 380.95L691.05 382.5L692.6 384.05L691.05 385.6L689.5 384.05L687.95 385.6L686.4 384.05L687.95 382.5L686.4 380.95Z"/>
<path d="M701.95 379.4L703.5 380.95L705.05 379.4L706.6 380.95L705.05 382.5L706.6 384.05L705.05 385.6L703.5 384.05L701.95 385.6L700.4 384.05L701.95 382.5L700.4 380.95Z"/>
<path d="M714.95 379.4L716.5 380.95L718.05 379.4L719.6 380.95L718.05 382.5L719.6 384.05L718.05 385.6L716.5 384.05L714.95 385.6L713.4 384.05L714.95 382.5L713.4 380.95Z"/>
<path d="M728.95 379.4L730.5 380.95L732.05 379.4L733.6 380.95L732.05 382.5L733.6 384.05L732.05 385.6L730.5 384.05L728.95 385.6L727.4 384.05L728.95 382.5L727.4 380.95Z"/>
<path d="M741.95 379.4L743.5 380.95L745.05 379.4L746.6 380.95L745.05 382.5L746.6 384.05L745.05 385.6L743.5 384.05L741.95 385.6L740.4 384.05L741.95 382.5L740.4 380.95Z"/>
<path d="M754.95 379.4L756.5 380.95L758.05 379.4L759.6 380.95L758.05 382.5L759.6 384.05L758.05 385.6L756.5 384.05L754.95 385.6L753.4 384.05L754.95 382.5L753.4 380.95Z"/>
</g></g>
<g stroke="#008000" fill="#008000">
<polyline fill="none" stroke-width="1.75" stroke-linejoin="round" stroke-dasharray="1.67 2.75" points="71.52,382.32 84.96,382.32 98.4,382.32 111.84,382.32 125.28,382.32 138.72,382.32 152.16,382.32 165.6,382.32 179.04,382.32 192.48,382.32 205.92,382.32 219.36,382.32 232.8,382.32 246.24,382.32 259.68,382.32 273.12,382.32 286.56,382.32 300,382.32 313.44,382.32 326.88,382.32 340.32,382.32 353.76,382.32 367.2,379.55 380.64,377.06 394.08,377.2 407.52,369.86 420.96,379.14 434.4,370.27 447.84,378.17 461.28,379.27 474.72,379 488.16,369.86 501.6,356.84 515.04,355.6 528.48,353.24 541.92,376.78 555.36,380.94 568.8,382.32 582.24,382.32 595.68,382.32 609.12,382.32 622.56,382.32 636,382.32 649.44,382.32 662.88,382.32 676.32,382.32 689.76,382.32 703.2,382.32 716.64,382.32 730.08,382.32 743.52,382.32 756.96,382.32"/>
<g stroke-width="0.9" stroke-linejoin="miter">
<path d="M69.95 379.4L71.5 380.95L73.05 379.4L74.6 380.95L73.05 382.5L74.6 384.05L73.05 385.6L71.5 384.05L69.95 385.6L68.4 384.05L69.95 382.5L68.4 380.95Z"/>
<path d="M82.95 379.4L84.5 380.95L86.05 379.4L87.6 380.95L86.05 382.5L87.6 384.05L86.05 385.6L84.5 384.05L82.95 385.6L81.4 384.05L82.95 382.5L81.4 380.95Z"/>
<path d="M96.95 379.4L98.5 380.95L100.05 379.4L101.6 380.95L100.05 382.5L101.6 384.05L100.05 385.6L98.5 384.05L96.95 385.6L95.4 384.05L96.95 382.5L95.4 380.95Z"/>
<path d="M109.95 379.4L111.5 380.95L113.05 379.4L114.6 380.95L113.05 382.5L114.6 384.05L113.05 385.6L111.5 384.05L109.95 385.6L108.4 384.05L109.95 382.5L108.4 380.95Z"/>
<path d="M123.95 379.4L125.5 380.95L127.05 379.4L128.6 380.95L127.05 382.5L128.6 384.05L127.05 385.6L125.5 384.05L123.95 385.6L122.4 384.05L123.95 382.5L122.4 380.95Z"/>
<path d="M136.95 379.4L138.5 380.95L140.05 379.4L141.6 380.95L140.05 382.5L141.6 384.05L140.05 385.6L138.5 384.05L136.95 385.6L135.4 384.05L136.95 382.5L135.4 380.95Z"/>
<path d="M150.95 379.4L152.5 380.95L154.05 379.4L155.6 380.95L154.05 382.5L155.6 384.05L154.05 385.6L152.5 384.05L150.95 385.6L149.4 384.05L150.95 382.5L149.4 380.95Z"/>
<path d="M163.95 379.4L165.5 380.95L167.05 379.4L168.6 380.95L167.05 382.5L168.6 384.05L167.05 385.6L165.5 384.05L163.95 385.6L162.4 384.05L163.95 382.5L162.4 380.95Z"/>
<path d="M177.95 379.4L179.5 380.95L181.05 379.4L182.6 380.95L181.05 382.5L182.6 384.05L181.05 385.6L179.5 384.05L177.95 385.6L176.4 384.05L177.95 382.5L176.4 380.95Z"/>
<path d="M190.95 379.4L192.5 380.95L194.05 379.4L195.6 380.95L194.05 382.5L195.6 384.05L194.05 385.6L192.5 384.05L190.95 385.6L189.4 384.05L190.95 382.5L189.4 380.95Z"/>
<path d="M203.95 379.4L205.5 380.95L207.05 379.4L208.6 380.95L207.05 382.5L208.6 384.05L207.05 385.6L205.5 384.05L203.95 385.6L202.4 384.05L203.95 382.5L202.4 380.95Z"/>
<path d="M217.95 379.4L219.5 380.95L221.05 379.4L222.6 380.95L221.05 382.5L222.6 384.05L221.05 385.6L219.5 384.05L217.95 385.6L216.4 384.05L217.95 382.5L216.4 380.95Z"/>
<path d="M230.95 379.4L232.5 380.95L234.05 379.4L235.6 380.95L234.05 382.5L235.6 384.05L234.05 385.6L232.5 384.05L230.95 385.6L229.4 384.05L230.95 382.5L229.4 380.95Z"/>
<path d="M244.95 379.4L246.5 380.95L248.05 379.4L249.6 380.95L248.05 382.5L249.6 384.05L248.05 385.6L246.5 384.05L244.95 385.6L243.4 384.05L244.95 382.5L243.4 380.95Z"/>
<path d="M257.95 379.4L259.5 380.95L261.05 379.4L262.6 380.95L261.05 382.5L262.6 384.05L261.05 385.6L259.5 384.05L257.95 385.6L256.4 384.05L257.95 382.5L256.4 380.95Z"/>
<path d="M271.95 379.4L273.5 380.95L275.05 379.4L276.6 380.95L275.05 382.5L276.6 384.05L275.05 385.6L273.5 384.05L271.95 385.6L270.4 384.05L271.95 382.5L270.4 380.95Z"/>
<path d="M284.95 379.4L286.5 380.95L288.05 379.4L289.6 380.95L288.05 382.5L289.6 384.05L288.05 385.6L286.5 384.05L284.95 385.6L283.4 384.05L284.95 382.5L283.4 380.95Z"/>
<path d="M298.95 379.4L300.5 380.95L302.05 379.4L303.6 380.95L302.05 382.5L303.6 384.05L302.05 385.6L300.5 384.05L298.95 385.6L297.4 384.05L298.95 382.5L297.4 380.95Z"/>
<path d="M311.95 379.4L313.5 380.95L315.05 379.4L316.6 380.95L315.05 382.5L316.6 384.05L315.05 385.6L313.5 384.05L311.95 385.6L310.4 384.05L311.95 382.5L310.4 380.95Z"/>
<path d="M324.95 379.4L326.5 380.95L328.05 379.4L329.6 380.95L328.05 382.5L329.6 384.05L328.05 385.6L326.5 384.05L324.95 385.6L323.4 384.05L324.95 382.5L323.4 380.95Z"/>
<path d="M338.95 379.4L340.5 380.95L342.05 379.4L343.6 380.95L342.05 382.5L343.6 384.05L342.05 385.6L340.5 384.05L338.95 385.6L337.4 384.05L338.95 382.5L337.4 380.95Z"/>
<path d="M351.95 379.4L353.5 380.95L355.05 379.4L356.6 380.95L355.05 382.5L356.6 384.05L355.05 385.6L353.5 384.05L351.95 385.6L350.4 384.05L351.95 382.5L350.4 380.95Z"/>
<path d="M365.95 376.4L367.5 377.95L369.05 376.4L370.6 377.95L369.05 379.5L370.6 381.05L369.05 382.6L367.5 381.05L365.95 382.6L364.4 381.05L365.95 379.5L364.4 377.95Z"/>
<path d="M378.95 374.4L380.5 375.95L382.05 374.4L383.6 375.95L382.05 377.5L383.6 379.05L382.05 380.6L380.5 379.05L378.95 380.6L377.4 379.05L378.95 377.5L377.4 375.95Z"/>
<path d="M392.95 374.4L394.5 375.95L396.05 374.4L397.6 375.95L396.05 377.5L397.6 379.05L396.05 380.6L394.5 379.05L392.95 380.6L391.4 379.05L392.95 377.5L391.4 375.95Z"/>
<path d="M405.95 366.4L407.5 367.95L409.05 366.4L410.6 367.95L409.05 369.5L410.6 371.05L409.05 372.6L407.5 371.05L405.95 372.6L404.4 371.05L405.95 369.5L404.4 367.95Z"/>
<path d="M418.95 376.4L420.5 377.95L422.05 376.4L423.6 377.95L422.05 379.5L423.6 381.05L422.05 382.6L420.5 381.05L418.95 382.6L417.4 381.05L418.95 379.5L417.4 377.95Z"/>
<path d="M432.95 367.4L434.5 368.95L436.05 367.4L437.6 368.95L436.05 370.5L437.6 372.05L436.05 373.6L434.5 372.05L432.95 373.6L431.4 372.05L432.95 370.5L431.4 368.95Z"/>
<path d="M445.95 375.4L447.5 376.95L449.05 375.4L450.6 376.95L449.05 378.5L450.6 380.05L449.05 381.6L447.5 380.05L445.95 381.6L444.4 380.05L445.95 378.5L444.4 376.95Z"/>
<path d="M459.95 376.4L461.5 377.95L463.05 376.4L464.6 377.95L463.05 379.5L464.6 381.05L463.05 382.6L461.5 381.05L459.95 382.6L458.4 381.05L459.95 379.5L458.4 377.95Z"/>
<path d="M472.95 375.4L474.5 376.95L476.05 375.4L477.6 376.95L476.05 378.5L477.6 380.05L476.05 381.6L474.5 380.05L472.95 381.6L471.4 380.05L472.95 378.5L471.4 376.95Z"/>
<path d="M486.95 366.4L488.5 367.95L490.05 366.4L491.6 367.95L490.05 369.5L491.6 371.05L490.05 372.6L488.5 371.05L486.95 372.6L485.4 371.05L486.95 369.5L485.4 367.95Z"/>
<path d="M499.95 353.4L501.5 354.95L503.05 353.4L504.6 354.95L503.05 356.5L504.6 358.05L503.05 359.6L501.5 358.05L499.95 359.6L498.4 358.05L499.95 356.5L498.4 354.95Z"/>
<path d="M513.95 352.4L515.5 353.95L517.05 352.4L518.6 353.95L517.05 355.5L518.6 357.05L517.05 358.6L515.5 357.05L513.95 358.6L512.4 357.05L513.95 355.5L512.4 353.95Z"/>
<path d="M526.95 350.4L528.5 351.95L530.05 350.4L531.6 351.95L530.05 353.5L531.6 355.05L530.05 356.6L528.5 355.05L526.95 356.6L525.4 355.05L526.95 353.5L525.4 351.95Z"/>
<path d="M539.95 373.4L541.5 374.95L543.05 373.4L544.6 374.95L543.05 376.5L544.6 378.05L543.05 379.6L541.5 378.05L539.95 379.6L538.4 378.05L539.95 376.5L538.4 374.95Z"/>
<path d="M553.95 377.4L555.5 378.95L557.05 377.4L558.6 378.95L557.05 380.5L558.6 382.05L557.05 383.6L555.5 382.05L553.95 383.6L552.4 382.05L553.95 380.5L552.4 378.95Z"/>
<path d="M566.95 379.4L568.5 380.95L570.05 379.4L571.6 380.95L570.05 382.5L571.6 384.05L570.05 385.6L568.5 384.05L566.95 385.6L565.4 384.05L566.95 382.5L565.4 380.95Z"/>
<path d="M580.95 379.4L582.5 380.95L584.05 379.4L585.6 380.95L584.05 382.5L585.6 384.05L584.05 385.6L582.5 384.05L580.95 385.6L579.4 384.05L580.95 382.5L579.4 380.95Z"/>
<path d="M593.95 379.4L595.5 380.95L597.05 379.4L598.6 380.95L597.05 382.5L598.6 384.05L597.05 385.6L595.5 384.05L593.95 385.6L592.4 384.05L593.95 382.5L592.4 380.95Z"/>
<path d="M607.95 379.4L609.5 380.95L611.05 379.4L612.6 380.95L611.05 382.5L612.6 384.05L611.05 385.6L609.5 384.05L607.95 385.6L606.4 384.05L607.95 382.5L606.4 380.95Z"/>
<path d="M620.95 379.4L622.5 380.95L624.05 379.4L625.6 380.95L624.05 382.5L625.6 384.05L624.05 385.6L622.5 384.05L620.95 385.6L619.4 384.05L620.95 382.5L619.4 380.95Z"/>
<path d="M634.95 379.4L636.5 380.95L638.05 379.4L639.6 380.95L638.05 382.5L639.6 384.05L638.05 385.6L636.5 384.05L634.95 385.6L633.4 384.05L634.95 382.5L633.4 380.95Z"/>
<path d="M647.95 379.4L649.5 380.95L651.05 379.4L652.6 380.95L651.05 382.5L652.6 384.05L651.05 385.6L649.5 384.05L647.95 385.6L646.4 384.05L647.95 382.5L646.4 380.95Z"/>
<path d="M660.95 379.4L662.5 380.95L664.05 379.4L665.6 380.95L664.05 382.5L665.6 384.05L664.05 385.6L662.5 384.05L660.95 385.6L659.4 384.05L660.95 382.5L659.4 380.95Z"/>
<path d="M674.95 379.4L676.5 380.95L678.05 379.4L679.6 380.95L678.05 382.5L679.6 384.05L678.05 385.6L676.5 384.05L674.95 385.6L673.4 384.05L674.95 382.5L673.4 380.95Z"/>
<path d="M687.95 379.4L689.5 380.95L691.05 379.4L692.6 380.95L691.05 382.5L692.6 384.05L691.05 385.6L689.5 384.05L687.95 385.6L686.4 384.05L687.95 382.5L686.4 380.95Z"/>
<path d="M701.95 379.4L703.5 380.95L705.05 379.4L706.6 380.95L705.05 382.5L706.6 384.05L705.05 385.6L703.5 384.05L701.95 385.6L700.4 384.05L701.95 382.5L700.4 380.95Z"/>
<path d="M714.95 379.4L716.5 380.95L718.05 379.4L719.6 380.95L718.05 382.5L719.6 384.05L718.05 385.6L716.5 384.05L714.95 385.6L713.4 384.05L714.95 382.5L713.4 380.95Z"/>
<path d="M728.95 379.4L730.5 380.95L732.05 379.4L733.6 380.95L732.05 382.5L733.6 384.05L732.05 385.6L730.5 384.05L728.95 385.6L727.4 384.05L728.95 382.5L727.4 380.95Z"/>
<path d="M741.95 379.4L743.5 380.95L745.05 379.4L746.6 380.95L745.05 382.5L746.6 384.05L745.05 385.6L743.5 384.05L741.95 385.6L740.4 384.05L741.95 382.5L740.4 380.95Z"/>
<path d="M754.95 379.4L756.5 380.95L758.05 379.4L759.6 380.95L758.05 382.5L759.6 384.05L758.05 385.6L756.5 384.05L754.95 385.6L753.4 384.05L754.95 382.5L753.4 380.95Z"/>
</g></g>
<g stroke="#0000ff" fill="#0000ff">
<polyline fill="none" stroke-width="1.75" stroke-linejoin="round" stroke-dasharray="1.67 2.75" points="71.52,382.32 84.96,382.32 98.4,382.32 111.84,382.32 125.28,382.32 138.72,382.32 152.16,382.32 165.6,382.32 179.04,382.32 192.48,382.32 205.92,382.32 219.36,376.92 232.8,377.47 246.24,380.66 259.68,378.72 273.12,375.81 286.56,380.66 300,378.58 313.44,377.06 326.88,377.61 340.32,377.61 353.76,373.32 367.2,379.14 380.64,377.34 394.08,376.23 407.52,377.75 420.96,377.06 434.4,378.44 447.84,380.1 461.28,378.44 474.72,378.72 488.16,378.86 501.6,379.27 515.04,378.17 528.48,379.55 541.92,382.32 555.36,382.32 568.8,382.32 582.24,382.32 595.68,382.32 609.12,382.32 622.56,382.32 636,382.32 649.44,382.32 662.88,382.32 676.32,382.32 689.76,382.32 703.2,382.32 716.64,382.32 730.08,382.32 743.52,382.32 756.96,382.32"/>
<g stroke-width="0.9" stroke-linejoin="miter">
<path d="M69.95 379.4L71.5 380.95L73.05 379.4L74.6 380.95L73.05 382.5L74.6 384.05L73.05 385.6L71.5 384.05L69.95 385.6L68.4 384.05L69.95 382.5L68.4 380.95Z"/>
<path d="M82.95 379.4L84.5 380.95L86.05 379.4L87.6 380.95L86.05 382.5L87.6 384.05L86.05 385.6L84.5 384.05L82.95 385.6L81.4 384.05L82.95 382.5L81.4 380.95Z"/>
<path d="M96.95 379.4L98.5 380.95L100.05 379.4L101.6 380.95L100.05 382.5L101.6 384.05L100.05 385.6L98.5 384.05L96.95 385.6L95.4 384.05L96.95 382.5L95.4 380.95Z"/>
<path d="M109.95 379.4L111.5 380.95L113.05 379.4L114.6 380.95L113.05 382.5L114.6 384.05L113.05 385.6L111.5 384.05L109.95 385.6L108.4 384.05L109.95 382.5L108.4 380.95Z"/>
<path d="M123.95 379.4L125.5 380.95L127.05 379.4L128.6 380.95L127.05 382.5L128.6 384.05L127.05 385.6L125.5 384.05L123.95 385.6L122.4 384.05L123.95 382.5L122.4 380.95Z"/>
<path d="M136.95 379.4L138.5 380.95L140.05 379.4L141.6 380.95L140.05 382.5L141.6 384.05L140.05 385.6L138.5 384.05L136.95 385.6L135.4 384.05L136.95 382.5L135.4 380.95Z"/>
<path d="M150.95 379.4L152.5 380.95L154.05 379.4L155.6 380.95L154.05 382.5L155.6 384.05L154.05 385.6L152.5 384.05L150.95 385.6L149.4 384.05L150.95 382.5L149.4 380.95Z"/>
<path d="M163.95 379.4L165.5 380.95L167.05 379.4L168.6 380.95L167.05 382.5L168.6 384.05L167.05 385.6L165.5 384.05L163.95 385.6L162.4 384.05L163.95 382.5L162.4 380.95Z"/>
<path d="M177.95 379.4L179.5 380.95L181.05 379.4L182.6 380.95L181.05 382.5L182.6 384.05L181.05 385.6L179.5 384.05L177.95 385.6L176.4 384.05L177.95 382.5L176.4 380.95Z"/>
<path d="M190.95 379.4L192.5 380.95L194.05 379.4L195.6 380.95L194.05 382.5L195.6 384.05L194.05 385.6L192.5 384.05L190.95 385.6L189.4 384.05L190.95 382.5L189.4 380.95Z"/>
<path d="M203.95 379.4L205.5 380.95L207.05 379.4L208.6 380.95L207.05 382.5L208.6 384.05L207.05 385.6L205.5 384.05L203.95 385.6L202.4 384.05L203.95 382.5L202.4 380.95Z"/>
<path d="M217.95 373.4L219.5 374.95L221.05 373.4L222.6 374.95L221.05 376.5L222.6 378.05L221.05 379.6L219.5 378.05L217.95 379.6L216.4 378.05L217.95 376.5L216.4 374.95Z"/>
<path d="M230.95 374.4L232.5 375.95L234.05 374.4L235.6 375.95L234.05 377.5L235.6 379.05L234.05 380.6L232.5 379.05L230.95 380.6L229.4 379.05L230.95 377.5L229.4 375.95Z"/>
<path d="M244.95 377.4L246.5 378.95L248.05 377.4L249.6 378.95L248.05 380.5L249.6 382.05L248.05 383.6L246.5 382.05L244.95 383.6L243.4 382.05L244.95 380.5L243.4 378.95Z"/>
<path d="M257.95 375.4L259.5 376.95L261.05 375.4L262.6 376.95L261.05 378.5L262.6 380.05L261.05 381.6L259.5 380.05L257.95 381.6L256.4 380.05L257.95 378.5L256.4 376.95Z"/>
<path d="M271.95 372.4L273.5 373.95L275.05 372.4L276.6 373.95L275.05 375.5L276.6 377.05L275.05 378.6L273.5 377.05L271.95 378.6L270.4 377.05L271.95 375.5L270.4 373.95Z"/>
<path d="M284.95 377.4L286.5 378.95L288.05 377.4L289.6 378.95L288.05 380.5L289.6 382.05L288.05 383.6L286.5 382.05L284.95 383.6L283.4 382.05L284.95 380.5L283.4 378.95Z"/>
<path d="M298.95 375.4L300.5 376.95L302.05 375.4L303.6 376.95L302.05 378.5L303.6 380.05L302.05 381.6L300.5 380.05L298.95 381.6L297.4 380.05L298.95 378.5L297.4 376.95Z"/>
<path d="M311.95 374.4L313.5 375.95L315.05 374.4L316.6 375.95L315.05 377.5L316.6 379.05L315.05 380.6L313.5 379.05L311.95 380.6L310.4 379.05L311.95 377.5L310.4 375.95Z"/>
<path d="M324.95 374.4L326.5 375.95L328.05 374.4L329.6 375.95L328.05 377.5L329.6 379.05L328.05 380.6L326.5 379.05L324.95 380.6L323.4 379.05L324.95 377.5L323.4 375.95Z"/>
<path d="M338.95 374.4L340.5 375.95L342.05 374.4L343.6 375.95L342.05 377.5L343.6 379.05L342.05 380.6L340.5 379.05L338.95 380.6L337.4 379.05L338.95 377.5L337.4 375.95Z"/>
<path d="M351.95 370.4L353.5 371.95L355.05 370.4L356.6 371.95L355.05 373.5L356.6 375.05L355.05 376.6L353.5 375.05L351.95 376.6L350.4 375.05L351.95 373.5L350.4 371.95Z"/>
<path d="M365.95 376.4L367.5 377.95L369.05 376.4L370.6 377.95L369.05 379.5L370.6 381.05L369.05 382.6L367.5 381.05L365.95 382.6L364.4 381.05L365.95 379.5L364.4 377.95Z"/>
<path d="M378.95 374.4L380.5 375.95L382.05 374.4L383.6 375.95L382.05 377.5L383.6 379.05L382.05 380.6L380.5 379.05L378.95 380.6L377.4 379.05L378.95 377.5L377.4 375.95Z"/>
<path d="M392.95 373.4L394.5 374.95L396.05 373.4L397.6 374.95L396.05 376.5L397.6 378.05L396.05 379.6L394.5 378.05L392.95 379.6L391.4 378.05L392.95 376.5L391.4 374.95Z"/>
<path d="M405.95 374.4L407.5 375.95L409.05 374.4L410.6 375.95L409.05 377.5L410.6 379.05L409.05 380.6L407.5 379.05L405.95 380.6L404.4 379.05L405.95 377.5L404.4 375.95Z"/>
<path d="M418.95 374.4L420.5 375.95L422.05 374.4L423.6 375.95L422.05 377.5L423.6 379.05L422.05 380.6L420.5 379.05L418.95 380.6L417.4 379.05L418.95 377.5L417.4 375.95Z"/>
<path d="M432.95 375.4L434.5 376.95L436.05 375.4L437.6 376.95L436.05 378.5L437.6 380.05L436.05 381.6L434.5 380.05L432.95 381.6L431.4 380.05L432.95 378.5L431.4 376.95Z"/>
<path d="M445.95 377.4L447.5 378.95L449.05 377.4L450.6 378.95L449.05 380.5L450.6 382.05L449.05 383.6L447.5 382.05L445.95 383.6L444.4 382.05L445.95 380.5L444.4 378.95Z"/>
<path d="M459.95 375.4L461.5 376.95L463.05 375.4L464.6 376.95L463.05 378.5L464.6 380.05L463.05 381.6L461.5 380.05L459.95 381.6L458.4 380.05L459.95 378.5L458.4 376.95Z"/>
<path d="M472.95 375.4L474.5 376.95L476.05 375.4L477.6 376.95L476.05 378.5L477.6 380.05L476.05 381.6L474.5 380.05L472.95 381.6L471.4 380.05L472.95 378.5L471.4 376.95Z"/>
<path d="M486.95 375.4L488.5 376.95L490.05 375.4L491.6 376.95L490.05 378.5L491.6 380.05L490.05 381.6L488.5 380.05L486.95 381.6L485.4 380.05L486.95 378.5L485.4 376.95Z"/>
<path d="M499.95 376.4L501.5 377.95L503.05 376.4L504.6 377.95L503.05 379.5L504.6 381.05L503.05 382.6L501.5 381.05L499.95 382.6L498.4 381.05L499.95 379.5L498.4 377.95Z"/>
<path d="M513.95 375.4L515.5 376.95L517.05 375.4L518.6 376.95L517.05 378.5L518.6 380.05L517.05 381.6L515.5 380.05L513.95 381.6L512.4 380.05L513.95 378.5L512.4 376.95Z"/>
<path d="M526.95 376.4L528.5 377.95L530.05 376.4L531.6 377.95L530.05 379.5L531.6 381.05L530.05 382.6L528.5 381.05L526.95 382.6L525.4 381.05L526.95 379.5L525.4 377.95Z"/>
<path d="M539.95 379.4L541.5 380.95L543.05 379.4L544.6 380.95L543.05 382.5L544.6 384.05L543.05 385.6L541.5 384.05L539.95 385.6L538.4 384.05L539.95 382.5L538.4 380.95Z"/>
<path d="M553.95 379.4L555.5 380.95L557.05 379.4L558.6 380.95L557.05 382.5L558.6 384.05L557.05 385.6L555.5 384.05L553.95 385.6L552.4 384.05L553.95 382.5L552.4 380.95Z"/>
<path d="M566.95 379.4L568.5 380.95L570.05 379.4L571.6 380.95L570.05 382.5L571.6 384.05L570.05 385.6L568.5 384.05L566.95 385.6L565.4 384.05L566.95 382.5L565.4 380.95Z"/>
<path d="M580.95 379.4L582.5 380.95L584.05 379.4L585.6 380.95L584.05 382.5L585.6 384.05L584.05 385.6L582.5 384.05L580.95 385.6L579.4 384.05L580.95 382.5L579.4 380.95Z"/>
<path d="M593.95 379.4L595.5 380.95L597.05 379.4L598.6 380.95L597.05 382.5L598.6 384.05L597.05 385.6L595.5 384.05L593.95 385.6L592.4 384.05L593.95 382.5L592.4 380.95Z"/>
<path d="M607.95 379.4L609.5 380.95L611.05 379.4L612.6 380.95L611.05 382.5L612.6 384.05L611.05 385.6L609.5 384.05L607.95 385.6L606.4 384.05L607.95 382.5L606.4 380.95Z"/>
<path d="M620.95 379.4L622.5 380.95L624.05 379.4L625.6 380.95L624.05 382.5L625.6 384.05L624.05 385.6L622.5 384.05L620.95 385.6L619.4 384.05L620.95 382.5L619.4 380.95Z"/>
<path d="M634.95 379.4L636.5 380.95L638.05 379.4L639.6 380.95L638.05 382.5L639.6 384.05L638.05 385.6L636.5 384.05L634.95 385.6L633.4 384.05L634.95 382.5L633.4 380.95Z"/>
<path d="M647.95 379.4L649.5 380.95L651.05 379.4L652.6 380.95L651.05 382.5L652.6 384.05L651.05 385.6L649.5 384.05L647.95 385.6L646.4 384.05L647.95 382.5L646.4 380.95Z"/>
<path d="M660.95 379.4L662.5 380.95L664.05 379.4L665.6 380.95L664.05 382.5L665.6 384.05L664.05 385.6L662.5 384.05L660.95 385.6L659.4 384.05L660.95 382.5L659.4 380.95Z"/>
<path d="M674.95 379.4L676.5 380.95L678.05 379.4L679.6 380.95L678.05 382.5L679.6 384.05L678.05 385.6L676.5 384.05L674.95 385.6L673.4 384.05L674.95 382.5L673.4 380.95Z"/>
<path d="M687.95 379.4L689.5 380.95L691.05 379.4L692.6 380.95L691.05 382.5L692.6 384.05L691.05 385.6L689.5 384.05L687.95 385.6L686.4 384.05L687.95 382.5L686.4 380.95Z"/>
<path d="M701.95 379.4L703.5 380.95L705.05 379.4L706.6 380.95L705.05 382.5L706.6 384.05L705.05 385.6L703.5 384.05L701.95 385.6L700.4 384.05L701.95 382.5L700.4 380.95Z"/>
<path d="M714.95 379.4L716.5 380.95L718.05 379.4L719.6 380.95L718.05 382.5L719.6 384.05L718.05 385.6L716.5 384.05L714.95 385.6L713.4 384.05L714.95 382.5L713.4 380.95Z"/>
<path d="M728.95 379.4L730.5 380.95L732.05 379.4L733.6 380.95L732.05 382.5L733.6 384.05L732.05 385.6L730.5 384.05L728.95 385.6L727.4 384.05L728.95 382.5L727.4 380.95Z"/>
<path d="M741.95 379.4L743.5 380.95L745.05 379.4L746.6 380.95L745.05 382.5L746.6 384.05L745.05 385.6L743.5 384.05L741.95 385.6L740.4 384.05L741.95 382.5L740.4 380.95Z"/>
<path d="M754.95 379.4L756.5 380.95L758.05 379.4L759.6 380.95L758.05 382.5L759.6 384.05L758.05 385.6L756.5 384.05L754.95 385.6L753.4 384.05L754.95 382.5L753.4 380.95Z"/>
</g></g>
<g stroke="#00bfbf" fill="#00bfbf">
<polyline fill="none" stroke-width="1.75" stroke-linejoin="round" stroke-dasharray="1.67 2.75" points="71.52,382.32 84.96,382.32 98.4,382.32 111.84,382.32 125.28,382.32 138.72,382.32 152.16,382.32 165.6,382.32 179.04,382.32 192.48,382.32 205.92,382.32 219.36,376.23 232.8,371.94 246.24,378.3 259.68,380.24 273.12,371.52 286.56,379.83 300,378.3 313.44,377.34 326.88,379 340.32,375.67 353.76,376.23 367.2,378.17 380.64,378.86 394.08,378.58 407.52,376.92 420.96,378.03 434.4,378.44 447.84,377.75 461.28,379.27 474.72,379.69 488.16,376.64 501.6,377.34 515.04,378.03 528.48,379 541.92,382.32 555.36,382.32 568.8,382.32 582.24,382.32 595.68,382.32 609.12,382.32 622.56,382.32 636,382.32 649.44,382.32 662.88,382.32 676.32,382.32 689.76,382.32 703.2,382.32 716.64,382.32 730.08,382.32 743.52,382.32 756.96,382.32"/>
<g stroke-width="0.9" stroke-linejoin="miter">
<path d="M69.95 379.4L71.5 380.95L73.05 379.4L74.6 380.95L73.05 382.5L74.6 384.05L73.05 385.6L71.5 384.05L69.95 385.6L68.4 384.05L69.95 382.5L68.4 380.95Z"/>
<path d="M82.95 379.4L84.5 380.95L86.05 379.4L87.6 380.95L86.05 382.5L87.6 384.05L86.05 385.6L84.5 384.05L82.95 385.6L81.4 384.05L82.95 382.5L81.4 380.95Z"/>
<path d="M96.95 379.4L98.5 380.95L100.05 379.4L101.6 380.95L100.05 382.5L101.6 384.05L100.05 385.6L98.5 384.05L96.95 385.6L95.4 384.05L96.95 382.5L95.4 380.95Z"/>
<path d="M109.95 379.4L111.5 380.95L113.05 379.4L114.6 380.95L113.05 382.5L114.6 384.05L113.05 385.6L111.5 384.05L109.95 385.6L108.4 384.05L109.95 382.5L108.4 380.95Z"/>
<path d="M123.95 379.4L125.5 380.95L127.05 379.4L128.6 380.95L127.05 382.5L128.6 384.05L127.05 385.6L125.5 384.05L123.95 385.6L122.4 384.05L123.95 382.5L122.4 380.95Z"/>
<path d="M136.95 379.4L138.5 380.95L140.05 379.4L141.6 380.95L140.05 382.5L141.6 384.05L140.05 385.6L138.5 384.05L136.95 385.6L135.4 384.05L136.95 382.5L135.4 380.95Z"/>
<path d="M150.95 379.4L152.5 380.95L154.05 379.4L155.6 380.95L154.05 382.5L155.6 384.05L154.05 385.6L152.5 384.05L150.95 385.6L149.4 384.05L150.95 382.5L149.4 380.95Z"/>
<path d="M163.95 379.4L165.5 380.95L167.05 379.4L168.6 380.95L167.05 382.5L168.6 384.05L167.05 385.6L165.5 384.05L163.95 385.6L162.4 384.05L163.95 382.5L162.4 380.95Z"/>
<path d="M177.95 379.4L179.5 380.95L181.05 379.4L182.6 380.95L181.05 382.5L182.6 384.05L181.05 385.6L179.5 384.05L177.95 385.6L176.4 384.05L177.95 382.5L176.4 380.95Z"/>
<path d="M190.95 379.4L192.5 380.95L194.05 379.4L195.6 380.95L194.05 382.5L195.6 384.05L194.05 385.6L192.5 384.05L190.95 385.6L189.4 384.05L190.95 382.5L189.4 380.95Z"/>
<path d="M203.95 379.4L205.5 380.95L207.05 379.4L208.6 380.95L207.05 382.5L208.6 384.05L207.05 385.6L205.5 384.05L203.95 385.6L202.4 384.05L203.95 382.5L202.4 380.95Z"/>
<path d="M217.95 373.4L219.5 374.95L221.05 373.4L222.6 374.95L221.05 376.5L222.6 378.05L221.05 379.6L219.5 378.05L217.95 379.6L216.4 378.05L217.95 376.5L216.4 374.95Z"/>
<path d="M230.95 368.4L232.5 369.95L234.05 368.4L235.6 369.95L234.05 371.5L235.6 373.05L234.05 374.6L232.5 373.05L230.95 374.6L229.4 373.05L230.95 371.5L229.4 369.95Z"/>
<path d="M244.95 375.4L246.5 376.95L248.05 375.4L249.6 376.95L248.05 378.5L249.6 380.05L248.05 381.6L246.5 380.05L244.95 381.6L243.4 380.05L244.95 378.5L243.4 376.95Z"/>
<path d="M257.95 377.4L259.5 378.95L261.05 377.4L262.6 378.95L261.05 380.5L262.6 382.05L261.05 383.6L259.5 382.05L257.95 383.6L256.4 382.05L257.95 380.5L256.4 378.95Z"/>
<path d="M271.95 368.4L273.5 369.95L275.05 368.4L276.6 369.95L275.05 371.5L276.6 373.05L275.05 374.6L273.5 373.05L271.95 374.6L270.4 373.05L271.95 371.5L270.4 369.95Z"/>
<path d="M284.95 376.4L286.5 377.95L288.05 376.4L289.6 377.95L288.05 379.5L289.6 381.05L288.05 382.6L286.5 381.05L284.95 382.6L283.4 381.05L284.95 379.5L283.4 377.95Z"/>
<path d="M298.95 375.4L300.5 376.95L302.05 375.4L303.6 376.95L302.05 378.5L303.6 380.05L302.05 381.6L300.5 380.05L298.95 381.6L297.4 380.05L298.95 378.5L297.4 376.95Z"/>
<path d="M311.95 374.4L313.5 375.95L315.05 374.4L316.6 375.95L315.05 377.5L316.6 379.05L315.05 380.6L313.5 379.05L311.95 380.6L310.4 379.05L311.95 377.5L310.4 375.95Z"/>
<path d="M324.95 375.4L326.5 376.95L328.05 375.4L329.6 376.95L328.05 378.5L329.6 380.05L328.05 381.6L326.5 380.05L324.95 381.6L323.4 380.05L324.95 378.5L323.4 376.95Z"/>
<path d="M338.95 372.4L340.5 373.95L342.05 372.4L343.6 373.95L342.05 375.5L343.6 377.05L342.05 378.6L340.5 377.05L338.95 378.6L337.4 377.05L338.95 375.5L337.4 373.95Z"/>
<path d="M351.95 373.4L353.5 374.95L355.05 373.4L356.6 374.95L355.05 376.5L356.6 378.05L355.05 379.6L353.5 378.05L351.95 379.6L350.4 378.05L351.95 376.5L350.4 374.95Z"/>
<path d="M365.95 375.4L367.5 376.95L369.05 375.4L370.6 376.95L369.05 378.5L370.6 380.05L369.05 381.6L367.5 380.05L365.95 381.6L364.4 380.05L365.95 378.5L364.4 376.95Z"/>
<path d="M378.95 375.4L380.5 376.95L382.05 375.4L383.6 376.95L382.05 378.5L383.6 380.05L382.05 381.6L380.5 380.05L378.95 381.6L377.4 380.05L378.95 378.5L377.4 376.95Z"/>
<path d="M392.95 375.4L394.5 376.95L396.05 375.4L397.6 376.95L396.05 378.5L397.6 380.05L396.05 381.6L394.5 380.05L392.95 381.6L391.4 380.05L392.95 378.5L391.4 376.95Z"/>
<path d="M405.95 373.4L407.5 374.95L409.05 373.4L410.6 374.95L409.05 376.5L410.6 378.05L409.05 379.6L407.5 378.05L405.95 379.6L404.4 378.05L405.95 376.5L404.4 374.95Z"/>
<path d="M418.95 375.4L420.5 376.95L422.05 375.4L423.6 376.95L422.05 378.5L423.6 380.05L422.05 381.6L420.5 380.05L418.95 381.6L417.4 380.05L418.95 378.5L417.4 376.95Z"/>
<path d="M432.95 375.4L434.5 376.95L436.05 375.4L437.6 376.95L436.05 378.5L437.6 380.05L436.05 381.6L434.5 380.05L432.95 381.6L431.4 380.05L432.95 378.5L431.4 376.95Z"/>
<path d="M445.95 374.4L447.5 375.95L449.05 374.4L450.6 375.95L449.05 377.5L450.6 379.05L449.05 380.6L447.5 379.05L445.95 380.6L444.4 379.05L445.95 377.5L444.4 375.95Z"/>
<path d="M459.95 376.4L461.5 377.95L463.05 376.4L464.6 377.95L463.05 379.5L464.6 381.05L463.05 382.6L461.5 381.05L459.95 382.6L458.4 381.05L459.95 379.5L458.4 377.95Z"/>
<path d="M472.95 376.4L474.5 377.95L476.05 376.4L477.6 377.95L476.05 379.5L477.6 381.05L476.05 382.6L474.5 381.05L472.95 382.6L471.4 381.05L472.95 379.5L471.4 377.95Z"/>
<path d="M486.95 373.4L488.5 374.95L490.05 373.4L491.6 374.95L490.05 376.5L491.6 378.05L490.05 379.6L488.5 378.05L486.95 379.6L485.4 378.05L486.95 376.5L485.4 374.95Z"/>
<path d="M499.95 374.4L501.5 375.95L503.05 374.4L504.6 375.95L503.05 377.5L504.6 379.05L503.05 380.6L501.5 379.05L499.95 380.6L498.4 379.05L499.95 377.5L498.4 375.95Z"/>
<path d="M513.95 375.4L515.5 376.95L517.05 375.4L518.6 376.95L517.05 378.5L518.6 380.05L517.05 381.6L515.5 380.05L513.95 381.6L512.4 380.05L513.95 378.5L512.4 376.95Z"/>
<path d="M526.95 375.4L528.5 376.95L530.05 375.4L531.6 376.95L530.05 378.5L531.6 380.05L530.05 381.6L528.5 380.05L526.95 381.6L525.4 380.05L526.95 378.5L525.4 376.95Z"/>
<path d="M539.95 379.4L541.5 380.95L543.05 379.4L544.6 380.95L543.05 382.5L544.6 384.05L543.05 385.6L541.5 384.05L539.95 385.6L538.4 384.05L539.95 382.5L538.4 380.95Z"/>
<path d="M553.95 379.4L555.5 380.95L557.05 379.4L558.6 380.95L557.05 382.5L558.6 384.05L557.05 385.6L555.5 384.05L553.95 385.6L552.4 384.05L553.95 382.5L552.4 380.95Z"/>
<path d="M566.95 379.4L568.5 380.95L570.05 379.4L571.6 380.95L570.05 382.5L571.6 384.05L570.05 385.6L568.5 384.05L566.95 385.6L565.4 384.05L566.95 382.5L565.4 380.95Z"/>
<path d="M580.95 379.4L582.5 380.95L584.05 379.4L585.6 380.95L584.05 382.5L585.6 384.05L584.05 385.6L582.5 384.05L580.95 385.6L579.4 384.05L580.95 382.5L579.4 380.95Z"/>
<path d="M593.95 379.4L595.5 380.95L597.05 379.4L598.6 380.95L597.05 382.5L598.6 384.05L597.05 385.6L595.5 384.05L593.95 385.6L592.4 384.05L593.95 382.5L592.4 380.95Z"/>
<path d="M607.95 379.4L609.5 380.95L611.05 379.4L612.6 380.95L611.05 382.5L612.6 384.05L611.05 385.6L609.5 384.05L607.95 385.6L606.4 384.05L607.95 382.5L606.4 380.95Z"/>
<path d="M620.95 379.4L622.5 380.95L624.05 379.4L625.6 380.95L624.05 382.5L625.6 384.05L624.05 385.6L622.5 384.05L620.95 385.6L619.4 384.05L620.95 382.5L619.4 380.95Z"/>
<path d="M634.95 379.4L636.5 380.95L638.05 379.4L639.6 380.95L638.05 382.5L639.6 384.05L638.05 385.6L636.5 384.05L634.95 385.6L633.4 384.05L634.95 382.5L633.4 380.95Z"/>
<path d="M647.95 379.4L649.5 380.95L651.05 379.4L652.6 380.95L651.05 382.5L652.6 384.05L651.05 385.6L649.5 384.05L647.95 385.6L646.4 384.05L647.95 382.5L646.4 380.95Z"/>
<path d="M660.95 379.4L662.5 380.95L664.05 379.4L665.6 380.95L664.05 382.5L665.6 384.05L664.05 385.6L662.5 384.05L660.95 385.6L659.4 384.05L660.95 382.5L659.4 380.95Z"/>
<path d="M674.95 379.4L676.5 380.95L678.05 379.4L679.6 380.95L678.05 382.5L679.6 384.05L678.05 385.6L676.5 384.05L674.95 385.6L673.4 384.05L674.95 382.5L673.4 380.95Z"/>
<path d="M687.95 379.4L689.5 380.95L691.05 379.4L692.6 380.95L691.05 382.5L692.6 384.05L691.05 385.6L689.5 384.05L687.95 385.6L686.4 384.05L687.95 382.5L686.4 380.95Z"/>
<path d="M701.95 379.4L703.5 380.95L705.05 379.4L706.6 380.95L705.05 382.5L706.6 384.05L705.05 385.6L703.5 384.05L701.95 385.6L700.4 384.05L701.95 382.5L700.4 380.95Z"/>
<path d="M714.95 379.4L716.5 380.95L718.05 379.4L719.6 380.95L718.05 382.5L719.6 384.05L718.05 385.6L716.5 384.05L714.95 385.6L713.4 384.05L714.95 382.5L713.4 380.95Z"/>
<path d="M728.95 379.4L730.5 380.95L732.05 379.4L733.6 380.95L732.05 382.5L733.6 384.05L732.05 385.6L730.5 384.05L728.95 385.6L727.4 384.05L728.95 382.5L727.4 380.95Z"/>
<path d="M741.95 379.4L743.5 380.95L745.05 379.4L746.6 380.95L745.05 382.5L746.6 384.05L745.05 385.6L743.5 384.05L741.95 385.6L740.4 384.05L741.95 382.5L740.4 380.95Z"/>
<path d="M754.95 379.4L756.5 380.95L758.05 379.4L759.6 380.95L758.05 382.5L759.6 384.05L758.05 385.6L756.5 384.05L754.95 385.6L753.4 384.05L754.95 382.5L753.4 380.95Z"/>
</g></g>
<g stroke="#bf00bf" fill="#bf00bf">
<polyline fill="none" stroke-width="1.75" stroke-linejoin="round" stroke-dasharray="1.67 2.75" points="71.52,382.32 84.96,382.32 98.4,382.32 111.84,382.32 125.28,382.32 138.72,382.32 152.16,382.32 165.6,382.32 179.04,382.32 192.48,382.32 205.92,382.32 219.36,380.52 232.8,379 246.24,381.49 259.68,380.8 273.12,373.04 286.56,381.21 300,381.35 313.44,379.41 326.88,374.01 340.32,379.55 353.76,379.27 367.2,380.52 380.64,380.52 394.08,379.97 407.52,380.1 420.96,381.21 434.4,380.94 447.84,374.43 461.28,380.94 474.72,381.07 488.16,380.94 501.6,380.24 515.04,381.35 528.48,381.07 541.92,382.32 555.36,382.32 568.8,382.32 582.24,382.32 595.68,382.32 609.12,382.32 622.56,382.32 636,382.32 649.44,382.32 662.88,382.32 676.32,382.32 689.76,382.32 703.2,382.32 716.64,382.32 730.08,382.32 743.52,382.32 756.96,382.32"/>
<g stroke-width="0.9" stroke-linejoin="miter">
<path d="M69.95 379.4L71.5 380.95L73.05 379.4L74.6 380.95L73.05 382.5L74.6 384.05L73.05 385.6L71.5 384.05L69.95 385.6L68.4 384.05L69.95 382.5L68.4 380.95Z"/>
<path d="M82.95 379.4L84.5 380.95L86.05 379.4L87.6 380.95L86.05 382.5L87.6 384.05L86.05 385.6L84.5 384.05L82.95 385.6L81.4 384.05L82.95 382.5L81.4 380.95Z"/>
<path d="M96.95 379.4L98.5 380.95L100.05 379.4L101.6 380.95L100.05 382.5L101.6 384.05L100.05 385.6L98.5 384.05L96.95 385.6L95.4 384.05L96.95 382.5L95.4 380.95Z"/>
<path d="M109.95 379.4L111.5 380.95L113.05 379.4L114.6 380.95L113.05 382.5L114.6 384.05L113.05 385.6L111.5 384.05L109.95 385.6L108.4 384.05L109.95 382.5L108.4 380.95Z"/>
<path d="M123.95 379.4L125.5 380.95L127.05 379.4L128.6 380.95L127.05 382.5L128.6 384.05L127.05 385.6L125.5 384.05L123.95 385.6L122.4 384.05L123.95 382.5L122.4 380.95Z"/>
<path d="M136.95 379.4L138.5 380.95L140.05 379.4L141.6 380.95L140.05 382.5L141.6 384.05L140.05 385.6L138.5 384.05L136.95 385.6L135.4 384.05L136.95 382.5L135.4 380.95Z"/>
<path d="M150.95 379.4L152.5 380.95L154.05 379.4L155.6 380.95L154.05 382.5L155.6 384.05L154.05 385.6L152.5 384.05L150.95 385.6L149.4 384.05L150.95 382.5L149.4 380.95Z"/>
<path d="M163.95 379.4L165.5 380.95L167.05 379.4L168.6 380.95L167.05 382.5L168.6 384.05L167.05 385.6L165.5 384.05L163.95 385.6L162.4 384.05L163.95 382.5L162.4 380.95Z"/>
<path d="M177.95 379.4L179.5 380.95L181.05 379.4L182.6 380.95L181.05 382.5L182.6 384.05L181.05 385.6L179.5 384.05L177.95 385.6L176.4 384.05L177.95 382.5L176.4 380.95Z"/>
<path d="M190.95 379.4L192.5 380.95L194.05 379.4L195.6 380.95L194.05 382.5L195.6 384.05L194.05 385.6L192.5 384.05L190.95 385.6L189.4 384.05L190.95 382.5L189.4 380.95Z"/>
<path d="M203.95 379.4L205.5 380.95L207.05 379.4L208.6 380.95L207.05 382.5L208.6 384.05L207.05 385.6L205.5 384.05L203.95 385.6L202.4 384.05L203.95 382.5L202.4 380.95Z"/>
<path d="M217.95 377.4L219.5 378.95L221.05 377.4L222.6 378.95L221.05 380.5L222.6 382.05L221.05 383.6L219.5 382.05L217.95 383.6L216.4 382.05L217.95 380.5L216.4 378.95Z"/>
<path d="M230.95 375.4L232.5 376.95L234.05 375.4L235.6 376.95L234.05 378.5L235.6 380.05L234.05 381.6L232.5 380.05L230.95 381.6L229.4 380.05L230.95 378.5L229.4 376.95Z"/>
<path d="M244.95 378.4L246.5 379.95L248.05 378.4L249.6 379.95L248.05 381.5L249.6 383.05L248.05 384.6L246.5 383.05L244.95 384.6L243.4 383.05L244.95 381.5L243.4 379.95Z"/>
<path d="M257.95 377.4L259.5 378.95L261.05 377.4L262.6 378.95L261.05 380.5L262.6 382.05L261.05 383.6L259.5 382.05L257.95 383.6L256.4 382.05L257.95 380.5L256.4 378.95Z"/>
<path d="M271.95 370.4L273.5 371.95L275.05 370.4L276.6 371.95L275.05 373.5L276.6 375.05L275.05 376.6L273.5 375.05L271.95 376.6L270.4 375.05L271.95 373.5L270.4 371.95Z"/>
<path d="M284.95 378.4L286.5 379.95L288.05 378.4L289.6 379.95L288.05 381.5L289.6 383.05L288.05 384.6L286.5 383.05L284.95 384.6L283.4 383.05L284.95 381.5L283.4 379.95Z"/>
<path d="M298.95 378.4L300.5 379.95L302.05 378.4L303.6 379.95L302.05 381.5L303.6 383.05L302.05 384.6L300.5 383.05L298.95 384.6L297.4 383.05L298.95 381.5L297.4 379.95Z"/>
<path d="M311.95 376.4L313.5 377.95L315.05 376.4L316.6 377.95L315.05 379.5L316.6 381.05L315.05 382.6L313.5 381.05L311.95 382.6L310.4 381.05L311.95 379.5L310.4 377.95Z"/>
<path d="M324.95 371.4L326.5 372.95L328.05 371.4L329.6 372.95L328.05 374.5L329.6 376.05L328.05 377.6L326.5 376.05L324.95 377.6L323.4 376.05L324.95 374.5L323.4 372.95Z"/>
<path d="M338.95 376.4L340.5 377.95L342.05 376.4L343.6 377.95L342.05 379.5L343.6 381.05L342.05 382.6L340.5 381.05L338.95 382.6L337.4 381.05L338.95 379.5L337.4 377.95Z"/>
<path d="M351.95 376.4L353.5 377.95L355.05 376.4L356.6 377.95L355.05 379.5L356.6 381.05L355.05 382.6L353.5 381.05L351.95 382.6L350.4 381.05L351.95 379.5L350.4 377.95Z"/>
<path d="M365.95 377.4L367.5 378.95L369.05 377.4L370.6 378.95L369.05 380.5L370.6 382.05L369.05 383.6L367.5 382.05L365.95 383.6L364.4 382.05L365.95 380.5L364.4 378.95Z"/>
<path d="M378.95 377.4L380.5 378.95L382.05 377.4L383.6 378.95L382.05 380.5L383.6 382.05L382.05 383.6L380.5 382.05L378.95 383.6L377.4 382.05L378.95 380.5L377.4 378.95Z"/>
<path d="M392.95 376.4L394.5 377.95L396.05 376.4L397.6 377.95L396.05 379.5L397.6 381.05L396.05 382.6L394.5 381.05L392.95 382.6L391.4 381.05L392.95 379.5L391.4 377.95Z"/>
<path d="M405.95 377.4L407.5 378.95L409.05 377.4L410.6 378.95L409.05 380.5L410.6 382.05L409.05 383.6L407.5 382.05L405.95 383.6L404.4 382.05L405.95 380.5L404.4 378.95Z"/>
<path d="M418.95 378.4L420.5 379.95L422.05 378.4L423.6 379.95L422.05 381.5L423.6 383.05L422.05 384.6L420.5 383.05L418.95 384.6L417.4 383.05L418.95 381.5L417.4 379.95Z"/>
<path d="M432.95 377.4L434.5 378.95L436.05 377.4L437.6 378.95L436.05 380.5L437.6 382.05L436.05 383.6L434.5 382.05L432.95 383.6L431.4 382.05L432.95 380.5L431.4 378.95Z"/>
<path d="M445.95 371.4L447.5 372.95L449.05 371.4L450.6 372.95L449.05 374.5L450.6 376.05L449.05 377.6L447.5 376.05L445.95 377.6L444.4 376.05L445.95 374.5L444.4 372.95Z"/>
<path d="M459.95 377.4L461.5 378.95L463.05 377.4L464.6 378.95L463.05 380.5L464.6 382.05L463.05 383.6L461.5 382.05L459.95 383.6L458.4 382.05L459.95 380.5L458.4 378.95Z"/>
<path d="M472.95 378.4L474.5 379.95L476.05 378.4L477.6 379.95L476.05 381.5L477.6 383.05L476.05 384.6L474.5 383.05L472.95 384.6L471.4 383.05L472.95 381.5L471.4 379.95Z"/>
<path d="M486.95 377.4L488.5 378.95L490.05 377.4L491.6 378.95L490.05 380.5L491.6 382.05L490.05 383.6L488.5 382.05L486.95 383.6L485.4 382.05L486.95 380.5L485.4 378.95Z"/>
<path d="M499.95 377.4L501.5 378.95L503.05 377.4L504.6 378.95L503.05 380.5L504.6 382.05L503.05 383.6L501.5 382.05L499.95 383.6L498.4 382.05L499.95 380.5L498.4 378.95Z"/>
<path d="M513.95 378.4L515.5 379.95L517.05 378.4L518.6 379.95L517.05 381.5L518.6 383.05L517.05 384.6L515.5 383.05L513.95 384.6L512.4 383.05L513.95 381.5L512.4 379.95Z"/>
<path d="M526.95 378.4L528.5 379.95L530.05 378.4L531.6 379.95L530.05 381.5L531.6 383.05L530.05 384.6L528.5 383.05L526.95 384.6L525.4 383.05L526.95 381.5L525.4 379.95Z"/>
<path d="M539.95 379.4L541.5 380.95L543.05 379.4L544.6 380.95L543.05 382.5L544.6 384.05L543.05 385.6L541.5 384.05L539.95 385.6L538.4 384.05L539.95 382.5L538.4 380.95Z"/>
<path d="M553.95 379.4L555.5 380.95L557.05 379.4L558.6 380.95L557.05 382.5L558.6 384.05L557.05 385.6L555.5 384.05L553.95 385.6L552.4 384.05L553.95 382.5L552.4 380.95Z"/>
<path d="M566.95 379.4L568.5 380.95L570.05 379.4L571.6 380.95L570.05 382.5L571.6 384.05L570.05 385.6L568.5 384.05L566.95 385.6L565.4 384.05L566.95 382.5L565.4 380.95Z"/>
<path d="M580.95 379.4L582.5 380.95L584.05 379.4L585.6 380.95L584.05 382.5L585.6 384.05L584.05 385.6L582.5 384.05L580.95 385.6L579.4 384.05L580.95 382.5L579.4 380.95Z"/>
<path d="M593.95 379.4L595.5 380.95L597.05 379.4L598.6 380.95L597.05 382.5L598.6 384.05L597.05 385.6L595.5 384.05L593.95 385.6L592.4 384.05L593.95 382.5L592.4 380.95Z"/>
<path d="M607.95 379.4L609.5 380.95L611.05 379.4L612.6 380.95L611.05 382.5L612.6 384.05L611.05 385.6L609.5 384.05L607.95 385.6L606.4 384.05L607.95 382.5L606.4 380.95Z"/>
<path d="M620.95 379.4L622.5 380.95L624.05 379.4L625.6 380.95L624.05 382.5L625.6 384.05L624.05 385.6L622.5 384.05L620.95 385.6L619.4 384.05L620.95 382.5L619.4 380.95Z"/>
<path d="M634.95 379.4L636.5 380.95L638.05 379.4L639.6 380.95L638.05 382.5L639.6 384.05L638.05 385.6L636.5 384.05L634.95 385.6L633.4 384.05L634.95 382.5L633.4 380.95Z"/>
<path d="M647.95 379.4L649.5 380.95L651.05 379.4L652.6 380.95L651.05 382.5L652.6 384.05L651.05 385.6L649.5 384.05L647.95 385.6L646.4 384.05L647.95 382.5L646.4 380.95Z"/>
<path d="M660.95 379.4L662.5 380.95L664.05 379.4L665.6 380.95L664.05 382.5L665.6 384.05L664.05 385.6L662.5 384.05L660.95 385.6L659.4 384.05L660.95 382.5L659.4 380.95Z"/>
<path d="M674.95 379.4L676.5 380.95L678.05 379.4L679.6 380.95L678.05 382.5L679.6 384.05L678.05 385.6L676.5 384.05L674.95 385.6L673.4 384.05L674.95 382.5L673.4 380.95Z"/>
<path d="M687.95 379.4L689.5 380.95L691.05 379.4L692.6 380.95L691.05 382.5L692.6 384.05L691.05 385.6L689.5 384.05L687.95 385.6L686.4 384.05L687.95 382.5L686.4 380.95Z"/>
<path d="M701.95 379.4L703.5 380.95L705.05 379.4L706.6 380.95L705.05 382.5L706.6 384.05L705.05 385.6L703.5 384.05L701.95 385.6L700.4 384.05L701.95 382.5L700.4 380.95Z"/>
<path d="M714.95 379.4L716.5 380.95L718.05 379.4L719.6 380.95L718.05 382.5L719.6 384.05L718.05 385.6L716.5 384.05L714.95 385.6L713.4 384.05L714.95 382.5L713.4 380.95Z"/>
<path d="M728.95 379.4L730.5 380.95L732.05 379.4L733.6 380.95L732.05 382.5L733.6 384.05L732.05 385.6L730.5 384.05L728.95 385.6L727.4 384.05L728.95 382.5L727.4 380.95Z"/>
<path d="M741.95 379.4L743.5 380.95L745.05 379.4L746.6 380.95L745.05 382.5L746.6 384.05L745.05 385.6L743.5 384.05L741.95 385.6L740.4 384.05L741.95 382.5L740.4 380.95Z"/>
<path d="M754.95 379.4L756.5 380.95L758.05 379.4L759.6 380.95L758.05 382.5L759.6 384.05L758.05 385.6L756.5 384.05L754.95 385.6L753.4 384.05L754.95 382.5L753.4 380.95Z"/>
</g></g>
</g>
<path d="M61.5 52V390M760.5 52V390M61 52.5H761M61 389.5H761" stroke="#3a3a3a" stroke-width="1" fill="none"/>
<path d="M61.5 390V392.6M88.5 390V392.6M121.5 390V392.6M148.5 390V392.6M175.5 390V392.6M202.5 390V392.6M234.5 390V392.6M261.5 390V392.6M292.5 390V392.6M319.5 390V392.6M351.5 390V392.6M378.5 390V392.6M409.5 390V392.6M436.5 390V392.6M468.5 390V392.6M495.5 390V392.6M528.5 390V392.6M555.5 390V392.6M586.5 390V392.6M612.5 390V392.6M645.5 390V392.6M672.5 390V392.6M703.5 390V392.6M730.5 390V392.6M58.3 382.5H61M58.3 313.5H61M58.3 244.5H61M58.3 175.5H61M58.3 105.5H61" stroke="#3a3a3a" stroke-width="1" fill="none"/>
<g font-size="13.89px" fill="#000">
<text x="56" y="387.52" text-anchor="end">0</text>
<text x="56" y="318.29" text-anchor="end">5</text>
<text x="56" y="249.06" text-anchor="end">10</text>
<text x="56" y="179.83" text-anchor="end">15</text>
<text x="56" y="110.6" text-anchor="end">20</text>
<text transform="translate(59.54,404.3) rotate(-30)" text-anchor="end">1 Jan</text>
<text transform="translate(86.42,404.3) rotate(-30)" text-anchor="end">15 Jan</text>
<text transform="translate(119.06,404.3) rotate(-30)" text-anchor="end">1 Feb</text>
<text transform="translate(145.94,404.3) rotate(-30)" text-anchor="end">15 Feb</text>
<text transform="translate(172.82,404.3) rotate(-30)" text-anchor="end">1 Mar</text>
<text transform="translate(199.7,404.3) rotate(-30)" text-anchor="end">15 Mar</text>
<text transform="translate(232.34,404.3) rotate(-30)" text-anchor="end">1 Apr</text>
<text transform="translate(259.22,404.3) rotate(-30)" text-anchor="end">15 Apr</text>
<text transform="translate(289.94,404.3) rotate(-30)" text-anchor="end">1 May</text>
<text transform="translate(316.82,404.3) rotate(-30)" text-anchor="end">15 May</text>
<text transform="translate(349.46,404.3) rotate(-30)" text-anchor="end">1 Jun</text>
<text transform="translate(376.34,404.3) rotate(-30)" text-anchor="end">15 Jun</text>
<text transform="translate(407.06,404.3) rotate(-30)" text-anchor="end">1 Jul</text>
<text transform="translate(433.94,404.3) rotate(-30)" text-anchor="end">15 Jul</text>
<text transform="translate(466.58,404.3) rotate(-30)" text-anchor="end">1 Aug</text>
<text transform="translate(493.46,404.3) rotate(-30)" text-anchor="end">15 Aug</text>
<text transform="translate(526.1,404.3) rotate(-30)" text-anchor="end">1 Sep</text>
<text transform="translate(552.98,404.3) rotate(-30)" text-anchor="end">15 Sep</text>
<text transform="translate(583.7,404.3) rotate(-30)" text-anchor="end">1 Oct</text>
<text transform="translate(610.58,404.3) rotate(-30)" text-anchor="end">15 Oct</text>
<text transform="translate(643.22,404.3) rotate(-30)" text-anchor="end">1 Nov</text>
<text transform="translate(670.1,404.3) rotate(-30)" text-anchor="end">15 Nov</text>
<text transform="translate(700.82,404.3) rotate(-30)" text-anchor="end">1 Dec</text>
<text transform="translate(727.7,404.3) rotate(-30)" text-anchor="end">15 Dec</text>
</g>
<text transform="translate(29.8,221.7) rotate(-90)" text-anchor="middle" font-size="16.67px">Mean number of XC flights per week</text>
<text x="384.3" y="16" text-anchor="middle" font-size="16.67px" font-weight="bold">Where do paragliding XC flights start in Austria?</text>
<text x="383.9" y="35.9" text-anchor="middle" font-size="11.7px">Mean number of XC flights (&gt;100 pts) per week per takeoff (5 km cluster). 10-year average (2015-2024).</text>
<text x="384.3" y="50.5" text-anchor="middle" font-size="11.7px">Data source: Xcontest. For more paragliding analysis visit www.noga.es/paragliding © 2025 Rafał Noga</text>
<rect x="651.5" y="56.5" width="105" height="319" rx="1.6" ry="1.6" fill="#fff" fill-opacity="0.8" stroke="#ccc" stroke-opacity="0.8" stroke-width="1"/>
<g stroke="#000000" fill="#000000"><path d="M653.9 63H686.9" fill="none" stroke-width="1.75" stroke-linecap="square"/><g stroke-width="0.56"><path d="M671.5 58.41L676.59 63.5L671.5 68.59L666.41 63.5Z"/></g></g>
<text x="692.8" y="66.1" font-size="8.5px" textLength="37.42" lengthAdjust="spacingAndGlyphs">Bischling</text>
<g stroke="#ff0000" fill="#ff0000"><path d="M653.9 77H686.9" fill="none" stroke-width="1.75" stroke-linecap="square"/><g stroke-width="0.56"><path d="M671.5 72.41L676.59 77.5L671.5 82.59L666.41 77.5Z"/></g></g>
<text x="692.8" y="80.1" font-size="8.5px" textLength="59.68" lengthAdjust="spacingAndGlyphs">Emberger Alm</text>
<g stroke="#008000" fill="#008000"><path d="M653.9 90H686.9" fill="none" stroke-width="1.75" stroke-linecap="square"/><g stroke-width="0.56"><path d="M671.5 85.41L676.59 90.5L671.5 95.59L666.41 90.5Z"/></g></g>
<text x="692.8" y="93.1" font-size="8.5px" textLength="33.65" lengthAdjust="spacingAndGlyphs">Ko?ssen</text>
<g stroke="#0000ff" fill="#0000ff"><path d="M653.9 103H686.9" fill="none" stroke-width="1.75" stroke-linecap="square"/><g stroke-width="0.56"><path d="M671.5 98.41L676.59 103.5L671.5 108.59L666.41 103.5Z"/></g></g>
<text x="692.8" y="106.1" font-size="8.5px" textLength="54.39" lengthAdjust="spacingAndGlyphs">Stoderzinken</text>
<g stroke="#00bfbf" fill="#00bfbf"><path d="M653.9 116H686.9" fill="none" stroke-width="1.75" stroke-linecap="square"/><g stroke-width="0.56"><path d="M671.5 111.41L676.59 116.5L671.5 121.59L666.41 116.5Z"/></g></g>
<text x="692.8" y="119.1" font-size="8.5px" textLength="36.38" lengthAdjust="spacingAndGlyphs">Scho?ckl</text>
<g stroke="#bf00bf" fill="#bf00bf"><path d="M653.9 129H686.9" fill="none" stroke-width="1.75" stroke-linecap="square"/><g stroke-width="0.56"><path d="M671.5 124.41L676.59 129.5L671.5 134.59L666.41 129.5Z"/></g></g>
<text x="692.8" y="132.1" font-size="8.5px" textLength="52.21" lengthAdjust="spacingAndGlyphs">Hinterstoder</text>
<g stroke="#000000" fill="#000000"><path d="M653.9 142H686.9" fill="none" stroke-width="1.75" stroke-dasharray="6.17 2.67"/><g stroke-width="0.56"><circle cx="671.5" cy="142.5" r="3.45"/></g></g>
<text x="692.8" y="145.1" font-size="8.5px" textLength="54.91" lengthAdjust="spacingAndGlyphs">Adler Lounge</text>
<g stroke="#ff0000" fill="#ff0000"><path d="M653.9 156H686.9" fill="none" stroke-width="1.75" stroke-dasharray="6.17 2.67"/><g stroke-width="0.56"><circle cx="671.5" cy="156.5" r="3.45"/></g></g>
<text x="692.8" y="159.1" font-size="8.5px" textLength="37.19" lengthAdjust="spacingAndGlyphs">Gaisberg</text>
<g stroke="#008000" fill="#008000"><path d="M653.9 169H686.9" fill="none" stroke-width="1.75" stroke-dasharray="6.17 2.67"/><g stroke-width="0.56"><circle cx="671.5" cy="169.5" r="3.45"/></g></g>
<text x="692.8" y="172.1" font-size="8.5px" textLength="47.17" lengthAdjust="spacingAndGlyphs">Hohe Salve</text>
<g stroke="#0000ff" fill="#0000ff"><path d="M653.9 182H686.9" fill="none" stroke-width="1.75" stroke-dasharray="6.17 2.67"/><g stroke-width="0.56"><circle cx="671.5" cy="182.5" r="3.45"/></g></g>
<text x="692.8" y="185.1" font-size="8.5px" textLength="36.33" lengthAdjust="spacingAndGlyphs">Ternberg</text>
<g stroke="#00bfbf" fill="#00bfbf"><path d="M653.9 195H686.9" fill="none" stroke-width="1.75" stroke-dasharray="6.17 2.67"/><g stroke-width="0.56"><circle cx="671.5" cy="195.5" r="3.45"/></g></g>
<text x="692.8" y="198.1" font-size="8.5px" textLength="48.94" lengthAdjust="spacingAndGlyphs">Defereggen</text>
<g stroke="#bf00bf" fill="#bf00bf"><path d="M653.9 208H686.9" fill="none" stroke-width="1.75" stroke-dasharray="6.17 2.67"/><g stroke-width="0.56"><circle cx="671.5" cy="208.5" r="3.45"/></g></g>
<text x="692.8" y="211.1" font-size="8.5px" textLength="39.94" lengthAdjust="spacingAndGlyphs">Seegrube</text>
<g stroke="#000000" fill="#000000"><path d="M653.9 221H686.9" fill="none" stroke-width="1.75" stroke-dasharray="10.67 2.67 1.67 2.67"/><g stroke-width="0.9"><path d="M670.47 218.4L672.53 218.4L672.53 220.47L674.6 220.47L674.6 222.53L672.53 222.53L672.53 224.6L670.47 224.6L670.47 222.53L668.4 222.53L668.4 220.47L670.47 220.47Z"/></g></g>
<text x="692.8" y="224.1" font-size="8.5px" textLength="31.88" lengthAdjust="spacingAndGlyphs">Zillertal</text>
<g stroke="#ff0000" fill="#ff0000"><path d="M653.9 235H686.9" fill="none" stroke-width="1.75" stroke-dasharray="10.67 2.67 1.67 2.67"/><g stroke-width="0.9"><path d="M670.47 232.4L672.53 232.4L672.53 234.47L674.6 234.47L674.6 236.53L672.53 236.53L672.53 238.6L670.47 238.6L670.47 236.53L668.4 236.53L668.4 234.47L670.47 234.47Z"/></g></g>
<text x="692.8" y="238.1" font-size="8.5px" textLength="50.46" lengthAdjust="spacingAndGlyphs">Schmitten...</text>
<g stroke="#008000" fill="#008000"><path d="M653.9 248H686.9" fill="none" stroke-width="1.75" stroke-dasharray="10.67 2.67 1.67 2.67"/><g stroke-width="0.9"><path d="M670.47 245.4L672.53 245.4L672.53 247.47L674.6 247.47L674.6 249.53L672.53 249.53L672.53 251.6L670.47 251.6L670.47 249.53L668.4 249.53L668.4 247.47L670.47 247.47Z"/></g></g>
<text x="692.8" y="251.1" font-size="8.5px" textLength="47.72" lengthAdjust="spacingAndGlyphs">Schlick20...</text>
<g stroke="#0000ff" fill="#0000ff"><path d="M653.9 261H686.9" fill="none" stroke-width="1.75" stroke-dasharray="10.67 2.67 1.67 2.67"/><g stroke-width="0.9"><path d="M670.47 258.4L672.53 258.4L672.53 260.47L674.6 260.47L674.6 262.53L672.53 262.53L672.53 264.6L670.47 264.6L670.47 262.53L668.4 262.53L668.4 260.47L670.47 260.47Z"/></g></g>
<text x="692.8" y="264.1" font-size="8.5px" textLength="55.3" lengthAdjust="spacingAndGlyphs">Stubnerkogel</text>
<g stroke="#00bfbf" fill="#00bfbf"><path d="M653.9 274H686.9" fill="none" stroke-width="1.75" stroke-dasharray="10.67 2.67 1.67 2.67"/><g stroke-width="0.9"><path d="M670.47 271.4L672.53 271.4L672.53 273.47L674.6 273.47L674.6 275.53L672.53 275.53L672.53 277.6L670.47 277.6L670.47 275.53L668.4 275.53L668.4 273.47L670.47 273.47Z"/></g></g>
<text x="692.8" y="277.1" font-size="8.5px" textLength="37.68" lengthAdjust="spacingAndGlyphs">Gerlitzen</text>
<g stroke="#bf00bf" fill="#bf00bf"><path d="M653.9 287H686.9" fill="none" stroke-width="1.75" stroke-dasharray="10.67 2.67 1.67 2.67"/><g stroke-width="0.9"><path d="M670.47 284.4L672.53 284.4L672.53 286.47L674.6 286.47L674.6 288.53L672.53 288.53L672.53 290.6L670.47 290.6L670.47 288.53L668.4 288.53L668.4 286.47L670.47 286.47Z"/></g></g>
<text x="692.8" y="290.1" font-size="8.5px" textLength="38.49" lengthAdjust="spacingAndGlyphs">Hochjoch</text>
<g stroke="#000000" fill="#000000"><path d="M653.9 300H686.9" fill="none" stroke-width="1.75" stroke-dasharray="1.67 2.75"/><g stroke-width="0.9"><path d="M669.95 297.4L671.5 298.95L673.05 297.4L674.6 298.95L673.05 300.5L674.6 302.05L673.05 303.6L671.5 302.05L669.95 303.6L668.4 302.05L669.95 300.5L668.4 298.95Z"/></g></g>
<text x="692.8" y="303.1" font-size="8.5px" textLength="25.6" lengthAdjust="spacingAndGlyphs">Bezau</text>
<g stroke="#ff0000" fill="#ff0000"><path d="M653.9 314H686.9" fill="none" stroke-width="1.75" stroke-dasharray="1.67 2.75"/><g stroke-width="0.9"><path d="M669.95 311.4L671.5 312.95L673.05 311.4L674.6 312.95L673.05 314.5L674.6 316.05L673.05 317.6L671.5 316.05L669.95 317.6L668.4 316.05L669.95 314.5L668.4 312.95Z"/></g></g>
<text x="692.8" y="317.1" font-size="8.5px" textLength="40.32" lengthAdjust="spacingAndGlyphs">Wildkogel</text>
<g stroke="#008000" fill="#008000"><path d="M653.9 327H686.9" fill="none" stroke-width="1.75" stroke-dasharray="1.67 2.75"/><g stroke-width="0.9"><path d="M669.95 324.4L671.5 325.95L673.05 324.4L674.6 325.95L673.05 327.5L674.6 329.05L673.05 330.6L671.5 329.05L669.95 330.6L668.4 329.05L669.95 327.5L668.4 325.95Z"/></g></g>
<text x="692.8" y="330.1" font-size="8.5px" textLength="21.98" lengthAdjust="spacingAndGlyphs">Golm</text>
<g stroke="#0000ff" fill="#0000ff"><path d="M653.9 340H686.9" fill="none" stroke-width="1.75" stroke-dasharray="1.67 2.75"/><g stroke-width="0.9"><path d="M669.95 337.4L671.5 338.95L673.05 337.4L674.6 338.95L673.05 340.5L674.6 342.05L673.05 343.6L671.5 342.05L669.95 343.6L668.4 342.05L669.95 340.5L668.4 338.95Z"/></g></g>
<text x="692.8" y="343.1" font-size="8.5px" textLength="31.87" lengthAdjust="spacingAndGlyphs">Hensler</text>
<g stroke="#00bfbf" fill="#00bfbf"><path d="M653.9 353H686.9" fill="none" stroke-width="1.75" stroke-dasharray="1.67 2.75"/><g stroke-width="0.9"><path d="M669.95 350.4L671.5 351.95L673.05 350.4L674.6 351.95L673.05 353.5L674.6 355.05L673.05 356.6L671.5 355.05L669.95 356.6L668.4 355.05L669.95 353.5L668.4 351.95Z"/></g></g>
<text x="692.8" y="356.1" font-size="8.5px" textLength="43.62" lengthAdjust="spacingAndGlyphs">Steinkogel</text>
<g stroke="#bf00bf" fill="#bf00bf"><path d="M653.9 366H686.9" fill="none" stroke-width="1.75" stroke-dasharray="1.67 2.75"/><g stroke-width="0.9"><path d="M669.95 363.4L671.5 364.95L673.05 363.4L674.6 364.95L673.05 366.5L674.6 368.05L673.05 369.6L671.5 368.05L669.95 369.6L668.4 368.05L669.95 366.5L668.4 364.95Z"/></g></g>
<text x="692.8" y="369.1" font-size="8.5px" textLength="41.54" lengthAdjust="spacingAndGlyphs">Hochstein</text>
</svg>
</body></html>
